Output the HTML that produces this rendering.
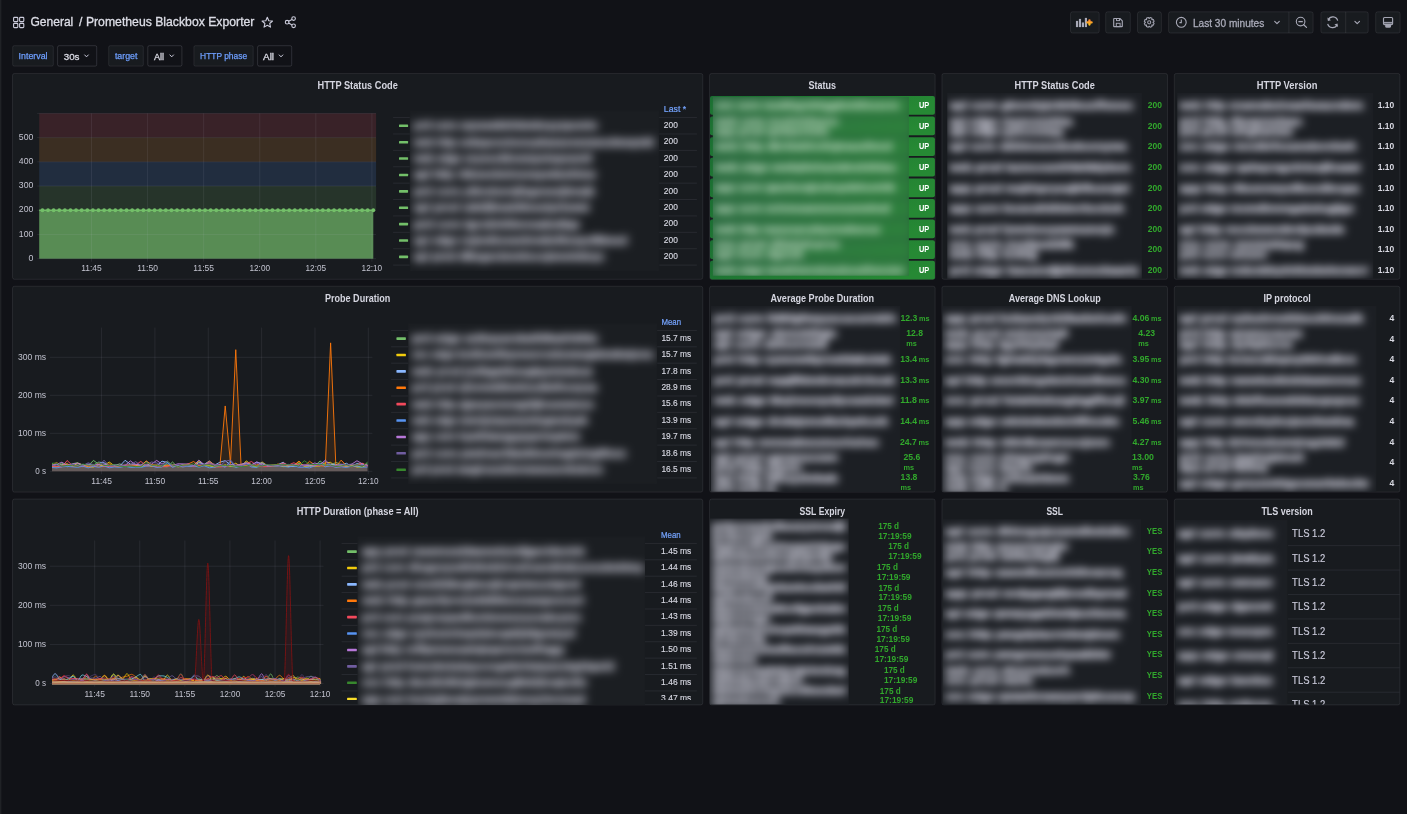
<!DOCTYPE html>
<html><head><meta charset="utf-8"><title>Prometheus Blackbox Exporter - Grafana</title>
<style>html,body{margin:0;padding:0;background:#111217;overflow:hidden}svg{display:block}text{font-family:'Liberation Sans', Arial, sans-serif}</style>
</head><body>
<svg width="1407" height="814" viewBox="0 0 1407 814">
<defs><filter id="b45" x="-10%" y="-10%" width="120%" height="120%" color-interpolation-filters="sRGB"><feGaussianBlur stdDeviation="4.5"/></filter><filter id="b50" x="-10%" y="-10%" width="120%" height="120%" color-interpolation-filters="sRGB"><feGaussianBlur stdDeviation="5.0"/></filter><linearGradient id="gstat" x1="0" y1="0" x2="1" y2="0.3"><stop offset="0" stop-color="#1b6e32"/><stop offset="1" stop-color="#268934"/></linearGradient><linearGradient id="gstat2" x1="0" y1="0" x2="1" y2="0.3"><stop offset="0" stop-color="#2f6e45"/><stop offset="1" stop-color="#2d7f3c"/></linearGradient></defs>
<rect x="0" y="0" width="1407" height="814" fill="#111217" />
<rect x="0" y="0" width="1.4" height="814" fill="#202226" />
<rect x="13.6" y="17.4" width="4.2" height="4.2" fill="none" rx="0.8" stroke="#ccccdc" stroke-width="1.1" />
<rect x="19.6" y="17.4" width="4.2" height="4.2" fill="none" rx="0.8" stroke="#ccccdc" stroke-width="1.1" />
<rect x="13.6" y="23.4" width="4.2" height="4.2" fill="none" rx="0.8" stroke="#ccccdc" stroke-width="1.1" />
<rect x="19.6" y="23.4" width="4.2" height="4.2" fill="none" rx="0.8" stroke="#ccccdc" stroke-width="1.1" />
<text x="30.4" y="26.4" font-size="13.2" fill="#dcdde6" stroke="#dcdde6" stroke-width="0.35" font-weight="500" textLength="42.9" lengthAdjust="spacingAndGlyphs" >General</text>
<text x="79.1" y="26.4" font-size="13.2" fill="#dcdde6" stroke="#dcdde6" stroke-width="0.35" font-weight="500" textLength="175.3" lengthAdjust="spacingAndGlyphs" >/ Prometheus Blackbox Exporter</text>
<polygon points="267.3,17.2 268.77,20.68 272.53,21 269.68,23.47 270.53,27.15 267.3,25.2 264.07,27.15 264.92,23.47 262.07,21 265.83,20.68" fill="none" stroke="#ccccdc" stroke-width="1.1" stroke-linejoin="round"/>
<g fill="none" stroke="#ccccdc" stroke-width="1.1"><circle cx="293.6" cy="18.6" r="1.8"/><circle cx="293.6" cy="25.8" r="1.8"/><circle cx="287.1" cy="22.2" r="1.8"/><line x1="288.7" y1="21.3" x2="292" y2="19.5"/><line x1="288.7" y1="23.1" x2="292" y2="24.9"/></g>
<rect x="1070.5" y="11.8" width="28.7" height="21.2" fill="#181b1f" rx="2" stroke="rgba(204,204,220,0.10)" stroke-width="1" />
<rect x="1105.7" y="11.8" width="24.6" height="21.2" fill="#181b1f" rx="2" stroke="rgba(204,204,220,0.10)" stroke-width="1" />
<rect x="1137.5" y="11.8" width="23.9" height="21.2" fill="#181b1f" rx="2" stroke="rgba(204,204,220,0.10)" stroke-width="1" />
<rect x="1168.6" y="11.8" width="144.5" height="21.2" fill="#181b1f" rx="2" stroke="rgba(204,204,220,0.10)" stroke-width="1" />
<rect x="1320.9" y="11.8" width="47.3" height="21.2" fill="#181b1f" rx="2" stroke="rgba(204,204,220,0.10)" stroke-width="1" />
<rect x="1375.7" y="11.8" width="24.4" height="21.2" fill="#181b1f" rx="2" stroke="rgba(204,204,220,0.10)" stroke-width="1" />
<line x1="1288.9" y1="11.8" x2="1288.9" y2="33" stroke="rgba(204,204,220,0.10)" stroke-width="1" />
<line x1="1345.7" y1="11.8" x2="1345.7" y2="33" stroke="rgba(204,204,220,0.10)" stroke-width="1" />
<rect x="1075.95" y="20.9" width="2.15" height="6.2" fill="#a8a9b7" />
<rect x="1078.9" y="18.9" width="2.15" height="8.2" fill="#a8a9b7" />
<rect x="1081.85" y="22.45" width="2.15" height="4.65" fill="#a8a9b7" />
<rect x="1084.85" y="17.9" width="2.15" height="9.2" fill="#a8a9b7" />
<linearGradient id="gplus" x1="0" y1="0" x2="0" y2="1"><stop offset="0" stop-color="#ff8733"/><stop offset="1" stop-color="#ffc21a"/></linearGradient>
<path d="M1089.45 20.3 L1089.45 24.6 M1087.3 22.45 L1091.6 22.45" stroke="url(#gplus)" stroke-width="2.3" stroke-linecap="round"/>
<path d="M1114.1 18.5 H1119.9 L1122.3 20.9 V26.2 Q1122.3 26.6 1121.9 26.6 H1114.1 Q1113.7 26.6 1113.7 26.2 V18.9 Q1113.7 18.5 1114.1 18.5 Z" fill="none" stroke="#a3a4b2" stroke-width="1.15" stroke-linejoin="round"/><rect x="1116.5" y="18.5" width="3" height="2.1" fill="none" stroke="#a3a4b2" stroke-width="1.0"/><rect x="1116.3" y="23.3" width="3.8" height="3.3" fill="none" stroke="#a3a4b2" stroke-width="1.0"/>
<polygon points="1153.05,22.48 1154.11,23.31 1153.35,25.14 1152.01,24.98 1151.83,25.16 1151.99,26.5 1150.16,27.26 1149.33,26.2 1149.07,26.2 1148.24,27.26 1146.41,26.5 1146.57,25.16 1146.39,24.98 1145.05,25.14 1144.29,23.31 1145.35,22.48 1145.35,22.22 1144.29,21.39 1145.05,19.56 1146.39,19.72 1146.57,19.54 1146.41,18.2 1148.24,17.44 1149.07,18.5 1149.33,18.5 1150.16,17.44 1151.99,18.2 1151.83,19.54 1152.01,19.72 1153.35,19.56 1154.11,21.39 1153.05,22.22" fill="none" stroke="#a3a4b2" stroke-width="1.05" stroke-linejoin="round"/>
<circle cx="1149.2" cy="22.35" r="1.55" fill="none" stroke="#a3a4b2" stroke-width="1.05"/>
<circle cx="1181.3" cy="22.3" r="4.9" fill="none" stroke="#a9aab8" stroke-width="1.1"/><path d="M1181.3 19.4 V22.6 H1179.4" fill="none" stroke="#a9aab8" stroke-width="1.1"/>
<text x="1193" y="26.5" font-size="10.6" fill="#a9aab8" stroke="#a9aab8" stroke-width="0.3" font-weight="500" textLength="71.2" lengthAdjust="spacingAndGlyphs" >Last 30 minutes</text>
<path d="M1274.7 21.3 L1277 23.7 L1279.3 21.3" fill="none" stroke="#a9aab8" stroke-width="1.1" stroke-linecap="round" stroke-linejoin="round"/>
<circle cx="1300.6" cy="21.6" r="4.3" fill="none" stroke="#a9aab8" stroke-width="1.1"/><line x1="1303.7" y1="24.7" x2="1306.5" y2="27.4" stroke="#a9aab8" stroke-width="1.2" stroke-linecap="round"/><line x1="1298.4" y1="21.6" x2="1302.8" y2="21.6" stroke="#a9aab8" stroke-width="1.3"/>
<path d="M1337.7 20.7 A5 5 0 0 0 1328.3 19.9 M1327.7 23.9 A5 5 0 0 0 1337.1 24.7" fill="none" stroke="#a9aab8" stroke-width="1.2"/><path d="M1327.4 17.6 L1327.9 21 L1331 20.2 Z M1338 27 L1337.5 23.6 L1334.4 24.4 Z" fill="#a9aab8"/>
<path d="M1354.9 21.3 L1357.2 23.7 L1359.5 21.3" fill="none" stroke="#a9aab8" stroke-width="1.1" stroke-linecap="round" stroke-linejoin="round"/>
<rect x="1383.5" y="17.5" width="9.1" height="7.1" rx="1" fill="none" stroke="#a3a4b2" stroke-width="1.15"/><rect x="1384" y="22.3" width="8.2" height="2.3" fill="#a3a4b2" fill-opacity="0.55"/><line x1="1383.5" y1="22.4" x2="1392.6" y2="22.4" stroke="#a3a4b2" stroke-width="1"/><path d="M1385.2 24.6 H1391 V26.3 Q1391 27.8 1389.5 27.8 H1386.7 Q1385.2 27.8 1385.2 26.3 Z" fill="#a3a4b2"/>
<rect x="12.7" y="45.7" width="40.6" height="20.4" fill="#181b1f" rx="1.5" stroke="rgba(204,204,220,0.10)" stroke-width="1" />
<text x="18.6" y="59.1" font-size="8.6" fill="#6e9fff" stroke="#6e9fff" stroke-width="0.25" font-weight="500" textLength="28.9" lengthAdjust="spacingAndGlyphs" >Interval</text>
<rect x="57.6" y="45.7" width="39.1" height="20.4" fill="#111217" rx="1.5" stroke="rgba(204,204,220,0.16)" stroke-width="1" />
<text x="63.7" y="59.6" font-size="9.6" fill="#d8d9e2" stroke="#d8d9e2" stroke-width="0.3" textLength="15.8" lengthAdjust="spacingAndGlyphs" >30s</text>
<path d="M84.7 54.95 L86.5 56.85 L88.3 54.95" fill="none" stroke="#ccccdc" stroke-width="1" stroke-linecap="round" stroke-linejoin="round"/>
<rect x="108.7" y="45.7" width="34.6" height="20.4" fill="#181b1f" rx="1.5" stroke="rgba(204,204,220,0.10)" stroke-width="1" />
<text x="114.9" y="59.1" font-size="8.6" fill="#6e9fff" stroke="#6e9fff" stroke-width="0.25" font-weight="500" textLength="22.6" lengthAdjust="spacingAndGlyphs" >target</text>
<rect x="147.8" y="45.7" width="34.1" height="20.4" fill="#111217" rx="1.5" stroke="rgba(204,204,220,0.16)" stroke-width="1" />
<text x="153.9" y="59.6" font-size="9.6" fill="#d8d9e2" stroke="#d8d9e2" stroke-width="0.3" textLength="10.2" lengthAdjust="spacingAndGlyphs" >All</text>
<path d="M169.9 54.95 L171.7 56.85 L173.5 54.95" fill="none" stroke="#ccccdc" stroke-width="1" stroke-linecap="round" stroke-linejoin="round"/>
<rect x="193.9" y="45.7" width="59.3" height="20.4" fill="#181b1f" rx="1.5" stroke="rgba(204,204,220,0.10)" stroke-width="1" />
<text x="200.1" y="59.1" font-size="8.6" fill="#6e9fff" stroke="#6e9fff" stroke-width="0.25" font-weight="500" textLength="47" lengthAdjust="spacingAndGlyphs" >HTTP phase</text>
<rect x="257.6" y="45.7" width="34.1" height="20.4" fill="#111217" rx="1.5" stroke="rgba(204,204,220,0.16)" stroke-width="1" />
<text x="263" y="59.6" font-size="9.6" fill="#d8d9e2" stroke="#d8d9e2" stroke-width="0.3" textLength="11.1" lengthAdjust="spacingAndGlyphs" >All</text>
<path d="M279.2 54.95 L281 56.85 L282.8 54.95" fill="none" stroke="#ccccdc" stroke-width="1" stroke-linecap="round" stroke-linejoin="round"/>
<rect x="12.5" y="73.45" width="690.28" height="205.85" fill="#181b1f" rx="2" stroke="rgba(204,204,220,0.10)" stroke-width="1" />
<text x="357.64" y="89.1" font-size="10.4" fill="#d5d6e0" font-weight="700" text-anchor="middle" textLength="80.3" lengthAdjust="spacingAndGlyphs" >HTTP Status Code</text>
<rect x="709.58" y="73.45" width="225.56" height="205.85" fill="#181b1f" rx="2" stroke="rgba(204,204,220,0.10)" stroke-width="1" />
<text x="822.36" y="89.1" font-size="10.4" fill="#d5d6e0" font-weight="700" text-anchor="middle" textLength="27.6" lengthAdjust="spacingAndGlyphs" >Status</text>
<rect x="941.94" y="73.45" width="225.56" height="205.85" fill="#181b1f" rx="2" stroke="rgba(204,204,220,0.10)" stroke-width="1" />
<text x="1054.72" y="89.1" font-size="10.4" fill="#d5d6e0" font-weight="700" text-anchor="middle" textLength="80.3" lengthAdjust="spacingAndGlyphs" >HTTP Status Code</text>
<rect x="1174.3" y="73.45" width="225.56" height="205.85" fill="#181b1f" rx="2" stroke="rgba(204,204,220,0.10)" stroke-width="1" />
<text x="1287.08" y="89.1" font-size="10.4" fill="#d5d6e0" font-weight="700" text-anchor="middle" textLength="60.6" lengthAdjust="spacingAndGlyphs" >HTTP Version</text>
<rect x="12.5" y="286.25" width="690.28" height="205.85" fill="#181b1f" rx="2" stroke="rgba(204,204,220,0.10)" stroke-width="1" />
<text x="357.64" y="301.9" font-size="10.4" fill="#d5d6e0" font-weight="700" text-anchor="middle" textLength="65.3" lengthAdjust="spacingAndGlyphs" >Probe Duration</text>
<rect x="709.58" y="286.25" width="225.56" height="205.85" fill="#181b1f" rx="2" stroke="rgba(204,204,220,0.10)" stroke-width="1" />
<text x="822.36" y="301.9" font-size="10.4" fill="#d5d6e0" font-weight="700" text-anchor="middle" textLength="103.5" lengthAdjust="spacingAndGlyphs" >Average Probe Duration</text>
<rect x="941.94" y="286.25" width="225.56" height="205.85" fill="#181b1f" rx="2" stroke="rgba(204,204,220,0.10)" stroke-width="1" />
<text x="1054.72" y="301.9" font-size="10.4" fill="#d5d6e0" font-weight="700" text-anchor="middle" textLength="91.9" lengthAdjust="spacingAndGlyphs" >Average DNS Lookup</text>
<rect x="1174.3" y="286.25" width="225.56" height="205.85" fill="#181b1f" rx="2" stroke="rgba(204,204,220,0.10)" stroke-width="1" />
<text x="1287.08" y="301.9" font-size="10.4" fill="#d5d6e0" font-weight="700" text-anchor="middle" textLength="47.3" lengthAdjust="spacingAndGlyphs" >IP protocol</text>
<rect x="12.5" y="499.05" width="690.28" height="205.85" fill="#181b1f" rx="2" stroke="rgba(204,204,220,0.10)" stroke-width="1" />
<text x="357.64" y="514.7" font-size="10.4" fill="#d5d6e0" font-weight="700" text-anchor="middle" textLength="121.9" lengthAdjust="spacingAndGlyphs" >HTTP Duration (phase = All)</text>
<rect x="709.58" y="499.05" width="225.56" height="205.85" fill="#181b1f" rx="2" stroke="rgba(204,204,220,0.10)" stroke-width="1" />
<text x="822.36" y="514.7" font-size="10.4" fill="#d5d6e0" font-weight="700" text-anchor="middle" textLength="45.6" lengthAdjust="spacingAndGlyphs" >SSL Expiry</text>
<rect x="941.94" y="499.05" width="225.56" height="205.85" fill="#181b1f" rx="2" stroke="rgba(204,204,220,0.10)" stroke-width="1" />
<text x="1054.72" y="514.7" font-size="10.4" fill="#d5d6e0" font-weight="700" text-anchor="middle" textLength="16.6" lengthAdjust="spacingAndGlyphs" >SSL</text>
<rect x="1174.3" y="499.05" width="225.56" height="205.85" fill="#181b1f" rx="2" stroke="rgba(204,204,220,0.10)" stroke-width="1" />
<text x="1287.08" y="514.7" font-size="10.4" fill="#d5d6e0" font-weight="700" text-anchor="middle" textLength="51.4" lengthAdjust="spacingAndGlyphs" >TLS version</text>
<rect x="39.2" y="113.4" width="336.9" height="24.22" fill="#392228" />
<rect x="39.2" y="137.62" width="336.9" height="24.22" fill="#3b2e22" />
<rect x="39.2" y="161.83" width="336.9" height="24.22" fill="#212d3f" />
<rect x="39.2" y="186.05" width="336.9" height="24.22" fill="#26342a" />
<rect x="39.2" y="210.27" width="334.1" height="48.43" fill="#588c54" />
<line x1="91.5" y1="113.4" x2="91.5" y2="261.7" stroke="rgba(204,204,220,0.09)" stroke-width="1" />
<line x1="147.58" y1="113.4" x2="147.58" y2="261.7" stroke="rgba(204,204,220,0.09)" stroke-width="1" />
<line x1="203.66" y1="113.4" x2="203.66" y2="261.7" stroke="rgba(204,204,220,0.09)" stroke-width="1" />
<line x1="259.74" y1="113.4" x2="259.74" y2="261.7" stroke="rgba(204,204,220,0.09)" stroke-width="1" />
<line x1="315.82" y1="113.4" x2="315.82" y2="261.7" stroke="rgba(204,204,220,0.09)" stroke-width="1" />
<line x1="371.9" y1="113.4" x2="371.9" y2="261.7" stroke="rgba(204,204,220,0.09)" stroke-width="1" />
<line x1="37.2" y1="258.7" x2="376.1" y2="258.7" stroke="rgba(204,204,220,0.09)" stroke-width="1" />
<line x1="37.2" y1="234.48" x2="376.1" y2="234.48" stroke="rgba(204,204,220,0.09)" stroke-width="1" />
<line x1="37.2" y1="210.27" x2="376.1" y2="210.27" stroke="rgba(204,204,220,0.09)" stroke-width="1" />
<line x1="37.2" y1="186.05" x2="376.1" y2="186.05" stroke="rgba(204,204,220,0.09)" stroke-width="1" />
<line x1="37.2" y1="161.83" x2="376.1" y2="161.83" stroke="rgba(204,204,220,0.09)" stroke-width="1" />
<line x1="37.2" y1="137.62" x2="376.1" y2="137.62" stroke="rgba(204,204,220,0.09)" stroke-width="1" />
<line x1="37.2" y1="113.4" x2="376.1" y2="113.4" stroke="rgba(204,204,220,0.09)" stroke-width="1" />
<line x1="39.2" y1="210.27" x2="373.3" y2="210.27" stroke="#73BF69" stroke-width="1.5" />
<g fill="#73BF69"><circle cx="373.3" cy="210.27" r="1.9"/><circle cx="367.69" cy="210.27" r="1.9"/><circle cx="362.08" cy="210.27" r="1.9"/><circle cx="356.48" cy="210.27" r="1.9"/><circle cx="350.87" cy="210.27" r="1.9"/><circle cx="345.26" cy="210.27" r="1.9"/><circle cx="339.65" cy="210.27" r="1.9"/><circle cx="334.04" cy="210.27" r="1.9"/><circle cx="328.44" cy="210.27" r="1.9"/><circle cx="322.83" cy="210.27" r="1.9"/><circle cx="317.22" cy="210.27" r="1.9"/><circle cx="311.61" cy="210.27" r="1.9"/><circle cx="306" cy="210.27" r="1.9"/><circle cx="300.4" cy="210.27" r="1.9"/><circle cx="294.79" cy="210.27" r="1.9"/><circle cx="289.18" cy="210.27" r="1.9"/><circle cx="283.57" cy="210.27" r="1.9"/><circle cx="277.96" cy="210.27" r="1.9"/><circle cx="272.36" cy="210.27" r="1.9"/><circle cx="266.75" cy="210.27" r="1.9"/><circle cx="261.14" cy="210.27" r="1.9"/><circle cx="255.53" cy="210.27" r="1.9"/><circle cx="249.92" cy="210.27" r="1.9"/><circle cx="244.32" cy="210.27" r="1.9"/><circle cx="238.71" cy="210.27" r="1.9"/><circle cx="233.1" cy="210.27" r="1.9"/><circle cx="227.49" cy="210.27" r="1.9"/><circle cx="221.88" cy="210.27" r="1.9"/><circle cx="216.28" cy="210.27" r="1.9"/><circle cx="210.67" cy="210.27" r="1.9"/><circle cx="205.06" cy="210.27" r="1.9"/><circle cx="199.45" cy="210.27" r="1.9"/><circle cx="193.84" cy="210.27" r="1.9"/><circle cx="188.24" cy="210.27" r="1.9"/><circle cx="182.63" cy="210.27" r="1.9"/><circle cx="177.02" cy="210.27" r="1.9"/><circle cx="171.41" cy="210.27" r="1.9"/><circle cx="165.8" cy="210.27" r="1.9"/><circle cx="160.2" cy="210.27" r="1.9"/><circle cx="154.59" cy="210.27" r="1.9"/><circle cx="148.98" cy="210.27" r="1.9"/><circle cx="143.37" cy="210.27" r="1.9"/><circle cx="137.76" cy="210.27" r="1.9"/><circle cx="132.16" cy="210.27" r="1.9"/><circle cx="126.55" cy="210.27" r="1.9"/><circle cx="120.94" cy="210.27" r="1.9"/><circle cx="115.33" cy="210.27" r="1.9"/><circle cx="109.72" cy="210.27" r="1.9"/><circle cx="104.12" cy="210.27" r="1.9"/><circle cx="98.51" cy="210.27" r="1.9"/><circle cx="92.9" cy="210.27" r="1.9"/><circle cx="87.29" cy="210.27" r="1.9"/><circle cx="81.68" cy="210.27" r="1.9"/><circle cx="76.08" cy="210.27" r="1.9"/><circle cx="70.47" cy="210.27" r="1.9"/><circle cx="64.86" cy="210.27" r="1.9"/><circle cx="59.25" cy="210.27" r="1.9"/><circle cx="53.64" cy="210.27" r="1.9"/><circle cx="48.04" cy="210.27" r="1.9"/><circle cx="42.43" cy="210.27" r="1.9"/></g>
<text x="33.3" y="139.82" font-size="9.5" fill="#c2c3cf" text-anchor="end" textLength="14.5" lengthAdjust="spacingAndGlyphs" >500</text>
<text x="33.3" y="164.03" font-size="9.5" fill="#c2c3cf" text-anchor="end" textLength="14.5" lengthAdjust="spacingAndGlyphs" >400</text>
<text x="33.3" y="188.25" font-size="9.5" fill="#c2c3cf" text-anchor="end" textLength="14.5" lengthAdjust="spacingAndGlyphs" >300</text>
<text x="33.3" y="212.47" font-size="9.5" fill="#c2c3cf" text-anchor="end" textLength="14.5" lengthAdjust="spacingAndGlyphs" >200</text>
<text x="33.3" y="236.68" font-size="9.5" fill="#c2c3cf" text-anchor="end" textLength="14.5" lengthAdjust="spacingAndGlyphs" >100</text>
<text x="33.3" y="260.9" font-size="9.5" fill="#c2c3cf" text-anchor="end" textLength="4.9" lengthAdjust="spacingAndGlyphs" >0</text>
<text x="91.5" y="271.1" font-size="9.5" fill="#c2c3cf" text-anchor="middle" textLength="20.6" lengthAdjust="spacingAndGlyphs" >11:45</text>
<text x="147.58" y="271.1" font-size="9.5" fill="#c2c3cf" text-anchor="middle" textLength="20.6" lengthAdjust="spacingAndGlyphs" >11:50</text>
<text x="203.66" y="271.1" font-size="9.5" fill="#c2c3cf" text-anchor="middle" textLength="20.6" lengthAdjust="spacingAndGlyphs" >11:55</text>
<text x="259.74" y="271.1" font-size="9.5" fill="#c2c3cf" text-anchor="middle" textLength="20.6" lengthAdjust="spacingAndGlyphs" >12:00</text>
<text x="315.82" y="271.1" font-size="9.5" fill="#c2c3cf" text-anchor="middle" textLength="20.6" lengthAdjust="spacingAndGlyphs" >12:05</text>
<text x="371.9" y="271.1" font-size="9.5" fill="#c2c3cf" text-anchor="middle" textLength="20.6" lengthAdjust="spacingAndGlyphs" >12:10</text>
<text x="663.8" y="111.9" font-size="8.8" fill="#75a4ff" stroke="#75a4ff" stroke-width="0.2" font-weight="500" textLength="22.4" lengthAdjust="spacingAndGlyphs" >Last *</text>
<line x1="393.1" y1="117.6" x2="409.8" y2="117.6" stroke="rgba(204,204,220,0.09)" stroke-width="1" />
<line x1="659.1" y1="117.6" x2="696.9" y2="117.6" stroke="rgba(204,204,220,0.09)" stroke-width="1" />
<line x1="393.1" y1="133.99" x2="409.8" y2="133.99" stroke="rgba(204,204,220,0.09)" stroke-width="1" />
<line x1="659.1" y1="133.99" x2="696.9" y2="133.99" stroke="rgba(204,204,220,0.09)" stroke-width="1" />
<line x1="393.1" y1="150.38" x2="409.8" y2="150.38" stroke="rgba(204,204,220,0.09)" stroke-width="1" />
<line x1="659.1" y1="150.38" x2="696.9" y2="150.38" stroke="rgba(204,204,220,0.09)" stroke-width="1" />
<line x1="393.1" y1="166.77" x2="409.8" y2="166.77" stroke="rgba(204,204,220,0.09)" stroke-width="1" />
<line x1="659.1" y1="166.77" x2="696.9" y2="166.77" stroke="rgba(204,204,220,0.09)" stroke-width="1" />
<line x1="393.1" y1="183.16" x2="409.8" y2="183.16" stroke="rgba(204,204,220,0.09)" stroke-width="1" />
<line x1="659.1" y1="183.16" x2="696.9" y2="183.16" stroke="rgba(204,204,220,0.09)" stroke-width="1" />
<line x1="393.1" y1="199.55" x2="409.8" y2="199.55" stroke="rgba(204,204,220,0.09)" stroke-width="1" />
<line x1="659.1" y1="199.55" x2="696.9" y2="199.55" stroke="rgba(204,204,220,0.09)" stroke-width="1" />
<line x1="393.1" y1="215.94" x2="409.8" y2="215.94" stroke="rgba(204,204,220,0.09)" stroke-width="1" />
<line x1="659.1" y1="215.94" x2="696.9" y2="215.94" stroke="rgba(204,204,220,0.09)" stroke-width="1" />
<line x1="393.1" y1="232.33" x2="409.8" y2="232.33" stroke="rgba(204,204,220,0.09)" stroke-width="1" />
<line x1="659.1" y1="232.33" x2="696.9" y2="232.33" stroke="rgba(204,204,220,0.09)" stroke-width="1" />
<line x1="393.1" y1="248.72" x2="409.8" y2="248.72" stroke="rgba(204,204,220,0.09)" stroke-width="1" />
<line x1="659.1" y1="248.72" x2="696.9" y2="248.72" stroke="rgba(204,204,220,0.09)" stroke-width="1" />
<line x1="393.1" y1="265.11" x2="409.8" y2="265.11" stroke="rgba(204,204,220,0.09)" stroke-width="1" />
<line x1="659.1" y1="265.11" x2="696.9" y2="265.11" stroke="rgba(204,204,220,0.09)" stroke-width="1" />
<rect x="399" y="124.49" width="9.1" height="2.6" fill="#73BF69" rx="0.6" />
<text x="663.8" y="128" font-size="8.5" fill="#d6d7e1" stroke="#d6d7e1" stroke-width="0.15" textLength="14" lengthAdjust="spacingAndGlyphs" >200</text>
<rect x="399" y="140.88" width="9.1" height="2.6" fill="#73BF69" rx="0.6" />
<text x="663.8" y="144.39" font-size="8.5" fill="#d6d7e1" stroke="#d6d7e1" stroke-width="0.15" textLength="14" lengthAdjust="spacingAndGlyphs" >200</text>
<rect x="399" y="157.27" width="9.1" height="2.6" fill="#73BF69" rx="0.6" />
<text x="663.8" y="160.78" font-size="8.5" fill="#d6d7e1" stroke="#d6d7e1" stroke-width="0.15" textLength="14" lengthAdjust="spacingAndGlyphs" >200</text>
<rect x="399" y="173.66" width="9.1" height="2.6" fill="#73BF69" rx="0.6" />
<text x="663.8" y="177.17" font-size="8.5" fill="#d6d7e1" stroke="#d6d7e1" stroke-width="0.15" textLength="14" lengthAdjust="spacingAndGlyphs" >200</text>
<rect x="399" y="190.05" width="9.1" height="2.6" fill="#73BF69" rx="0.6" />
<text x="663.8" y="193.56" font-size="8.5" fill="#d6d7e1" stroke="#d6d7e1" stroke-width="0.15" textLength="14" lengthAdjust="spacingAndGlyphs" >200</text>
<rect x="399" y="206.44" width="9.1" height="2.6" fill="#73BF69" rx="0.6" />
<text x="663.8" y="209.95" font-size="8.5" fill="#d6d7e1" stroke="#d6d7e1" stroke-width="0.15" textLength="14" lengthAdjust="spacingAndGlyphs" >200</text>
<rect x="399" y="222.83" width="9.1" height="2.6" fill="#73BF69" rx="0.6" />
<text x="663.8" y="226.34" font-size="8.5" fill="#d6d7e1" stroke="#d6d7e1" stroke-width="0.15" textLength="14" lengthAdjust="spacingAndGlyphs" >200</text>
<rect x="399" y="239.22" width="9.1" height="2.6" fill="#73BF69" rx="0.6" />
<text x="663.8" y="242.73" font-size="8.5" fill="#d6d7e1" stroke="#d6d7e1" stroke-width="0.15" textLength="14" lengthAdjust="spacingAndGlyphs" >200</text>
<rect x="399" y="255.62" width="9.1" height="2.6" fill="#73BF69" rx="0.6" />
<text x="663.8" y="259.12" font-size="8.5" fill="#d6d7e1" stroke="#d6d7e1" stroke-width="0.15" textLength="14" lengthAdjust="spacingAndGlyphs" >200</text>
<clipPath id="c1"><rect x="409.8" y="110.6" width="249.3" height="160.51"/></clipPath>
<g clip-path="url(#c1)"><g filter="url(#b50)">
<rect x="401.8" y="102.6" width="265.3" height="176.51" fill="#1b1e22" />
<text x="413.8" y="129.26" font-size="10.5" fill="#dcdcea" stroke="#dcdcea" stroke-width="0.5" font-weight="700" textLength="183.8" lengthAdjust="spacingAndGlyphs" >prd core xqnxeebbfxkmknyyzpcmto</text>
<text x="413.8" y="145.66" font-size="10.5" fill="#dcdcea" stroke="#dcdcea" stroke-width="0.5" font-weight="700" textLength="240.2" lengthAdjust="spacingAndGlyphs" >web http unkapcnciuvzcphaxaooexmncdwxqmbl</text>
<text x="413.8" y="162.04" font-size="10.5" fill="#dcdcea" stroke="#dcdcea" stroke-width="0.5" font-weight="700" textLength="178.2" lengthAdjust="spacingAndGlyphs" >web edge snysuckbnzmpshepnemtl</text>
<text x="413.8" y="178.43" font-size="10.5" fill="#dcdcea" stroke="#dcdcea" stroke-width="0.5" font-weight="700" textLength="182.2" lengthAdjust="spacingAndGlyphs" >api http rbbseobxlouvayedexhlme</text>
<text x="413.8" y="194.82" font-size="10.5" fill="#dcdcea" stroke="#dcdcea" stroke-width="0.5" font-weight="700" textLength="181.1" lengthAdjust="spacingAndGlyphs" >prd core ytknduvnjfzgsnezjtmejk</text>
<text x="413.8" y="211.22" font-size="10.5" fill="#dcdcea" stroke="#dcdcea" stroke-width="0.5" font-weight="700" textLength="175.7" lengthAdjust="spacingAndGlyphs" >api prod udsfjhnatdteuslpriuww</text>
<text x="413.8" y="227.6" font-size="10.5" fill="#dcdcea" stroke="#dcdcea" stroke-width="0.5" font-weight="700" textLength="166.2" lengthAdjust="spacingAndGlyphs" >prd core lgrzdnkiknvuabxtlqe</text>
<text x="413.8" y="243.99" font-size="10.5" fill="#dcdcea" stroke="#dcdcea" stroke-width="0.5" font-weight="700" textLength="213.5" lengthAdjust="spacingAndGlyphs" >api edge nsjmdbsoavknwknfkoxpxfkbesd</text>
<text x="413.8" y="260.38" font-size="10.5" fill="#dcdcea" stroke="#dcdcea" stroke-width="0.5" font-weight="700" textLength="190.5" lengthAdjust="spacingAndGlyphs" >api prod diksgecbnmhcccjmnnkdcqo</text>
</g></g>
<line x1="101.6" y1="327.6" x2="101.6" y2="474.3" stroke="rgba(204,204,220,0.09)" stroke-width="1" />
<line x1="154.94" y1="327.6" x2="154.94" y2="474.3" stroke="rgba(204,204,220,0.09)" stroke-width="1" />
<line x1="208.28" y1="327.6" x2="208.28" y2="474.3" stroke="rgba(204,204,220,0.09)" stroke-width="1" />
<line x1="261.62" y1="327.6" x2="261.62" y2="474.3" stroke="rgba(204,204,220,0.09)" stroke-width="1" />
<line x1="314.96" y1="327.6" x2="314.96" y2="474.3" stroke="rgba(204,204,220,0.09)" stroke-width="1" />
<line x1="368.3" y1="327.6" x2="368.3" y2="474.3" stroke="rgba(204,204,220,0.09)" stroke-width="1" />
<line x1="49.8" y1="471.3" x2="372.4" y2="471.3" stroke="rgba(204,204,220,0.09)" stroke-width="1" />
<line x1="49.8" y1="433.3" x2="372.4" y2="433.3" stroke="rgba(204,204,220,0.09)" stroke-width="1" />
<line x1="49.8" y1="395.3" x2="372.4" y2="395.3" stroke="rgba(204,204,220,0.09)" stroke-width="1" />
<line x1="49.8" y1="357.3" x2="372.4" y2="357.3" stroke="rgba(204,204,220,0.09)" stroke-width="1" />
<clipPath id="pc2"><rect x="52" y="300" width="317" height="180"/></clipPath><g clip-path="url(#pc2)">
<path d="M51.3 462.5 L56.57 466.95 L61.84 462.84 L67.11 467.03 L72.38 463.77 L77.65 462.66 L82.92 465.69 L88.19 465.8 L93.46 460.38 L98.73 464.2 L104 466.42 L109.27 466.71 L114.54 465.66 L119.81 463.79 L125.08 466.65 L130.35 466.15 L135.62 465.78 L140.89 466.44 L146.16 465.53 L151.43 465.81 L156.7 465.12 L161.97 466.46 L167.24 466.85 L172.51 462.01 L177.78 467.03 L183.05 465.38 L188.32 465.12 L193.59 465.53 L198.86 465.8 L204.13 465.2 L209.4 466.04 L214.67 466.98 L219.94 465.64 L225.21 465.25 L230.48 466.24 L235.75 467.07 L241.02 464.66 L246.29 462.72 L251.56 466.23 L256.83 466.94 L262.1 465.87 L267.37 465.25 L272.64 466.49 L277.91 466.3 L283.18 462.5 L288.45 466.59 L293.72 466.01 L298.99 463.35 L304.26 466.28 L309.53 464.95 L314.8 465.94 L320.07 460.94 L325.34 465.34 L330.61 465.3 L335.88 462.38 L341.15 464.44 L346.42 466.75 L351.69 464.64 L356.96 466.89 L362.23 467.06 L367.5 463.05 L367.5 471.3 L51.3 471.3 Z" fill="#73BF69" fill-opacity="0.1"/>
<path d="M51.3 466.33 L56.57 466.84 L61.84 464.86 L67.11 463.81 L72.38 466.34 L77.65 463.26 L82.92 464.95 L88.19 466.79 L93.46 467.06 L98.73 464.89 L104 465.53 L109.27 462.04 L114.54 465.91 L119.81 466.37 L125.08 465.27 L130.35 465.18 L135.62 465.25 L140.89 466.6 L146.16 464.32 L151.43 466.48 L156.7 465.54 L161.97 466.1 L167.24 464.87 L172.51 466.29 L177.78 466.6 L183.05 466.65 L188.32 465.07 L193.59 466.03 L198.86 461.39 L204.13 465.05 L209.4 465.41 L214.67 466.71 L219.94 466.36 L225.21 464.9 L230.48 466.2 L235.75 463.18 L241.02 466.78 L246.29 460.87 L251.56 464.88 L256.83 466.32 L262.1 461.97 L267.37 465.64 L272.64 464.99 L277.91 465.13 L283.18 466.64 L288.45 466.45 L293.72 465.78 L298.99 461.5 L304.26 466.31 L309.53 465.79 L314.8 466.16 L320.07 465.98 L325.34 462.69 L330.61 462.37 L335.88 466.73 L341.15 465.47 L346.42 466.38 L351.69 465.85 L356.96 466.88 L362.23 466.55 L367.5 465.36 L367.5 471.3 L51.3 471.3 Z" fill="#F2CC0C" fill-opacity="0.1"/>
<path d="M51.3 465.08 L56.57 464.28 L61.84 464.96 L67.11 465.19 L72.38 465.33 L77.65 465.27 L82.92 464.77 L88.19 464.21 L93.46 465.08 L98.73 462.18 L104 462.72 L109.27 466.19 L114.54 464.57 L119.81 466.01 L125.08 460.27 L130.35 464.15 L135.62 464.19 L140.89 465.25 L146.16 461.25 L151.43 465.18 L156.7 465.91 L161.97 461.13 L167.24 462.45 L172.51 464.94 L177.78 466.21 L183.05 464.56 L188.32 466.12 L193.59 466.27 L198.86 462.56 L204.13 464.28 L209.4 461.08 L214.67 465.06 L219.94 462.16 L225.21 460.64 L230.48 464.91 L235.75 466.17 L241.02 466.21 L246.29 465.33 L251.56 465.1 L256.83 462.25 L262.1 463.43 L267.37 466.25 L272.64 465.65 L277.91 464.63 L283.18 462.26 L288.45 466.32 L293.72 466.33 L298.99 465.1 L304.26 465.28 L309.53 466.12 L314.8 465.37 L320.07 464.46 L325.34 465.2 L330.61 464.12 L335.88 464.46 L341.15 464.91 L346.42 463.27 L351.69 466.2 L356.96 463.62 L362.23 464.44 L367.5 464.83 L367.5 471.3 L51.3 471.3 Z" fill="#8AB8FF" fill-opacity="0.1"/>
<path d="M51.3 466.19 L56.57 462.44 L61.84 466.14 L67.11 464.52 L72.38 466.18 L77.65 466.03 L82.92 466.74 L88.19 465.66 L93.46 466.28 L98.73 466.73 L104 466.54 L109.27 463.82 L114.54 466.21 L119.81 465.53 L125.08 465.24 L130.35 464.74 L135.62 466 L140.89 466.4 L146.16 460.83 L151.43 464.71 L156.7 465.07 L161.97 466.42 L167.24 465.59 L172.51 464.91 L177.78 465.41 L183.05 465.18 L188.32 463.91 L193.59 461.48 L198.86 465.47 L204.13 465.31 L209.4 461.3 L214.67 465.03 L219.94 465.52 L225.21 405.94 L230.48 463.46 L235.75 349.7 L241.02 465.05 L246.29 465.61 L251.56 465.65 L256.83 464.99 L262.1 462.93 L267.37 466.16 L272.64 466.05 L277.91 463.99 L283.18 465.21 L288.45 465.2 L293.72 465.56 L298.99 461.06 L304.26 466.29 L309.53 461.31 L314.8 464.87 L320.07 465.72 L325.34 466.26 L330.61 342.86 L335.88 466.42 L341.15 460.17 L346.42 465.58 L351.69 465.14 L356.96 464.69 L362.23 463.29 L367.5 465.71 L367.5 471.3 L51.3 471.3 Z" fill="#FF780A" fill-opacity="0.1"/>
<path d="M51.3 466.8 L56.57 466.4 L61.84 467.12 L67.11 460.49 L72.38 465.49 L77.65 466.46 L82.92 466.22 L88.19 465.78 L93.46 466.14 L98.73 462.57 L104 466.47 L109.27 466.55 L114.54 465.96 L119.81 466.27 L125.08 465.1 L130.35 465.68 L135.62 464.98 L140.89 461.35 L146.16 466.09 L151.43 465.65 L156.7 467.01 L161.97 466.83 L167.24 466.34 L172.51 465.44 L177.78 466.53 L183.05 466.43 L188.32 463.83 L193.59 466.65 L198.86 465.99 L204.13 465.05 L209.4 463.61 L214.67 466.91 L219.94 466.91 L225.21 466.53 L230.48 465.1 L235.75 466.18 L241.02 465.92 L246.29 463.61 L251.56 461.48 L256.83 465.68 L262.1 466.63 L267.37 466.55 L272.64 466.1 L277.91 465.19 L283.18 463.01 L288.45 465.08 L293.72 462.69 L298.99 465.01 L304.26 465.17 L309.53 464.18 L314.8 465.93 L320.07 464.97 L325.34 465.64 L330.61 466.08 L335.88 467.03 L341.15 466.59 L346.42 465.65 L351.69 466.83 L356.96 465.67 L362.23 463.37 L367.5 465.79 L367.5 471.3 L51.3 471.3 Z" fill="#F2495C" fill-opacity="0.1"/>
<path d="M51.3 467.37 L56.57 467.86 L61.84 466.83 L67.11 466.41 L72.38 466.8 L77.65 467.32 L82.92 466.27 L88.19 467.83 L93.46 466.34 L98.73 467.29 L104 465.77 L109.27 467.8 L114.54 466.92 L119.81 467.43 L125.08 466.19 L130.35 467.41 L135.62 467.17 L140.89 467.35 L146.16 466.15 L151.43 465.71 L156.7 467.45 L161.97 466.93 L167.24 462.62 L172.51 467.39 L177.78 465.47 L183.05 466.98 L188.32 465.87 L193.59 465.61 L198.86 467.13 L204.13 465.75 L209.4 467.81 L214.67 467.02 L219.94 465.22 L225.21 467.24 L230.48 460.87 L235.75 467.41 L241.02 466.01 L246.29 463.55 L251.56 467.03 L256.83 467.44 L262.1 462.69 L267.37 466.03 L272.64 465.7 L277.91 465.78 L283.18 466.18 L288.45 467.11 L293.72 465.7 L298.99 467.28 L304.26 467.16 L309.53 467.87 L314.8 465.79 L320.07 463.12 L325.34 466.8 L330.61 465.71 L335.88 467.31 L341.15 466.75 L346.42 467.46 L351.69 466.2 L356.96 466.12 L362.23 467.13 L367.5 467.05 L367.5 471.3 L51.3 471.3 Z" fill="#5794F2" fill-opacity="0.1"/>
<path d="M51.3 465.8 L56.57 464.26 L61.84 462.25 L67.11 465.24 L72.38 463.97 L77.65 463.18 L82.92 464.84 L88.19 464.96 L93.46 465.03 L98.73 464.44 L104 464.05 L109.27 465.7 L114.54 465.31 L119.81 465.13 L125.08 465.53 L130.35 460.83 L135.62 464.66 L140.89 465.08 L146.16 464.82 L151.43 464.14 L156.7 460.38 L161.97 464.11 L167.24 461.1 L172.51 465.71 L177.78 463.76 L183.05 463.86 L188.32 464.01 L193.59 465.39 L198.86 460.11 L204.13 464.57 L209.4 462.62 L214.67 465.4 L219.94 464.49 L225.21 465.95 L230.48 464.43 L235.75 465.27 L241.02 464.17 L246.29 462.73 L251.56 464.73 L256.83 461.76 L262.1 465.05 L267.37 465.28 L272.64 465.27 L277.91 465.17 L283.18 464.01 L288.45 465.15 L293.72 464.32 L298.99 465.97 L304.26 465.01 L309.53 465.05 L314.8 462.98 L320.07 464.72 L325.34 460.11 L330.61 465.13 L335.88 465.65 L341.15 464.79 L346.42 465.73 L351.69 464.15 L356.96 460.76 L362.23 463.76 L367.5 465.86 L367.5 471.3 L51.3 471.3 Z" fill="#B877D9" fill-opacity="0.1"/>
<path d="M51.3 465.48 L56.57 464.95 L61.84 465.99 L67.11 465.85 L72.38 464.43 L77.65 465.94 L82.92 465.45 L88.19 462.83 L93.46 464.71 L98.73 466.27 L104 460.18 L109.27 466.09 L114.54 465.11 L119.81 465.66 L125.08 465.03 L130.35 464.86 L135.62 461.58 L140.89 465.24 L146.16 464.62 L151.43 461.98 L156.7 462.91 L161.97 466.15 L167.24 461.36 L172.51 466.17 L177.78 464.59 L183.05 466.24 L188.32 465.5 L193.59 466.05 L198.86 464.09 L204.13 464.5 L209.4 464.12 L214.67 464.18 L219.94 465.98 L225.21 461.27 L230.48 460.01 L235.75 465.73 L241.02 466.03 L246.29 464.26 L251.56 465.76 L256.83 463.18 L262.1 465.99 L267.37 464.81 L272.64 465.98 L277.91 466.1 L283.18 464.91 L288.45 464.37 L293.72 465.04 L298.99 466.12 L304.26 464.92 L309.53 464.54 L314.8 464.1 L320.07 465.54 L325.34 461.19 L330.61 466.25 L335.88 465.78 L341.15 464.12 L346.42 464.85 L351.69 464 L356.96 464.96 L362.23 465.19 L367.5 466.06 L367.5 471.3 L51.3 471.3 Z" fill="#705DA0" fill-opacity="0.1"/>
<path d="M51.3 463.34 L56.57 462.94 L61.84 466.23 L67.11 465.4 L72.38 465.32 L77.65 466.43 L82.92 463.99 L88.19 465.28 L93.46 464.96 L98.73 462.28 L104 465.46 L109.27 465.27 L114.54 464.6 L119.81 466.17 L125.08 466.64 L130.35 465.81 L135.62 466.61 L140.89 466.71 L146.16 462.09 L151.43 465.35 L156.7 465.28 L161.97 466.34 L167.24 461.45 L172.51 464.95 L177.78 466.73 L183.05 465.04 L188.32 465.05 L193.59 463.62 L198.86 466.65 L204.13 465.03 L209.4 464.81 L214.67 466.13 L219.94 465.75 L225.21 465.55 L230.48 465.28 L235.75 466.25 L241.02 466.71 L246.29 466.2 L251.56 464.59 L256.83 465.99 L262.1 465.99 L267.37 464.67 L272.64 465.16 L277.91 464.51 L283.18 464.83 L288.45 464.78 L293.72 465.09 L298.99 466.04 L304.26 460.65 L309.53 464.19 L314.8 464.62 L320.07 464.39 L325.34 465.16 L330.61 465.15 L335.88 466.59 L341.15 465.91 L346.42 464.87 L351.69 466.59 L356.96 464.66 L362.23 466.5 L367.5 462.01 L367.5 471.3 L51.3 471.3 Z" fill="#37872D" fill-opacity="0.1"/>
<path d="M51.3 462.5 L56.57 466.95 L61.84 462.84 L67.11 467.03 L72.38 463.77 L77.65 462.66 L82.92 465.69 L88.19 465.8 L93.46 460.38 L98.73 464.2 L104 466.42 L109.27 466.71 L114.54 465.66 L119.81 463.79 L125.08 466.65 L130.35 466.15 L135.62 465.78 L140.89 466.44 L146.16 465.53 L151.43 465.81 L156.7 465.12 L161.97 466.46 L167.24 466.85 L172.51 462.01 L177.78 467.03 L183.05 465.38 L188.32 465.12 L193.59 465.53 L198.86 465.8 L204.13 465.2 L209.4 466.04 L214.67 466.98 L219.94 465.64 L225.21 465.25 L230.48 466.24 L235.75 467.07 L241.02 464.66 L246.29 462.72 L251.56 466.23 L256.83 466.94 L262.1 465.87 L267.37 465.25 L272.64 466.49 L277.91 466.3 L283.18 462.5 L288.45 466.59 L293.72 466.01 L298.99 463.35 L304.26 466.28 L309.53 464.95 L314.8 465.94 L320.07 460.94 L325.34 465.34 L330.61 465.3 L335.88 462.38 L341.15 464.44 L346.42 466.75 L351.69 464.64 L356.96 466.89 L362.23 467.06 L367.5 463.05" fill="none" stroke="#73BF69" stroke-width="0.9" stroke-linejoin="round"/>
<path d="M51.3 466.33 L56.57 466.84 L61.84 464.86 L67.11 463.81 L72.38 466.34 L77.65 463.26 L82.92 464.95 L88.19 466.79 L93.46 467.06 L98.73 464.89 L104 465.53 L109.27 462.04 L114.54 465.91 L119.81 466.37 L125.08 465.27 L130.35 465.18 L135.62 465.25 L140.89 466.6 L146.16 464.32 L151.43 466.48 L156.7 465.54 L161.97 466.1 L167.24 464.87 L172.51 466.29 L177.78 466.6 L183.05 466.65 L188.32 465.07 L193.59 466.03 L198.86 461.39 L204.13 465.05 L209.4 465.41 L214.67 466.71 L219.94 466.36 L225.21 464.9 L230.48 466.2 L235.75 463.18 L241.02 466.78 L246.29 460.87 L251.56 464.88 L256.83 466.32 L262.1 461.97 L267.37 465.64 L272.64 464.99 L277.91 465.13 L283.18 466.64 L288.45 466.45 L293.72 465.78 L298.99 461.5 L304.26 466.31 L309.53 465.79 L314.8 466.16 L320.07 465.98 L325.34 462.69 L330.61 462.37 L335.88 466.73 L341.15 465.47 L346.42 466.38 L351.69 465.85 L356.96 466.88 L362.23 466.55 L367.5 465.36" fill="none" stroke="#F2CC0C" stroke-width="0.9" stroke-linejoin="round"/>
<path d="M51.3 465.08 L56.57 464.28 L61.84 464.96 L67.11 465.19 L72.38 465.33 L77.65 465.27 L82.92 464.77 L88.19 464.21 L93.46 465.08 L98.73 462.18 L104 462.72 L109.27 466.19 L114.54 464.57 L119.81 466.01 L125.08 460.27 L130.35 464.15 L135.62 464.19 L140.89 465.25 L146.16 461.25 L151.43 465.18 L156.7 465.91 L161.97 461.13 L167.24 462.45 L172.51 464.94 L177.78 466.21 L183.05 464.56 L188.32 466.12 L193.59 466.27 L198.86 462.56 L204.13 464.28 L209.4 461.08 L214.67 465.06 L219.94 462.16 L225.21 460.64 L230.48 464.91 L235.75 466.17 L241.02 466.21 L246.29 465.33 L251.56 465.1 L256.83 462.25 L262.1 463.43 L267.37 466.25 L272.64 465.65 L277.91 464.63 L283.18 462.26 L288.45 466.32 L293.72 466.33 L298.99 465.1 L304.26 465.28 L309.53 466.12 L314.8 465.37 L320.07 464.46 L325.34 465.2 L330.61 464.12 L335.88 464.46 L341.15 464.91 L346.42 463.27 L351.69 466.2 L356.96 463.62 L362.23 464.44 L367.5 464.83" fill="none" stroke="#8AB8FF" stroke-width="0.9" stroke-linejoin="round"/>
<path d="M51.3 466.19 L56.57 462.44 L61.84 466.14 L67.11 464.52 L72.38 466.18 L77.65 466.03 L82.92 466.74 L88.19 465.66 L93.46 466.28 L98.73 466.73 L104 466.54 L109.27 463.82 L114.54 466.21 L119.81 465.53 L125.08 465.24 L130.35 464.74 L135.62 466 L140.89 466.4 L146.16 460.83 L151.43 464.71 L156.7 465.07 L161.97 466.42 L167.24 465.59 L172.51 464.91 L177.78 465.41 L183.05 465.18 L188.32 463.91 L193.59 461.48 L198.86 465.47 L204.13 465.31 L209.4 461.3 L214.67 465.03 L219.94 465.52 L225.21 405.94 L230.48 463.46 L235.75 349.7 L241.02 465.05 L246.29 465.61 L251.56 465.65 L256.83 464.99 L262.1 462.93 L267.37 466.16 L272.64 466.05 L277.91 463.99 L283.18 465.21 L288.45 465.2 L293.72 465.56 L298.99 461.06 L304.26 466.29 L309.53 461.31 L314.8 464.87 L320.07 465.72 L325.34 466.26 L330.61 342.86 L335.88 466.42 L341.15 460.17 L346.42 465.58 L351.69 465.14 L356.96 464.69 L362.23 463.29 L367.5 465.71" fill="none" stroke="#FF780A" stroke-width="0.9" stroke-linejoin="round"/>
<path d="M51.3 466.8 L56.57 466.4 L61.84 467.12 L67.11 460.49 L72.38 465.49 L77.65 466.46 L82.92 466.22 L88.19 465.78 L93.46 466.14 L98.73 462.57 L104 466.47 L109.27 466.55 L114.54 465.96 L119.81 466.27 L125.08 465.1 L130.35 465.68 L135.62 464.98 L140.89 461.35 L146.16 466.09 L151.43 465.65 L156.7 467.01 L161.97 466.83 L167.24 466.34 L172.51 465.44 L177.78 466.53 L183.05 466.43 L188.32 463.83 L193.59 466.65 L198.86 465.99 L204.13 465.05 L209.4 463.61 L214.67 466.91 L219.94 466.91 L225.21 466.53 L230.48 465.1 L235.75 466.18 L241.02 465.92 L246.29 463.61 L251.56 461.48 L256.83 465.68 L262.1 466.63 L267.37 466.55 L272.64 466.1 L277.91 465.19 L283.18 463.01 L288.45 465.08 L293.72 462.69 L298.99 465.01 L304.26 465.17 L309.53 464.18 L314.8 465.93 L320.07 464.97 L325.34 465.64 L330.61 466.08 L335.88 467.03 L341.15 466.59 L346.42 465.65 L351.69 466.83 L356.96 465.67 L362.23 463.37 L367.5 465.79" fill="none" stroke="#F2495C" stroke-width="0.9" stroke-linejoin="round"/>
<path d="M51.3 467.37 L56.57 467.86 L61.84 466.83 L67.11 466.41 L72.38 466.8 L77.65 467.32 L82.92 466.27 L88.19 467.83 L93.46 466.34 L98.73 467.29 L104 465.77 L109.27 467.8 L114.54 466.92 L119.81 467.43 L125.08 466.19 L130.35 467.41 L135.62 467.17 L140.89 467.35 L146.16 466.15 L151.43 465.71 L156.7 467.45 L161.97 466.93 L167.24 462.62 L172.51 467.39 L177.78 465.47 L183.05 466.98 L188.32 465.87 L193.59 465.61 L198.86 467.13 L204.13 465.75 L209.4 467.81 L214.67 467.02 L219.94 465.22 L225.21 467.24 L230.48 460.87 L235.75 467.41 L241.02 466.01 L246.29 463.55 L251.56 467.03 L256.83 467.44 L262.1 462.69 L267.37 466.03 L272.64 465.7 L277.91 465.78 L283.18 466.18 L288.45 467.11 L293.72 465.7 L298.99 467.28 L304.26 467.16 L309.53 467.87 L314.8 465.79 L320.07 463.12 L325.34 466.8 L330.61 465.71 L335.88 467.31 L341.15 466.75 L346.42 467.46 L351.69 466.2 L356.96 466.12 L362.23 467.13 L367.5 467.05" fill="none" stroke="#5794F2" stroke-width="0.9" stroke-linejoin="round"/>
<path d="M51.3 465.8 L56.57 464.26 L61.84 462.25 L67.11 465.24 L72.38 463.97 L77.65 463.18 L82.92 464.84 L88.19 464.96 L93.46 465.03 L98.73 464.44 L104 464.05 L109.27 465.7 L114.54 465.31 L119.81 465.13 L125.08 465.53 L130.35 460.83 L135.62 464.66 L140.89 465.08 L146.16 464.82 L151.43 464.14 L156.7 460.38 L161.97 464.11 L167.24 461.1 L172.51 465.71 L177.78 463.76 L183.05 463.86 L188.32 464.01 L193.59 465.39 L198.86 460.11 L204.13 464.57 L209.4 462.62 L214.67 465.4 L219.94 464.49 L225.21 465.95 L230.48 464.43 L235.75 465.27 L241.02 464.17 L246.29 462.73 L251.56 464.73 L256.83 461.76 L262.1 465.05 L267.37 465.28 L272.64 465.27 L277.91 465.17 L283.18 464.01 L288.45 465.15 L293.72 464.32 L298.99 465.97 L304.26 465.01 L309.53 465.05 L314.8 462.98 L320.07 464.72 L325.34 460.11 L330.61 465.13 L335.88 465.65 L341.15 464.79 L346.42 465.73 L351.69 464.15 L356.96 460.76 L362.23 463.76 L367.5 465.86" fill="none" stroke="#B877D9" stroke-width="0.9" stroke-linejoin="round"/>
<path d="M51.3 465.48 L56.57 464.95 L61.84 465.99 L67.11 465.85 L72.38 464.43 L77.65 465.94 L82.92 465.45 L88.19 462.83 L93.46 464.71 L98.73 466.27 L104 460.18 L109.27 466.09 L114.54 465.11 L119.81 465.66 L125.08 465.03 L130.35 464.86 L135.62 461.58 L140.89 465.24 L146.16 464.62 L151.43 461.98 L156.7 462.91 L161.97 466.15 L167.24 461.36 L172.51 466.17 L177.78 464.59 L183.05 466.24 L188.32 465.5 L193.59 466.05 L198.86 464.09 L204.13 464.5 L209.4 464.12 L214.67 464.18 L219.94 465.98 L225.21 461.27 L230.48 460.01 L235.75 465.73 L241.02 466.03 L246.29 464.26 L251.56 465.76 L256.83 463.18 L262.1 465.99 L267.37 464.81 L272.64 465.98 L277.91 466.1 L283.18 464.91 L288.45 464.37 L293.72 465.04 L298.99 466.12 L304.26 464.92 L309.53 464.54 L314.8 464.1 L320.07 465.54 L325.34 461.19 L330.61 466.25 L335.88 465.78 L341.15 464.12 L346.42 464.85 L351.69 464 L356.96 464.96 L362.23 465.19 L367.5 466.06" fill="none" stroke="#705DA0" stroke-width="0.9" stroke-linejoin="round"/>
<path d="M51.3 463.34 L56.57 462.94 L61.84 466.23 L67.11 465.4 L72.38 465.32 L77.65 466.43 L82.92 463.99 L88.19 465.28 L93.46 464.96 L98.73 462.28 L104 465.46 L109.27 465.27 L114.54 464.6 L119.81 466.17 L125.08 466.64 L130.35 465.81 L135.62 466.61 L140.89 466.71 L146.16 462.09 L151.43 465.35 L156.7 465.28 L161.97 466.34 L167.24 461.45 L172.51 464.95 L177.78 466.73 L183.05 465.04 L188.32 465.05 L193.59 463.62 L198.86 466.65 L204.13 465.03 L209.4 464.81 L214.67 466.13 L219.94 465.75 L225.21 465.55 L230.48 465.28 L235.75 466.25 L241.02 466.71 L246.29 466.2 L251.56 464.59 L256.83 465.99 L262.1 465.99 L267.37 464.67 L272.64 465.16 L277.91 464.51 L283.18 464.83 L288.45 464.78 L293.72 465.09 L298.99 466.04 L304.26 460.65 L309.53 464.19 L314.8 464.62 L320.07 464.39 L325.34 465.16 L330.61 465.15 L335.88 466.59 L341.15 465.91 L346.42 464.87 L351.69 466.59 L356.96 464.66 L362.23 466.5 L367.5 462.01" fill="none" stroke="#37872D" stroke-width="0.9" stroke-linejoin="round"/>
</g>
<text x="46.1" y="359.9" font-size="9.5" fill="#c2c3cf" text-anchor="end" textLength="28.2" lengthAdjust="spacingAndGlyphs" >300 ms</text>
<text x="46.1" y="397.9" font-size="9.5" fill="#c2c3cf" text-anchor="end" textLength="28.2" lengthAdjust="spacingAndGlyphs" >200 ms</text>
<text x="46.1" y="435.9" font-size="9.5" fill="#c2c3cf" text-anchor="end" textLength="28.2" lengthAdjust="spacingAndGlyphs" >100 ms</text>
<text x="46.1" y="473.9" font-size="9.5" fill="#c2c3cf" text-anchor="end" textLength="10.8" lengthAdjust="spacingAndGlyphs" >0 s</text>
<text x="101.6" y="483.9" font-size="9.5" fill="#c2c3cf" text-anchor="middle" textLength="20.6" lengthAdjust="spacingAndGlyphs" >11:45</text>
<text x="154.94" y="483.9" font-size="9.5" fill="#c2c3cf" text-anchor="middle" textLength="20.6" lengthAdjust="spacingAndGlyphs" >11:50</text>
<text x="208.28" y="483.9" font-size="9.5" fill="#c2c3cf" text-anchor="middle" textLength="20.6" lengthAdjust="spacingAndGlyphs" >11:55</text>
<text x="261.62" y="483.9" font-size="9.5" fill="#c2c3cf" text-anchor="middle" textLength="20.6" lengthAdjust="spacingAndGlyphs" >12:00</text>
<text x="314.96" y="483.9" font-size="9.5" fill="#c2c3cf" text-anchor="middle" textLength="20.6" lengthAdjust="spacingAndGlyphs" >12:05</text>
<text x="368.3" y="483.9" font-size="9.5" fill="#c2c3cf" text-anchor="middle" textLength="20.6" lengthAdjust="spacingAndGlyphs" >12:10</text>
<text x="661.4" y="324.7" font-size="8.8" fill="#75a4ff" stroke="#75a4ff" stroke-width="0.2" font-weight="500" textLength="19.6" lengthAdjust="spacingAndGlyphs" >Mean</text>
<line x1="391.1" y1="330.4" x2="408.3" y2="330.4" stroke="rgba(204,204,220,0.09)" stroke-width="1" />
<line x1="657.1" y1="330.4" x2="696.8" y2="330.4" stroke="rgba(204,204,220,0.09)" stroke-width="1" />
<line x1="391.1" y1="346.79" x2="408.3" y2="346.79" stroke="rgba(204,204,220,0.09)" stroke-width="1" />
<line x1="657.1" y1="346.79" x2="696.8" y2="346.79" stroke="rgba(204,204,220,0.09)" stroke-width="1" />
<line x1="391.1" y1="363.18" x2="408.3" y2="363.18" stroke="rgba(204,204,220,0.09)" stroke-width="1" />
<line x1="657.1" y1="363.18" x2="696.8" y2="363.18" stroke="rgba(204,204,220,0.09)" stroke-width="1" />
<line x1="391.1" y1="379.57" x2="408.3" y2="379.57" stroke="rgba(204,204,220,0.09)" stroke-width="1" />
<line x1="657.1" y1="379.57" x2="696.8" y2="379.57" stroke="rgba(204,204,220,0.09)" stroke-width="1" />
<line x1="391.1" y1="395.96" x2="408.3" y2="395.96" stroke="rgba(204,204,220,0.09)" stroke-width="1" />
<line x1="657.1" y1="395.96" x2="696.8" y2="395.96" stroke="rgba(204,204,220,0.09)" stroke-width="1" />
<line x1="391.1" y1="412.35" x2="408.3" y2="412.35" stroke="rgba(204,204,220,0.09)" stroke-width="1" />
<line x1="657.1" y1="412.35" x2="696.8" y2="412.35" stroke="rgba(204,204,220,0.09)" stroke-width="1" />
<line x1="391.1" y1="428.74" x2="408.3" y2="428.74" stroke="rgba(204,204,220,0.09)" stroke-width="1" />
<line x1="657.1" y1="428.74" x2="696.8" y2="428.74" stroke="rgba(204,204,220,0.09)" stroke-width="1" />
<line x1="391.1" y1="445.13" x2="408.3" y2="445.13" stroke="rgba(204,204,220,0.09)" stroke-width="1" />
<line x1="657.1" y1="445.13" x2="696.8" y2="445.13" stroke="rgba(204,204,220,0.09)" stroke-width="1" />
<line x1="391.1" y1="461.52" x2="408.3" y2="461.52" stroke="rgba(204,204,220,0.09)" stroke-width="1" />
<line x1="657.1" y1="461.52" x2="696.8" y2="461.52" stroke="rgba(204,204,220,0.09)" stroke-width="1" />
<line x1="391.1" y1="477.91" x2="408.3" y2="477.91" stroke="rgba(204,204,220,0.09)" stroke-width="1" />
<line x1="657.1" y1="477.91" x2="696.8" y2="477.91" stroke="rgba(204,204,220,0.09)" stroke-width="1" />
<rect x="396.4" y="337.29" width="9.5" height="2.6" fill="#73BF69" rx="0.6" />
<text x="661.4" y="340.8" font-size="8.5" fill="#d6d7e1" stroke="#d6d7e1" stroke-width="0.15" textLength="29.8" lengthAdjust="spacingAndGlyphs" >15.7 ms</text>
<rect x="396.4" y="353.68" width="9.5" height="2.6" fill="#F2CC0C" rx="0.6" />
<text x="661.4" y="357.19" font-size="8.5" fill="#d6d7e1" stroke="#d6d7e1" stroke-width="0.15" textLength="29.8" lengthAdjust="spacingAndGlyphs" >15.7 ms</text>
<rect x="396.4" y="370.07" width="9.5" height="2.6" fill="#8AB8FF" rx="0.6" />
<text x="661.4" y="373.58" font-size="8.5" fill="#d6d7e1" stroke="#d6d7e1" stroke-width="0.15" textLength="29.8" lengthAdjust="spacingAndGlyphs" >17.8 ms</text>
<rect x="396.4" y="386.46" width="9.5" height="2.6" fill="#FF780A" rx="0.6" />
<text x="661.4" y="389.97" font-size="8.5" fill="#d6d7e1" stroke="#d6d7e1" stroke-width="0.15" textLength="29.8" lengthAdjust="spacingAndGlyphs" >28.9 ms</text>
<rect x="396.4" y="402.85" width="9.5" height="2.6" fill="#F2495C" rx="0.6" />
<text x="661.4" y="406.36" font-size="8.5" fill="#d6d7e1" stroke="#d6d7e1" stroke-width="0.15" textLength="29.8" lengthAdjust="spacingAndGlyphs" >15.6 ms</text>
<rect x="396.4" y="419.24" width="9.5" height="2.6" fill="#5794F2" rx="0.6" />
<text x="661.4" y="422.75" font-size="8.5" fill="#d6d7e1" stroke="#d6d7e1" stroke-width="0.15" textLength="29.8" lengthAdjust="spacingAndGlyphs" >13.9 ms</text>
<rect x="396.4" y="435.63" width="9.5" height="2.6" fill="#B877D9" rx="0.6" />
<text x="661.4" y="439.14" font-size="8.5" fill="#d6d7e1" stroke="#d6d7e1" stroke-width="0.15" textLength="29.8" lengthAdjust="spacingAndGlyphs" >19.7 ms</text>
<rect x="396.4" y="452.02" width="9.5" height="2.6" fill="#705DA0" rx="0.6" />
<text x="661.4" y="455.53" font-size="8.5" fill="#d6d7e1" stroke="#d6d7e1" stroke-width="0.15" textLength="29.8" lengthAdjust="spacingAndGlyphs" >18.6 ms</text>
<rect x="396.4" y="468.41" width="9.5" height="2.6" fill="#37872D" rx="0.6" />
<text x="661.4" y="471.92" font-size="8.5" fill="#d6d7e1" stroke="#d6d7e1" stroke-width="0.15" textLength="29.8" lengthAdjust="spacingAndGlyphs" >16.5 ms</text>
<clipPath id="c2"><rect x="408.3" y="323.4" width="248.8" height="160.51"/></clipPath>
<g clip-path="url(#c2)"><g filter="url(#b50)">
<rect x="400.3" y="315.4" width="264.8" height="176.51" fill="#1b1e22" />
<text x="412" y="342.06" font-size="10.5" fill="#dcdcea" stroke="#dcdcea" stroke-width="0.5" font-weight="700" textLength="186" lengthAdjust="spacingAndGlyphs" >prd edge axtkqsarsbalfdfadrhtfdu</text>
<text x="412" y="358.45" font-size="10.5" fill="#dcdcea" stroke="#dcdcea" stroke-width="0.5" font-weight="700" textLength="242" lengthAdjust="spacingAndGlyphs" >svc edge bndhmefkqmeunruxbzemegtdnwbwjomc</text>
<text x="412" y="374.84" font-size="10.5" fill="#dcdcea" stroke="#dcdcea" stroke-width="0.5" font-weight="700" textLength="181" lengthAdjust="spacingAndGlyphs" >web prod jxzlkgahkusglqstnbdcue</text>
<text x="412" y="391.23" font-size="10.5" fill="#dcdcea" stroke="#dcdcea" stroke-width="0.5" font-weight="700" textLength="185" lengthAdjust="spacingAndGlyphs" >prd prod qfsvmddhmlmsdbdfozeyua</text>
<text x="412" y="407.62" font-size="10.5" fill="#dcdcea" stroke="#dcdcea" stroke-width="0.5" font-weight="700" textLength="182" lengthAdjust="spacingAndGlyphs" >web http ajpeyaomvaglbjhuuwwnxn</text>
<text x="412" y="424.01" font-size="10.5" fill="#dcdcea" stroke="#dcdcea" stroke-width="0.5" font-weight="700" textLength="176" lengthAdjust="spacingAndGlyphs" >web edge mwmjctpqxmymtugmebyah</text>
<text x="412" y="440.4" font-size="10.5" fill="#dcdcea" stroke="#dcdcea" stroke-width="0.5" font-weight="700" textLength="168" lengthAdjust="spacingAndGlyphs" >app core hpeihlaeqgzpqnimqdem</text>
<text x="412" y="456.79" font-size="10.5" fill="#dcdcea" stroke="#dcdcea" stroke-width="0.5" font-weight="700" textLength="214" lengthAdjust="spacingAndGlyphs" >prd core pwdnacfdazkbushaglsixgtfosx</text>
<text x="412" y="473.18" font-size="10.5" fill="#dcdcea" stroke="#dcdcea" stroke-width="0.5" font-weight="700" textLength="191" lengthAdjust="spacingAndGlyphs" >prd prod awgiruxuhbvmweeuovkobmo</text>
</g></g>
<line x1="94.7" y1="540.5" x2="94.7" y2="686.6" stroke="rgba(204,204,220,0.09)" stroke-width="1" />
<line x1="139.78" y1="540.5" x2="139.78" y2="686.6" stroke="rgba(204,204,220,0.09)" stroke-width="1" />
<line x1="184.86" y1="540.5" x2="184.86" y2="686.6" stroke="rgba(204,204,220,0.09)" stroke-width="1" />
<line x1="229.94" y1="540.5" x2="229.94" y2="686.6" stroke="rgba(204,204,220,0.09)" stroke-width="1" />
<line x1="275.02" y1="540.5" x2="275.02" y2="686.6" stroke="rgba(204,204,220,0.09)" stroke-width="1" />
<line x1="320.1" y1="540.5" x2="320.1" y2="686.6" stroke="rgba(204,204,220,0.09)" stroke-width="1" />
<line x1="49.8" y1="683.6" x2="323.5" y2="683.6" stroke="rgba(204,204,220,0.09)" stroke-width="1" />
<line x1="49.8" y1="644.47" x2="323.5" y2="644.47" stroke="rgba(204,204,220,0.09)" stroke-width="1" />
<line x1="49.8" y1="605.34" x2="323.5" y2="605.34" stroke="rgba(204,204,220,0.09)" stroke-width="1" />
<line x1="49.8" y1="566.21" x2="323.5" y2="566.21" stroke="rgba(204,204,220,0.09)" stroke-width="1" />
<clipPath id="pc3"><rect x="52" y="520" width="269.5" height="170"/></clipPath><g clip-path="url(#pc3)">
<path d="M50.7 679.03 C52.2 679.02 53.69 679.03 55.19 678.99 C56.68 678.96 58.18 678.52 59.68 678.52 C61.17 678.52 62.67 678.87 64.16 679.18 C65.66 679.49 67.16 680.04 68.65 680.38 C70.15 680.71 71.65 681.19 73.14 681.19 C74.64 681.19 76.13 680.58 77.63 680.48 C79.13 680.37 80.62 680.45 82.12 680.24 C83.61 680.04 85.11 678.61 86.61 678.61 C88.1 678.61 89.6 678.61 91.09 678.92 C92.59 679.23 94.09 681.17 95.58 681.17 C97.08 681.17 98.58 680.06 100.07 680.06 C101.57 680.06 103.06 680.3 104.56 680.3 C106.06 680.3 107.55 680.3 109.05 679.78 C110.54 679.26 112.04 674.12 113.54 674.12 C115.03 674.12 116.53 677.79 118.02 678.43 C119.52 679.07 121.02 678.81 122.51 679.16 C124.01 679.52 125.5 681.24 127 681.24 C128.5 681.24 129.99 679.91 131.49 679.91 C132.99 679.91 134.48 680.75 135.98 680.75 C137.47 680.75 138.97 680.3 140.47 680.3 C141.96 680.3 143.46 680.54 144.95 680.54 C146.45 680.54 147.95 680.54 149.44 680.48 C150.94 680.41 152.43 679.34 153.93 679.34 C155.43 679.34 156.92 680.87 158.42 680.95 C159.92 681.03 161.41 681.03 162.91 681.03 C164.4 681.03 165.9 679.34 167.4 679.34 C168.89 679.34 170.39 679.4 171.88 679.53 C173.38 679.67 174.88 680.15 176.37 680.15 C177.87 680.15 179.36 673.77 180.86 673.77 C182.36 673.77 183.85 681.18 185.35 681.18 C186.85 681.18 188.34 680.75 189.84 680.53 C191.33 680.31 192.83 680.16 194.33 679.88 C195.82 679.6 197.32 678.83 198.81 678.83 C200.31 678.83 201.81 679.99 203.3 679.99 C204.8 679.99 206.29 679.19 207.79 679.19 C209.29 679.19 210.78 679.48 212.28 679.48 C213.77 679.48 215.27 675.49 216.77 675.49 C218.26 675.49 219.76 678.56 221.26 679.44 C222.75 680.32 224.25 680.79 225.74 680.79 C227.24 680.79 228.74 679.13 230.23 679.13 C231.73 679.13 233.22 680.91 234.72 680.91 C236.22 680.91 237.71 678.83 239.21 678.83 C240.7 678.83 242.2 680.73 243.7 680.73 C245.19 680.73 246.69 679.73 248.19 679.33 C249.68 678.92 251.18 678.29 252.67 678.29 C254.17 678.29 255.67 679.94 257.16 680.36 C258.66 680.78 260.15 680.81 261.65 680.81 C263.15 680.81 264.64 680.81 266.14 680.73 C267.63 680.66 269.13 673.93 270.63 673.93 C272.12 673.93 273.62 680.97 275.12 680.97 C276.61 680.97 278.11 678.56 279.6 678.56 C281.1 678.56 282.6 678.88 284.09 679.24 C285.59 679.6 287.08 680.47 288.58 680.71 C290.08 680.96 291.57 680.96 293.07 680.96 C294.56 680.96 296.06 677.06 297.56 677.06 C299.05 677.06 300.55 678.62 302.04 679.09 C303.54 679.56 305.04 679.88 306.53 679.88 C308.03 679.88 309.53 676.06 311.02 676.06 C312.52 676.06 314.01 680.14 315.51 680.14 C317.01 680.14 318.5 679.22 320 678.77 L320 683.6 L50.7 683.6 Z" fill="#73BF69" fill-opacity="0.04" stroke="#73BF69" stroke-width="0.8" stroke-opacity="0.9"/>
<path d="M50.7 682.34 C52.2 682.4 53.69 682.52 55.19 682.52 C56.68 682.52 58.18 682.22 59.68 682.17 C61.17 682.11 62.67 682.13 64.16 682.1 C65.66 682.08 67.16 682.01 68.65 682.01 C70.15 682.01 71.65 682.15 73.14 682.26 C74.64 682.37 76.13 682.54 77.63 682.65 C79.13 682.75 80.62 682.9 82.12 682.9 C83.61 682.9 85.11 682.09 86.61 682.09 C88.1 682.09 89.6 682.2 91.09 682.27 C92.59 682.34 94.09 682.52 95.58 682.52 C97.08 682.52 98.58 682.33 100.07 682.28 C101.57 682.23 103.06 682.22 104.56 682.22 C106.06 682.22 107.55 682.8 109.05 682.8 C110.54 682.8 112.04 682.1 113.54 682.1 C115.03 682.1 116.53 682.29 118.02 682.44 C119.52 682.58 121.02 682.97 122.51 682.97 C124.01 682.97 125.5 682.97 127 682.82 C128.5 682.68 129.99 681.91 131.49 681.91 C132.99 681.91 134.48 682.89 135.98 682.89 C137.47 682.89 138.97 682.38 140.47 682.38 C141.96 682.38 143.46 682.41 144.95 682.41 C146.45 682.41 147.95 682.04 149.44 682.04 C150.94 682.04 152.43 682.41 153.93 682.53 C155.43 682.65 156.92 682.77 158.42 682.77 C159.92 682.77 161.41 682.55 162.91 682.55 C164.4 682.55 165.9 682.87 167.4 682.87 C168.89 682.87 170.39 681.52 171.88 681.17 C173.38 680.82 174.88 680.78 176.37 680.78 C177.87 680.78 179.36 682.44 180.86 682.52 C182.36 682.6 183.85 682.59 185.35 682.6 C186.85 682.61 188.34 682.75 189.84 682.75 C191.33 682.75 192.83 681.91 194.33 681.91 C195.82 681.91 197.32 682.76 198.81 682.76 C200.31 682.76 201.81 682.55 203.3 682.55 C204.8 682.55 206.29 682.86 207.79 682.86 C209.29 682.86 210.78 682.06 212.28 682.06 C213.77 682.06 215.27 682.35 216.77 682.46 C218.26 682.58 219.76 682.75 221.26 682.75 C222.75 682.75 224.25 682.71 225.74 682.6 C227.24 682.48 228.74 682.05 230.23 682.05 C231.73 682.05 233.22 682.46 234.72 682.46 C236.22 682.46 237.71 682.44 239.21 682.37 C240.7 682.3 242.2 682.05 243.7 682.03 C245.19 682.01 246.69 682.01 248.19 682.01 C249.68 682.01 251.18 682.57 252.67 682.57 C254.17 682.57 255.67 682.51 257.16 682.51 C258.66 682.51 260.15 683.01 261.65 683.01 C263.15 683.01 264.64 682.7 266.14 682.68 C267.63 682.66 269.13 682.67 270.63 682.66 C272.12 682.65 273.62 682.58 275.12 682.51 C276.61 682.44 278.11 682.34 279.6 682.24 C281.1 682.14 282.6 681.92 284.09 681.92 C285.59 681.92 287.08 682.95 288.58 682.95 C290.08 682.95 291.57 681.95 293.07 681.95 C294.56 681.95 296.06 682.85 297.56 682.85 C299.05 682.85 300.55 681.46 302.04 681.46 C303.54 681.46 305.04 681.69 306.53 681.9 C308.03 682.11 309.53 682.59 311.02 682.72 C312.52 682.85 314.01 682.85 315.51 682.85 C317.01 682.85 318.5 682.35 320 682.1 L320 683.6 L50.7 683.6 Z" fill="#F2CC0C" fill-opacity="0.04" stroke="#F2CC0C" stroke-width="0.8" stroke-opacity="0.9"/>
<path d="M50.7 682.83 C52.2 682.58 53.69 682.2 55.19 682.08 C56.68 681.97 58.18 681.97 59.68 681.97 C61.17 681.97 62.67 682.1 64.16 682.1 C65.66 682.1 67.16 681.96 68.65 681.96 C70.15 681.96 71.65 681.99 73.14 682.03 C74.64 682.07 76.13 682.2 77.63 682.2 C79.13 682.2 80.62 682.18 82.12 682.14 C83.61 682.1 85.11 681.98 86.61 681.98 C88.1 681.98 89.6 682.56 91.09 682.7 C92.59 682.84 94.09 682.81 95.58 682.85 C97.08 682.89 98.58 682.94 100.07 682.94 C101.57 682.94 103.06 682.9 104.56 682.84 C106.06 682.78 107.55 682.84 109.05 682.43 C110.54 682.02 112.04 679.24 113.54 679.24 C115.03 679.24 116.53 682.46 118.02 682.46 C119.52 682.46 121.02 682.23 122.51 682.23 C124.01 682.23 125.5 682.57 127 682.57 C128.5 682.57 129.99 681.89 131.49 681.89 C132.99 681.89 134.48 682.08 135.98 682.27 C137.47 682.45 138.97 682.98 140.47 682.98 C141.96 682.98 143.46 682.21 144.95 682.21 C146.45 682.21 147.95 682.63 149.44 682.63 C150.94 682.63 152.43 682.63 153.93 682.41 C155.43 682.2 156.92 679.49 158.42 679.49 C159.92 679.49 161.41 682.28 162.91 682.28 C164.4 682.28 165.9 682 167.4 682 C168.89 682 170.39 682.46 171.88 682.46 C173.38 682.46 174.88 682.11 176.37 682.11 C177.87 682.11 179.36 682.5 180.86 682.5 C182.36 682.5 183.85 682.36 185.35 682.36 C186.85 682.36 188.34 682.67 189.84 682.67 C191.33 682.67 192.83 682.54 194.33 682.54 C195.82 682.54 197.32 682.69 198.81 682.69 C200.31 682.69 201.81 681.87 203.3 681.87 C204.8 681.87 206.29 681.95 207.79 682.08 C209.29 682.21 210.78 682.64 212.28 682.64 C213.77 682.64 215.27 682.64 216.77 682.32 C218.26 682.01 219.76 679.61 221.26 679.61 C222.75 679.61 224.25 681.42 225.74 681.97 C227.24 682.53 228.74 682.9 230.23 682.95 C231.73 683.01 233.22 683.01 234.72 683.01 C236.22 683.01 237.71 681.93 239.21 681.93 C240.7 681.93 242.2 682.24 243.7 682.24 C245.19 682.24 246.69 681.95 248.19 681.95 C249.68 681.95 251.18 682.29 252.67 682.29 C254.17 682.29 255.67 682.2 257.16 682.2 C258.66 682.2 260.15 682.21 261.65 682.21 C263.15 682.22 264.64 682.23 266.14 682.23 C267.63 682.23 269.13 682.23 270.63 682.12 C272.12 682.01 273.62 680.2 275.12 680.2 C276.61 680.2 278.11 681.54 279.6 681.94 C281.1 682.34 282.6 682.58 284.09 682.58 C285.59 682.58 287.08 682.09 288.58 682.09 C290.08 682.09 291.57 682.71 293.07 682.71 C294.56 682.71 296.06 682.52 297.56 682.52 C299.05 682.52 300.55 682.52 302.04 682.51 C303.54 682.5 305.04 679.8 306.53 679.8 C308.03 679.8 309.53 682.97 311.02 682.97 C312.52 682.97 314.01 682.19 315.51 682.06 C317.01 681.94 318.5 681.97 320 681.93 L320 683.6 L50.7 683.6 Z" fill="#8AB8FF" fill-opacity="0.04" stroke="#8AB8FF" stroke-width="0.8" stroke-opacity="0.9"/>
<path d="M50.7 681.21 C52.2 680.69 53.69 680.07 55.19 679.63 C56.68 679.19 58.18 679.16 59.68 678.57 C61.17 677.97 62.67 676.04 64.16 676.04 C65.66 676.04 67.16 678.18 68.65 679.04 C70.15 679.91 71.65 681.24 73.14 681.24 C74.64 681.24 76.13 680.92 77.63 680.92 C79.13 680.92 80.62 681.01 82.12 681.01 C83.61 681.01 85.11 676.52 86.61 676.52 C88.1 676.52 89.6 680.59 91.09 680.59 C92.59 680.59 94.09 676.14 95.58 676.14 C97.08 676.14 98.58 679.3 100.07 679.3 C101.57 679.3 103.06 675.23 104.56 675.23 C106.06 675.23 107.55 679.31 109.05 679.31 C110.54 679.31 112.04 678.73 113.54 678.7 C115.03 678.66 116.53 678.69 118.02 678.61 C119.52 678.53 121.02 677.51 122.51 677.11 C124.01 676.71 125.5 676.7 127 676.23 C128.5 675.77 129.99 674.32 131.49 674.32 C132.99 674.32 134.48 676.02 135.98 676.92 C137.47 677.81 138.97 679.68 140.47 679.68 C141.96 679.68 143.46 674.71 144.95 674.71 C146.45 674.71 147.95 680.26 149.44 680.26 C150.94 680.26 152.43 679.53 153.93 679.53 C155.43 679.53 156.92 680.2 158.42 680.2 C159.92 680.2 161.41 678.66 162.91 678.66 C164.4 678.66 165.9 679.3 167.4 679.7 C168.89 680.1 170.39 681.09 171.88 681.09 C173.38 681.09 174.88 679.33 176.37 679.33 C177.87 679.33 179.36 680.34 180.86 680.34 C182.36 680.34 183.85 678.57 185.35 678.57 C186.85 678.57 188.34 679.36 189.84 679.61 C191.33 679.86 192.83 679.98 194.33 680.08 C195.82 680.18 197.32 680.22 198.81 680.22 C200.31 680.22 201.81 679.8 203.3 679.6 C204.8 679.41 206.29 679.04 207.79 679.04 C209.29 679.04 210.78 681.25 212.28 681.25 C213.77 681.25 215.27 680.47 216.77 680.09 C218.26 679.72 219.76 679.02 221.26 679.02 C222.75 679.02 224.25 681.14 225.74 681.14 C227.24 681.14 228.74 679.03 230.23 679.03 C231.73 679.03 233.22 679.69 234.72 679.69 C236.22 679.69 237.71 678.92 239.21 678.92 C240.7 678.92 242.2 679.38 243.7 679.38 C245.19 679.38 246.69 676.57 248.19 676.57 C249.68 676.57 251.18 678.96 252.67 679.07 C254.17 679.18 255.67 679.13 257.16 679.2 C258.66 679.26 260.15 680.61 261.65 680.61 C263.15 680.61 264.64 679.4 266.14 679.4 C267.63 679.4 269.13 680.69 270.63 680.69 C272.12 680.69 273.62 680.1 275.12 679.19 C276.61 678.29 278.11 675.27 279.6 675.27 C281.1 675.27 282.6 678.61 284.09 679.14 C285.59 679.66 287.08 679.66 288.58 679.66 C290.08 679.66 291.57 678.83 293.07 678.83 C294.56 678.83 296.06 679.95 297.56 679.95 C299.05 679.95 300.55 678.46 302.04 678.46 C303.54 678.46 305.04 679.12 306.53 679.33 C308.03 679.54 309.53 679.71 311.02 679.71 C312.52 679.71 314.01 678.1 315.51 678.1 C317.01 678.1 318.5 678.38 320 678.52 L320 683.6 L50.7 683.6 Z" fill="#FF780A" fill-opacity="0.04" stroke="#FF780A" stroke-width="0.8" stroke-opacity="0.9"/>
<path d="M50.7 682.89 C52.2 682.62 53.69 682.09 55.19 682.09 C56.68 682.09 58.18 682.31 59.68 682.31 C61.17 682.31 62.67 681.54 64.16 681.54 C65.66 681.54 67.16 681.7 68.65 681.85 C70.15 682 71.65 682.3 73.14 682.44 C74.64 682.58 76.13 682.71 77.63 682.71 C79.13 682.71 80.62 682.61 82.12 682.51 C83.61 682.41 85.11 682.22 86.61 682.11 C88.1 682.01 89.6 681.88 91.09 681.88 C92.59 681.88 94.09 682.97 95.58 682.97 C97.08 682.97 98.58 682.8 100.07 682.8 C101.57 682.8 103.06 682.95 104.56 682.95 C106.06 682.95 107.55 682.08 109.05 681.99 C110.54 681.9 112.04 681.9 113.54 681.9 C115.03 681.9 116.53 682.94 118.02 682.94 C119.52 682.94 121.02 682.72 122.51 682.55 C124.01 682.37 125.5 681.89 127 681.89 C128.5 681.89 129.99 682.35 131.49 682.35 C132.99 682.35 134.48 681.89 135.98 681.89 C137.47 681.89 138.97 682.4 140.47 682.55 C141.96 682.71 143.46 682.83 144.95 682.83 C146.45 682.83 147.95 681.85 149.44 681.85 C150.94 681.85 152.43 682.97 153.93 682.97 C155.43 682.97 156.92 682.77 158.42 682.6 C159.92 682.43 161.41 681.95 162.91 681.95 C164.4 681.95 165.9 682.96 167.4 682.96 C168.89 682.96 170.39 682.55 171.88 682.18 C173.38 681.81 174.88 680.73 176.37 680.73 C177.87 680.73 179.36 682.04 180.86 682.13 C182.36 682.22 183.85 682.21 185.35 682.22 C186.85 682.23 188.34 682.22 189.84 682.32 C191.33 682.42 192.83 682.89 194.33 682.89 C195.82 682.89 197.32 682.78 198.81 682.71 C200.31 682.64 201.81 682.45 203.3 682.45 C204.8 682.45 206.29 682.73 207.79 682.73 C209.29 682.73 210.78 679.75 212.28 679.75 C213.77 679.75 215.27 679.75 216.77 679.82 C218.26 679.9 219.76 682.75 221.26 682.75 C222.75 682.75 224.25 682 225.74 682 C227.24 682 228.74 682.8 230.23 682.85 C231.73 682.9 233.22 682.9 234.72 682.9 C236.22 682.9 237.71 682.02 239.21 682.02 C240.7 682.02 242.2 682.48 243.7 682.48 C245.19 682.48 246.69 682.05 248.19 682.05 C249.68 682.05 251.18 682.28 252.67 682.28 C254.17 682.28 255.67 680.29 257.16 680.29 C258.66 680.29 260.15 682.36 261.65 682.36 C263.15 682.36 264.64 681.99 266.14 681.99 C267.63 681.99 269.13 682.41 270.63 682.53 C272.12 682.65 273.62 682.69 275.12 682.69 C276.61 682.69 278.11 682.66 279.6 682.62 C281.1 682.58 282.6 682.53 284.09 682.44 C285.59 682.34 287.08 682.43 288.58 681.95 C290.08 681.48 291.57 678.98 293.07 678.98 C294.56 678.98 296.06 682.01 297.56 682.23 C299.05 682.45 300.55 682.42 302.04 682.45 C303.54 682.48 305.04 682.71 306.53 682.71 C308.03 682.71 309.53 682.71 311.02 682.59 C312.52 682.46 314.01 681.84 315.51 681.84 C317.01 681.84 318.5 682.55 320 682.9 L320 683.6 L50.7 683.6 Z" fill="#F2495C" fill-opacity="0.04" stroke="#F2495C" stroke-width="0.8" stroke-opacity="0.9"/>
<path d="M50.7 679.47 C52.2 680.54 53.69 682.34 55.19 682.67 C56.68 682.99 58.18 682.99 59.68 682.99 C61.17 682.99 62.67 682.61 64.16 682.61 C65.66 682.61 67.16 683.01 68.65 683.01 C70.15 683.01 71.65 682.39 73.14 682.39 C74.64 682.39 76.13 682.44 77.63 682.5 C79.13 682.56 80.62 682.7 82.12 682.76 C83.61 682.81 85.11 682.85 86.61 682.85 C88.1 682.85 89.6 682.11 91.09 682.11 C92.59 682.11 94.09 682.65 95.58 682.78 C97.08 682.91 98.58 682.91 100.07 682.91 C101.57 682.91 103.06 682.43 104.56 682.43 C106.06 682.43 107.55 682.77 109.05 682.77 C110.54 682.77 112.04 682.18 113.54 682.18 C115.03 682.18 116.53 682.2 118.02 682.33 C119.52 682.45 121.02 682.94 122.51 682.94 C124.01 682.94 125.5 682.53 127 682.53 C128.5 682.53 129.99 682.95 131.49 682.95 C132.99 682.95 134.48 682.78 135.98 682.62 C137.47 682.46 138.97 682 140.47 682 C141.96 682 143.46 682.99 144.95 682.99 C146.45 682.99 147.95 682.45 149.44 682.45 C150.94 682.45 152.43 682.7 153.93 682.7 C155.43 682.7 156.92 682.04 158.42 682.04 C159.92 682.04 161.41 682.82 162.91 682.82 C164.4 682.82 165.9 680.31 167.4 680.31 C168.89 680.31 170.39 682.11 171.88 682.49 C173.38 682.87 174.88 682.87 176.37 682.87 C177.87 682.87 179.36 682.05 180.86 682.05 C182.36 682.05 183.85 682.64 185.35 682.64 C186.85 682.64 188.34 682.57 189.84 682.57 C191.33 682.57 192.83 682.94 194.33 682.94 C195.82 682.94 197.32 681.89 198.81 681.89 C200.31 681.89 201.81 682.41 203.3 682.41 C204.8 682.41 206.29 679.33 207.79 679.33 C209.29 679.33 210.78 682.61 212.28 682.75 C213.77 682.89 215.27 682.89 216.77 682.89 C218.26 682.89 219.76 681.04 221.26 681.04 C222.75 681.04 224.25 681.87 225.74 682.19 C227.24 682.52 228.74 682.99 230.23 682.99 C231.73 682.99 233.22 682.47 234.72 682.34 C236.22 682.2 237.71 682.25 239.21 682.19 C240.7 682.13 242.2 681.99 243.7 681.99 C245.19 681.99 246.69 682.96 248.19 682.96 C249.68 682.96 251.18 682.43 252.67 682.43 C254.17 682.43 255.67 682.68 257.16 682.68 C258.66 682.68 260.15 682.6 261.65 682.54 C263.15 682.48 264.64 682.32 266.14 682.32 C267.63 682.32 269.13 682.84 270.63 682.84 C272.12 682.84 273.62 682.23 275.12 682.14 C276.61 682.04 278.11 682.04 279.6 682.04 C281.1 682.04 282.6 682.56 284.09 682.56 C285.59 682.56 287.08 682.03 288.58 682.03 C290.08 682.03 291.57 682.55 293.07 682.55 C294.56 682.55 296.06 682.1 297.56 682.1 C299.05 682.1 300.55 682.73 302.04 682.73 C303.54 682.73 305.04 682.61 306.53 682.5 C308.03 682.39 309.53 682.08 311.02 682.07 C312.52 682.06 314.01 682.06 315.51 682.06 C317.01 682.06 318.5 682.65 320 682.95 L320 683.6 L50.7 683.6 Z" fill="#5794F2" fill-opacity="0.04" stroke="#5794F2" stroke-width="0.8" stroke-opacity="0.9"/>
<path d="M50.7 678.63 C52.2 679.28 53.69 680.57 55.19 680.57 C56.68 680.57 58.18 680.19 59.68 679.52 C61.17 678.85 62.67 676.54 64.16 676.54 C65.66 676.54 67.16 677.42 68.65 677.76 C70.15 678.1 71.65 678.52 73.14 678.6 C74.64 678.68 76.13 678.65 77.63 678.69 C79.13 678.72 80.62 679.04 82.12 679.04 C83.61 679.04 85.11 674.75 86.61 674.75 C88.1 674.75 89.6 680.52 91.09 680.52 C92.59 680.52 94.09 680.52 95.58 680.5 C97.08 680.48 98.58 678.72 100.07 678.72 C101.57 678.72 103.06 680.57 104.56 680.57 C106.06 680.57 107.55 680.06 109.05 680.06 C110.54 680.06 112.04 680.46 113.54 680.46 C115.03 680.46 116.53 675.59 118.02 675.59 C119.52 675.59 121.02 677.81 122.51 678.63 C124.01 679.45 125.5 680.52 127 680.52 C128.5 680.52 129.99 677.74 131.49 677.74 C132.99 677.74 134.48 680.89 135.98 680.89 C137.47 680.89 138.97 680.81 140.47 680.14 C141.96 679.47 143.46 676.88 144.95 676.88 C146.45 676.88 147.95 678.48 149.44 678.95 C150.94 679.42 152.43 679.4 153.93 679.69 C155.43 679.98 156.92 680.7 158.42 680.7 C159.92 680.7 161.41 680.18 162.91 679.99 C164.4 679.8 165.9 679.57 167.4 679.57 C168.89 679.57 170.39 680.22 171.88 680.4 C173.38 680.58 174.88 680.65 176.37 680.65 C177.87 680.65 179.36 680.2 180.86 680.2 C182.36 680.2 183.85 681.22 185.35 681.22 C186.85 681.22 188.34 678.89 189.84 678.89 C191.33 678.89 192.83 679.46 194.33 679.73 C195.82 679.99 197.32 680.47 198.81 680.47 C200.31 680.47 201.81 680.47 203.3 680.44 C204.8 680.41 206.29 675.84 207.79 675.84 C209.29 675.84 210.78 676.26 212.28 676.96 C213.77 677.66 215.27 679.38 216.77 680.05 C218.26 680.71 219.76 680.95 221.26 680.95 C222.75 680.95 224.25 678.62 225.74 678.62 C227.24 678.62 228.74 680.83 230.23 680.83 C231.73 680.83 233.22 680.5 234.72 680.29 C236.22 680.08 237.71 679.78 239.21 679.56 C240.7 679.35 242.2 679 243.7 679 C245.19 679 246.69 679.23 248.19 679.23 C249.68 679.23 251.18 679.17 252.67 679.17 C254.17 679.17 255.67 679.17 257.16 679.1 C258.66 679.03 260.15 673.77 261.65 673.77 C263.15 673.77 264.64 681.24 266.14 681.24 C267.63 681.24 269.13 680.09 270.63 679.65 C272.12 679.21 273.62 678.62 275.12 678.62 C276.61 678.62 278.11 680.11 279.6 680.11 C281.1 680.11 282.6 678.86 284.09 678.86 C285.59 678.86 287.08 680.21 288.58 680.21 C290.08 680.21 291.57 680 293.07 680 C294.56 680 296.06 680.45 297.56 680.45 C299.05 680.45 300.55 679.73 302.04 679.73 C303.54 679.73 305.04 680.37 306.53 680.37 C308.03 680.37 309.53 679.44 311.02 678.93 C312.52 678.41 314.01 677.28 315.51 677.28 C317.01 677.28 318.5 679.66 320 680.86 L320 683.6 L50.7 683.6 Z" fill="#B877D9" fill-opacity="0.04" stroke="#B877D9" stroke-width="0.8" stroke-opacity="0.9"/>
<path d="M50.7 682.33 C52.2 682.2 53.69 681.93 55.19 681.93 C56.68 681.93 58.18 682.02 59.68 682.02 C61.17 682.02 62.67 681.89 64.16 681.89 C65.66 681.89 67.16 682.51 68.65 682.51 C70.15 682.51 71.65 680.89 73.14 680.89 C74.64 680.89 76.13 682.43 77.63 682.43 C79.13 682.43 80.62 682.2 82.12 682.11 C83.61 682.01 85.11 681.84 86.61 681.84 C88.1 681.84 89.6 682.29 91.09 682.41 C92.59 682.52 94.09 682.56 95.58 682.56 C97.08 682.56 98.58 682.42 100.07 682.31 C101.57 682.21 103.06 681.9 104.56 681.9 C106.06 681.9 107.55 682.28 109.05 682.4 C110.54 682.51 112.04 682.57 113.54 682.57 C115.03 682.57 116.53 682.45 118.02 682.35 C119.52 682.26 121.02 681.98 122.51 681.98 C124.01 681.98 125.5 682.44 127 682.44 C128.5 682.44 129.99 682.28 131.49 682.28 C132.99 682.28 134.48 682.61 135.98 682.61 C137.47 682.61 138.97 682.06 140.47 682.06 C141.96 682.06 143.46 682.64 144.95 682.64 C146.45 682.64 147.95 682.04 149.44 682.04 C150.94 682.04 152.43 682.88 153.93 682.88 C155.43 682.88 156.92 682.38 158.42 682.2 C159.92 682.03 161.41 681.85 162.91 681.85 C164.4 681.85 165.9 682.38 167.4 682.52 C168.89 682.66 170.39 682.67 171.88 682.67 C173.38 682.67 174.88 682.42 176.37 682.42 C177.87 682.42 179.36 682.8 180.86 682.8 C182.36 682.8 183.85 682.46 185.35 682.31 C186.85 682.15 188.34 681.85 189.84 681.85 C191.33 681.85 192.83 682.96 194.33 682.96 C195.82 682.96 197.32 682.46 198.81 682.09 C200.31 681.71 201.81 680.7 203.3 680.7 C204.8 680.7 206.29 681.83 207.79 682.02 C209.29 682.22 210.78 682.18 212.28 682.23 C213.77 682.28 215.27 682.35 216.77 682.43 C218.26 682.51 219.76 682.7 221.26 682.7 C222.75 682.7 224.25 682.44 225.74 682.39 C227.24 682.34 228.74 682.34 230.23 682.34 C231.73 682.34 233.22 682.87 234.72 682.87 C236.22 682.87 237.71 682.12 239.21 682.12 C240.7 682.12 242.2 682.9 243.7 682.9 C245.19 682.9 246.69 682.43 248.19 682.4 C249.68 682.37 251.18 682.4 252.67 682.29 C254.17 682.19 255.67 680.35 257.16 680.35 C258.66 680.35 260.15 682.63 261.65 682.63 C263.15 682.63 264.64 682.6 266.14 682.6 C267.63 682.6 269.13 682.7 270.63 682.7 C272.12 682.7 273.62 681.95 275.12 681.95 C276.61 681.95 278.11 682.6 279.6 682.6 C281.1 682.6 282.6 679.69 284.09 679.69 C285.59 679.69 287.08 682.16 288.58 682.33 C290.08 682.5 291.57 682.5 293.07 682.5 C294.56 682.5 296.06 679.75 297.56 679.75 C299.05 679.75 300.55 682.01 302.04 682.01 C303.54 682.01 305.04 681.96 306.53 681.96 C308.03 681.96 309.53 682.66 311.02 682.66 C312.52 682.66 314.01 681.89 315.51 681.89 C317.01 681.89 318.5 681.89 320 681.9 L320 683.6 L50.7 683.6 Z" fill="#705DA0" fill-opacity="0.04" stroke="#705DA0" stroke-width="0.8" stroke-opacity="0.9"/>
<path d="M50.7 682.56 C52.2 682.62 53.69 682.75 55.19 682.75 C56.68 682.75 58.18 681.99 59.68 681.99 C61.17 681.99 62.67 681.99 64.16 682.08 C65.66 682.18 67.16 682.81 68.65 682.81 C70.15 682.81 71.65 682.81 73.14 682.79 C74.64 682.78 76.13 682.67 77.63 682.67 C79.13 682.67 80.62 682.88 82.12 682.88 C83.61 682.88 85.11 682.56 86.61 682.56 C88.1 682.56 89.6 682.94 91.09 682.94 C92.59 682.94 94.09 682.04 95.58 682.04 C97.08 682.04 98.58 682.73 100.07 682.73 C101.57 682.73 103.06 682.68 104.56 682.68 C106.06 682.68 107.55 682.97 109.05 682.97 C110.54 682.97 112.04 682.74 113.54 682.61 C115.03 682.48 116.53 682.18 118.02 682.18 C119.52 682.18 121.02 682.58 122.51 682.7 C124.01 682.81 125.5 682.86 127 682.86 C128.5 682.86 129.99 682.03 131.49 682.03 C132.99 682.03 134.48 682.83 135.98 682.83 C137.47 682.83 138.97 682.32 140.47 682.16 C141.96 682.01 143.46 681.89 144.95 681.89 C146.45 681.89 147.95 681.89 149.44 681.9 C150.94 681.91 152.43 682.63 153.93 682.75 C155.43 682.86 156.92 682.86 158.42 682.86 C159.92 682.86 161.41 682.8 162.91 682.71 C164.4 682.62 165.9 682.32 167.4 682.32 C168.89 682.32 170.39 682.69 171.88 682.72 C173.38 682.76 174.88 682.75 176.37 682.76 C177.87 682.78 179.36 682.87 180.86 682.87 C182.36 682.87 183.85 682.5 185.35 682.38 C186.85 682.25 188.34 682.11 189.84 682.11 C191.33 682.11 192.83 682.15 194.33 682.24 C195.82 682.33 197.32 682.54 198.81 682.65 C200.31 682.76 201.81 682.91 203.3 682.91 C204.8 682.91 206.29 682.01 207.79 682.01 C209.29 682.01 210.78 682.18 212.28 682.24 C213.77 682.29 215.27 682.33 216.77 682.35 C218.26 682.38 219.76 682.36 221.26 682.43 C222.75 682.49 224.25 682.94 225.74 682.94 C227.24 682.94 228.74 682.87 230.23 682.75 C231.73 682.62 233.22 682.17 234.72 682.17 C236.22 682.17 237.71 682.54 239.21 682.54 C240.7 682.54 242.2 682.13 243.7 682.1 C245.19 682.07 246.69 682.1 248.19 682 C249.68 681.9 251.18 680.31 252.67 680.31 C254.17 680.31 255.67 681.94 257.16 682.23 C258.66 682.53 260.15 682.53 261.65 682.53 C263.15 682.53 264.64 682.28 266.14 682.19 C267.63 682.11 269.13 682.02 270.63 682.02 C272.12 682.02 273.62 682.13 275.12 682.27 C276.61 682.42 278.11 682.88 279.6 682.88 C281.1 682.88 282.6 682.33 284.09 682.15 C285.59 681.97 287.08 681.8 288.58 681.8 C290.08 681.8 291.57 682.78 293.07 682.78 C294.56 682.78 296.06 681.05 297.56 681.05 C299.05 681.05 300.55 682.26 302.04 682.26 C303.54 682.26 305.04 682.03 306.53 682.03 C308.03 682.03 309.53 682.09 311.02 682.17 C312.52 682.25 314.01 682.5 315.51 682.5 C317.01 682.5 318.5 680.74 320 679.86 L320 683.6 L50.7 683.6 Z" fill="#37872D" fill-opacity="0.04" stroke="#37872D" stroke-width="0.8" stroke-opacity="0.9"/>
<path d="M50.7 679.13 C52.2 679.8 53.69 681.13 55.19 681.13 C56.68 681.13 58.18 677.07 59.68 677.07 C61.17 677.07 62.67 680.95 64.16 680.95 C65.66 680.95 67.16 680.95 68.65 680.68 C70.15 680.41 71.65 674.92 73.14 674.92 C74.64 674.92 76.13 680.17 77.63 680.17 C79.13 680.17 80.62 678.98 82.12 678.98 C83.61 678.98 85.11 681.01 86.61 681.01 C88.1 681.01 89.6 680.37 91.09 680.09 C92.59 679.82 94.09 679.47 95.58 679.36 C97.08 679.25 98.58 679.34 100.07 678.98 C101.57 678.62 103.06 675.71 104.56 675.71 C106.06 675.71 107.55 680.08 109.05 680.08 C110.54 680.08 112.04 674.16 113.54 674.16 C115.03 674.16 116.53 681.13 118.02 681.13 C119.52 681.13 121.02 679.05 122.51 679.05 C124.01 679.05 125.5 679.76 127 679.76 C128.5 679.76 129.99 679.76 131.49 679.51 C132.99 679.26 134.48 677.6 135.98 677.6 C137.47 677.6 138.97 680.12 140.47 680.12 C141.96 680.12 143.46 676.07 144.95 676.07 C146.45 676.07 147.95 678.66 149.44 679.42 C150.94 680.17 152.43 680.59 153.93 680.59 C155.43 680.59 156.92 680.03 158.42 680.03 C159.92 680.03 161.41 680.29 162.91 680.29 C164.4 680.29 165.9 675.06 167.4 675.06 C168.89 675.06 170.39 680.34 171.88 680.34 C173.38 680.34 174.88 679.75 176.37 679.75 C177.87 679.75 179.36 680.79 180.86 680.79 C182.36 680.79 183.85 679.88 185.35 679.61 C186.85 679.34 188.34 679.15 189.84 679.15 C191.33 679.15 192.83 680.94 194.33 680.94 C195.82 680.94 197.32 680.26 198.81 680.26 C200.31 680.26 201.81 681.09 203.3 681.09 C204.8 681.09 206.29 681.09 207.79 680.71 C209.29 680.34 210.78 677.19 212.28 677.19 C213.77 677.19 215.27 679.97 216.77 679.97 C218.26 679.97 219.76 679.42 221.26 679.18 C222.75 678.95 224.25 678.53 225.74 678.53 C227.24 678.53 228.74 681.02 230.23 681.02 C231.73 681.02 233.22 678.57 234.72 678.57 C236.22 678.57 237.71 680.95 239.21 680.95 C240.7 680.95 242.2 676.37 243.7 676.37 C245.19 676.37 246.69 681.23 248.19 681.23 C249.68 681.23 251.18 679.91 252.67 679.49 C254.17 679.06 255.67 678.69 257.16 678.69 C258.66 678.69 260.15 680.56 261.65 680.56 C263.15 680.56 264.64 676.28 266.14 676.28 C267.63 676.28 269.13 678.21 270.63 678.95 C272.12 679.7 273.62 680.74 275.12 680.74 C276.61 680.74 278.11 678.94 279.6 678.94 C281.1 678.94 282.6 680.79 284.09 680.79 C285.59 680.79 287.08 679.85 288.58 678.98 C290.08 678.11 291.57 675.56 293.07 675.56 C294.56 675.56 296.06 680.38 297.56 680.38 C299.05 680.38 300.55 679.98 302.04 679.74 C303.54 679.51 305.04 678.97 306.53 678.97 C308.03 678.97 309.53 681.14 311.02 681.14 C312.52 681.14 314.01 679.74 315.51 679.53 C317.01 679.33 318.5 679.37 320 679.32 L320 683.6 L50.7 683.6 Z" fill="#FADE2A" fill-opacity="0.04" stroke="#FADE2A" stroke-width="0.8" stroke-opacity="0.9"/>
<path d="M50.7 681.9 C52.2 682.08 53.69 682.3 55.19 682.43 C56.68 682.55 58.18 682.58 59.68 682.66 C61.17 682.74 62.67 682.92 64.16 682.92 C65.66 682.92 67.16 682.92 68.65 682.82 C70.15 682.72 71.65 681.87 73.14 681.87 C74.64 681.87 76.13 682.97 77.63 682.97 C79.13 682.97 80.62 682.79 82.12 682.79 C83.61 682.79 85.11 683.01 86.61 683.01 C88.1 683.01 89.6 682.01 91.09 682.01 C92.59 682.01 94.09 682.51 95.58 682.51 C97.08 682.51 98.58 682.24 100.07 682.24 C101.57 682.24 103.06 682.52 104.56 682.52 C106.06 682.52 107.55 682.52 109.05 682.5 C110.54 682.48 112.04 682.04 113.54 682.04 C115.03 682.04 116.53 682.82 118.02 682.82 C119.52 682.82 121.02 682.49 122.51 682.49 C124.01 682.49 125.5 682.53 127 682.6 C128.5 682.67 129.99 682.91 131.49 682.91 C132.99 682.91 134.48 682.63 135.98 682.47 C137.47 682.31 138.97 682.02 140.47 681.95 C141.96 681.87 143.46 681.87 144.95 681.87 C146.45 681.87 147.95 682.11 149.44 682.29 C150.94 682.46 152.43 682.94 153.93 682.94 C155.43 682.94 156.92 682.3 158.42 682.3 C159.92 682.3 161.41 682.32 162.91 682.34 C164.4 682.37 165.9 682.4 167.4 682.45 C168.89 682.5 170.39 682.66 171.88 682.66 C173.38 682.66 174.88 680.75 176.37 680.75 C177.87 680.75 179.36 681.86 180.86 682.22 C182.36 682.58 183.85 682.91 185.35 682.91 C186.85 682.91 188.34 682.62 189.84 682.58 C191.33 682.53 192.83 682.55 194.33 682.52 C195.82 682.5 197.32 682.35 198.81 682.35 C200.31 682.35 201.81 682.88 203.3 682.88 C204.8 682.88 206.29 681.97 207.79 681.97 C209.29 681.97 210.78 682.88 212.28 682.88 C213.77 682.88 215.27 682.8 216.77 682.72 C218.26 682.63 219.76 682.39 221.26 682.39 C222.75 682.39 224.25 682.39 225.74 682.44 C227.24 682.49 228.74 682.67 230.23 682.75 C231.73 682.82 233.22 682.88 234.72 682.88 C236.22 682.88 237.71 682.32 239.21 682.32 C240.7 682.32 242.2 682.53 243.7 682.53 C245.19 682.53 246.69 682.52 248.19 682.5 C249.68 682.47 251.18 682.43 252.67 682.37 C254.17 682.3 255.67 682.21 257.16 682.12 C258.66 682.04 260.15 681.85 261.65 681.85 C263.15 681.85 264.64 682.89 266.14 682.89 C267.63 682.89 269.13 682.72 270.63 682.55 C272.12 682.39 273.62 681.89 275.12 681.89 C276.61 681.89 278.11 682.1 279.6 682.1 C281.1 682.1 282.6 681.05 284.09 680.76 C285.59 680.48 287.08 680.4 288.58 680.4 C290.08 680.4 291.57 682.76 293.07 682.76 C294.56 682.76 296.06 682.31 297.56 682.18 C299.05 682.05 300.55 681.97 302.04 681.97 C303.54 681.97 305.04 681.99 306.53 681.99 C308.03 681.99 309.53 681.94 311.02 681.94 C312.52 681.94 314.01 682.82 315.51 682.82 C317.01 682.82 318.5 682.68 320 682.61 L320 683.6 L50.7 683.6 Z" fill="#447EBC" fill-opacity="0.04" stroke="#447EBC" stroke-width="0.8" stroke-opacity="0.9"/>
<path d="M50.7 682.21 C52.2 682.43 53.69 682.87 55.19 682.87 C56.68 682.87 58.18 682.63 59.68 682.15 C61.17 681.66 62.67 679.97 64.16 679.97 C65.66 679.97 67.16 682.9 68.65 682.9 C70.15 682.9 71.65 682.21 73.14 682.07 C74.64 681.93 76.13 681.93 77.63 681.93 C79.13 681.93 80.62 682.71 82.12 682.71 C83.61 682.71 85.11 682.55 86.61 682.49 C88.1 682.42 89.6 682.33 91.09 682.33 C92.59 682.33 94.09 682.99 95.58 682.99 C97.08 682.99 98.58 682.07 100.07 682.07 C101.57 682.07 103.06 682.36 104.56 682.36 C106.06 682.36 107.55 682.21 109.05 682.21 C110.54 682.21 112.04 682.84 113.54 682.84 C115.03 682.84 116.53 682.51 118.02 682.38 C119.52 682.25 121.02 682.06 122.51 682.06 C124.01 682.06 125.5 683 127 683 C128.5 683 129.99 683 131.49 682.84 C132.99 682.67 134.48 681.99 135.98 681.99 C137.47 681.99 138.97 682.97 140.47 682.97 C141.96 682.97 143.46 682.05 144.95 682.05 C146.45 682.05 147.95 682.42 149.44 682.55 C150.94 682.68 152.43 682.83 153.93 682.83 C155.43 682.83 156.92 682.64 158.42 682.55 C159.92 682.46 161.41 682.3 162.91 682.3 C164.4 682.3 165.9 682.63 167.4 682.63 C168.89 682.63 170.39 681.96 171.88 681.96 C173.38 681.96 174.88 682.96 176.37 682.96 C177.87 682.96 179.36 682.66 180.86 682.59 C182.36 682.52 183.85 682.58 185.35 682.34 C186.85 682.09 188.34 680.46 189.84 680.46 C191.33 680.46 192.83 680.76 194.33 680.76 C195.82 680.76 197.32 680.73 198.81 680.73 C200.31 680.73 201.81 681.9 203.3 682.23 C204.8 682.55 206.29 682.68 207.79 682.69 C209.29 682.71 210.78 682.71 212.28 682.71 C213.77 682.71 215.27 682.71 216.77 682.39 C218.26 682.08 219.76 679.75 221.26 679.75 C222.75 679.75 224.25 682.11 225.74 682.11 C227.24 682.11 228.74 682.1 230.23 682.1 C231.73 682.1 233.22 682.17 234.72 682.27 C236.22 682.36 237.71 682.68 239.21 682.68 C240.7 682.68 242.2 681.99 243.7 681.99 C245.19 681.99 246.69 682.21 248.19 682.21 C249.68 682.21 251.18 682.12 252.67 682.12 C254.17 682.12 255.67 682.33 257.16 682.42 C258.66 682.5 260.15 682.6 261.65 682.6 C263.15 682.6 264.64 682.54 266.14 682.54 C267.63 682.54 269.13 682.62 270.63 682.62 C272.12 682.62 273.62 681.85 275.12 681.85 C276.61 681.85 278.11 682.43 279.6 682.58 C281.1 682.73 282.6 682.74 284.09 682.74 C285.59 682.74 287.08 680.03 288.58 680.03 C290.08 680.03 291.57 682.48 293.07 682.48 C294.56 682.48 296.06 682.35 297.56 682.35 C299.05 682.35 300.55 682.81 302.04 682.81 C303.54 682.81 305.04 682.77 306.53 682.66 C308.03 682.55 309.53 682.28 311.02 682.16 C312.52 682.04 314.01 681.91 315.51 681.91 C317.01 681.91 318.5 681.93 320 681.93 L320 683.6 L50.7 683.6 Z" fill="#FA6400" fill-opacity="0.04" stroke="#FA6400" stroke-width="0.8" stroke-opacity="0.9"/>
<path d="M50.7 677.2 C52.2 677.65 53.69 678.23 55.19 678.55 C56.68 678.87 58.18 679.13 59.68 679.13 C61.17 679.13 62.67 675.41 64.16 675.41 C65.66 675.41 67.16 678.79 68.65 678.79 C70.15 678.79 71.65 678.34 73.14 678.34 C74.64 678.34 76.13 680.38 77.63 680.52 C79.13 680.65 80.62 680.64 82.12 680.65 C83.61 680.67 85.11 680.7 86.61 680.7 C88.1 680.7 89.6 678.89 91.09 678.89 C92.59 678.89 94.09 680.71 95.58 680.71 C97.08 680.71 98.58 678.61 100.07 678.61 C101.57 678.61 103.06 681.03 104.56 681.03 C106.06 681.03 107.55 679.49 109.05 678.85 C110.54 678.22 112.04 677.21 113.54 677.21 C115.03 677.21 116.53 678.85 118.02 678.85 C119.52 678.85 121.02 678.72 122.51 678.72 C124.01 678.72 125.5 680.36 127 680.36 C128.5 680.36 129.99 679.56 131.49 679.47 C132.99 679.39 134.48 679.39 135.98 679.39 C137.47 679.39 138.97 681.06 140.47 681.09 C141.96 681.13 143.46 681.13 144.95 681.13 C146.45 681.13 147.95 680.53 149.44 680.34 C150.94 680.15 152.43 680.31 153.93 679.61 C155.43 678.92 156.92 674.8 158.42 674.8 C159.92 674.8 161.41 678.66 162.91 679.71 C164.4 680.76 165.9 681.1 167.4 681.1 C168.89 681.1 170.39 679.43 171.88 679.27 C173.38 679.1 174.88 679.23 176.37 678.87 C177.87 678.51 179.36 674.4 180.86 674.4 C182.36 674.4 183.85 680.09 185.35 680.09 C186.85 680.09 188.34 679.75 189.84 679.64 C191.33 679.53 192.83 679.45 194.33 679.45 C195.82 679.45 197.32 680.16 198.81 680.35 C200.31 680.53 201.81 680.55 203.3 680.55 C204.8 680.55 206.29 679.16 207.79 679.16 C209.29 679.16 210.78 680.41 212.28 680.41 C213.77 680.41 215.27 678.58 216.77 678.58 C218.26 678.58 219.76 680.49 221.26 680.49 C222.75 680.49 224.25 677.07 225.74 677.07 C227.24 677.07 228.74 679.95 230.23 679.95 C231.73 679.95 233.22 679.37 234.72 679.13 C236.22 678.9 237.71 678.81 239.21 678.54 C240.7 678.27 242.2 677.56 243.7 677.51 C245.19 677.45 246.69 677.49 248.19 677.36 C249.68 677.22 251.18 674.49 252.67 674.49 C254.17 674.49 255.67 677.2 257.16 677.99 C258.66 678.78 260.15 679.23 261.65 679.23 C263.15 679.23 264.64 676.2 266.14 676.2 C267.63 676.2 269.13 680.59 270.63 680.59 C272.12 680.59 273.62 679.89 275.12 679.89 C276.61 679.89 278.11 680.31 279.6 680.31 C281.1 680.31 282.6 680.31 284.09 679.99 C285.59 679.67 287.08 674.34 288.58 674.34 C290.08 674.34 291.57 681.07 293.07 681.07 C294.56 681.07 296.06 680.15 297.56 680.15 C299.05 680.15 300.55 681.09 302.04 681.09 C303.54 681.09 305.04 680.53 306.53 680.13 C308.03 679.73 309.53 678.66 311.02 678.66 C312.52 678.66 314.01 680.64 315.51 680.64 C317.01 680.64 318.5 680.57 320 680.53 L320 683.6 L50.7 683.6 Z" fill="#C4162A" fill-opacity="0.04" stroke="#C4162A" stroke-width="0.8" stroke-opacity="0.9"/>
<path d="M50.7 682.74 C52.2 682.53 53.69 682.12 55.19 682.12 C56.68 682.12 58.18 682.57 59.68 682.66 C61.17 682.76 62.67 682.73 64.16 682.76 C65.66 682.78 67.16 682.83 68.65 682.83 C70.15 682.83 71.65 681.99 73.14 681.99 C74.64 681.99 76.13 682.02 77.63 682.13 C79.13 682.25 80.62 682.68 82.12 682.68 C83.61 682.68 85.11 682.44 86.61 682.44 C88.1 682.44 89.6 682.82 91.09 682.82 C92.59 682.82 94.09 682.31 95.58 682.31 C97.08 682.31 98.58 682.31 100.07 682.33 C101.57 682.35 103.06 682.77 104.56 682.77 C106.06 682.77 107.55 682.72 109.05 682.59 C110.54 682.46 112.04 682 113.54 682 C115.03 682 116.53 682 118.02 682 C119.52 682 121.02 682 122.51 681.62 C124.01 681.24 125.5 678.95 127 678.95 C128.5 678.95 129.99 682.77 131.49 682.84 C132.99 682.9 134.48 682.9 135.98 682.9 C137.47 682.9 138.97 682.21 140.47 682.21 C141.96 682.21 143.46 682.61 144.95 682.61 C146.45 682.61 147.95 682.52 149.44 682.17 C150.94 681.82 152.43 680.53 153.93 680.53 C155.43 680.53 156.92 681.68 158.42 682.08 C159.92 682.49 161.41 682.97 162.91 682.97 C164.4 682.97 165.9 682.97 167.4 682.74 C168.89 682.51 170.39 679.78 171.88 679.78 C173.38 679.78 174.88 682.41 176.37 682.64 C177.87 682.87 179.36 682.87 180.86 682.87 C182.36 682.87 183.85 682.87 185.35 682.85 C186.85 682.84 188.34 682.8 189.84 682.8 C191.33 682.8 192.83 682.84 194.33 682.84 C195.82 682.84 197.32 682.43 198.81 682.43 C200.31 682.43 201.81 682.6 203.3 682.6 C204.8 682.6 206.29 681.93 207.79 681.93 C209.29 681.93 210.78 682.76 212.28 682.76 C213.77 682.76 215.27 681.98 216.77 681.98 C218.26 681.98 219.76 682.68 221.26 682.69 C222.75 682.7 224.25 682.7 225.74 682.7 C227.24 682.71 228.74 682.96 230.23 682.96 C231.73 682.96 233.22 682.96 234.72 682.53 C236.22 682.11 237.71 680.19 239.21 680.19 C240.7 680.19 242.2 682.12 243.7 682.25 C245.19 682.37 246.69 682.37 248.19 682.37 C249.68 682.37 251.18 681.86 252.67 681.86 C254.17 681.86 255.67 682.04 257.16 682.17 C258.66 682.3 260.15 682.64 261.65 682.64 C263.15 682.64 264.64 681.87 266.14 681.87 C267.63 681.87 269.13 682.4 270.63 682.56 C272.12 682.72 273.62 682.77 275.12 682.85 C276.61 682.92 278.11 683.01 279.6 683.01 C281.1 683.01 282.6 681.93 284.09 681.93 C285.59 681.93 287.08 682.16 288.58 682.3 C290.08 682.43 291.57 682.63 293.07 682.73 C294.56 682.83 296.06 682.88 297.56 682.88 C299.05 682.88 300.55 682.09 302.04 682.09 C303.54 682.09 305.04 682.95 306.53 682.95 C308.03 682.95 309.53 682.68 311.02 682.63 C312.52 682.59 314.01 682.63 315.51 682.37 C317.01 682.11 318.5 680.35 320 679.34 L320 683.6 L50.7 683.6 Z" fill="#0A437C" fill-opacity="0.04" stroke="#0A437C" stroke-width="0.8" stroke-opacity="0.9"/>
<path d="M50.7 682.01 C52.2 682.11 53.69 682.2 55.19 682.32 C56.68 682.44 58.18 682.74 59.68 682.74 C61.17 682.74 62.67 682.14 64.16 682.14 C65.66 682.14 67.16 682.14 68.65 682.18 C70.15 682.21 71.65 682.4 73.14 682.4 C74.64 682.4 76.13 682.22 77.63 682.22 C79.13 682.22 80.62 682.22 82.12 682.27 C83.61 682.33 85.11 682.75 86.61 682.75 C88.1 682.75 89.6 682.75 91.09 682.7 C92.59 682.65 94.09 682.51 95.58 682.46 C97.08 682.41 98.58 682.4 100.07 682.4 C101.57 682.4 103.06 682.75 104.56 682.75 C106.06 682.75 107.55 681.92 109.05 681.92 C110.54 681.92 112.04 682.4 113.54 682.4 C115.03 682.4 116.53 682.06 118.02 682.06 C119.52 682.06 121.02 682.81 122.51 682.81 C124.01 682.81 125.5 682.6 127 682.47 C128.5 682.34 129.99 682.4 131.49 682.04 C132.99 681.68 134.48 680.32 135.98 680.32 C137.47 680.32 138.97 681.61 140.47 682.04 C141.96 682.46 143.46 682.87 144.95 682.87 C146.45 682.87 147.95 682.76 149.44 682.72 C150.94 682.67 152.43 682.65 153.93 682.59 C155.43 682.54 156.92 682.4 158.42 682.4 C159.92 682.4 161.41 682.91 162.91 682.91 C164.4 682.91 165.9 681.84 167.4 681.84 C168.89 681.84 170.39 682.49 171.88 682.49 C173.38 682.49 174.88 682.08 176.37 682.08 C177.87 682.08 179.36 682.84 180.86 682.84 C182.36 682.84 183.85 682.58 185.35 682.58 C186.85 682.58 188.34 682.73 189.84 682.73 C191.33 682.73 192.83 682.61 194.33 682.61 C195.82 682.61 197.32 682.99 198.81 682.99 C200.31 682.99 201.81 681.14 203.3 681.14 C204.8 681.14 206.29 681.92 207.79 682.17 C209.29 682.42 210.78 682.63 212.28 682.63 C213.77 682.63 215.27 682.03 216.77 682.03 C218.26 682.03 219.76 682.14 221.26 682.27 C222.75 682.39 224.25 682.78 225.74 682.78 C227.24 682.78 228.74 682.42 230.23 682.08 C231.73 681.75 233.22 680.76 234.72 680.76 C236.22 680.76 237.71 682.5 239.21 682.58 C240.7 682.67 242.2 682.67 243.7 682.67 C245.19 682.67 246.69 682.25 248.19 682.25 C249.68 682.25 251.18 682.6 252.67 682.6 C254.17 682.6 255.67 682.33 257.16 682.33 C258.66 682.33 260.15 682.79 261.65 682.79 C263.15 682.79 264.64 682.18 266.14 682.18 C267.63 682.18 269.13 682.18 270.63 682.23 C272.12 682.29 273.62 682.93 275.12 682.93 C276.61 682.93 278.11 682.59 279.6 682.57 C281.1 682.54 282.6 682.57 284.09 682.43 C285.59 682.29 287.08 679.95 288.58 679.95 C290.08 679.95 291.57 682.47 293.07 682.47 C294.56 682.47 296.06 682.03 297.56 682.03 C299.05 682.03 300.55 682.42 302.04 682.46 C303.54 682.5 305.04 682.5 306.53 682.5 C308.03 682.5 309.53 682.43 311.02 682.41 C312.52 682.39 314.01 682.41 315.51 682.23 C317.01 682.04 318.5 680.85 320 680.16 L320 683.6 L50.7 683.6 Z" fill="#6D1F62" fill-opacity="0.04" stroke="#6D1F62" stroke-width="0.8" stroke-opacity="0.9"/>
<path d="M50.7 679.74 C52.2 678.73 53.69 676.71 55.19 676.71 C56.68 676.71 58.18 681.04 59.68 681.04 C61.17 681.04 62.67 677.39 64.16 676.46 C65.66 675.53 67.16 675.48 68.65 675.48 C70.15 675.48 71.65 678.37 73.14 679.3 C74.64 680.24 76.13 681.1 77.63 681.1 C79.13 681.1 80.62 680.54 82.12 680.11 C83.61 679.68 85.11 679.2 86.61 678.52 C88.1 677.83 89.6 676.68 91.09 675.99 C92.59 675.3 94.09 674.4 95.58 674.4 C97.08 674.4 98.58 680.5 100.07 680.5 C101.57 680.5 103.06 680.5 104.56 680.39 C106.06 680.29 107.55 678.9 109.05 678.9 C110.54 678.9 112.04 679.48 113.54 679.85 C115.03 680.22 116.53 681.11 118.02 681.11 C119.52 681.11 121.02 678.88 122.51 678.88 C124.01 678.88 125.5 678.91 127 678.91 C128.5 678.91 129.99 677.03 131.49 677.03 C132.99 677.03 134.48 680.23 135.98 680.23 C137.47 680.23 138.97 679.91 140.47 679.91 C141.96 679.91 143.46 680.12 144.95 680.25 C146.45 680.38 147.95 680.7 149.44 680.7 C150.94 680.7 152.43 676.93 153.93 676.93 C155.43 676.93 156.92 679.79 158.42 679.79 C159.92 679.79 161.41 679.7 162.91 679.7 C164.4 679.7 165.9 680.5 167.4 680.5 C168.89 680.5 170.39 680.5 171.88 680.45 C173.38 680.4 174.88 679.05 176.37 679.05 C177.87 679.05 179.36 679.99 180.86 680.01 C182.36 680.02 183.85 680.01 185.35 680.03 C186.85 680.05 188.34 681.09 189.84 681.09 C191.33 681.09 192.83 674.56 194.33 674.56 C195.82 674.56 197.32 681.06 198.81 681.06 C200.31 681.06 201.81 680.98 203.3 680.76 C204.8 680.54 206.29 679.72 207.79 679.72 C209.29 679.72 210.78 679.89 212.28 679.89 C213.77 679.89 215.27 679.4 216.77 679.4 C218.26 679.4 219.76 680.5 221.26 680.67 C222.75 680.85 224.25 680.85 225.74 680.85 C227.24 680.85 228.74 678.75 230.23 678.75 C231.73 678.75 233.22 678.88 234.72 679.1 C236.22 679.33 237.71 679.88 239.21 680.12 C240.7 680.36 242.2 680.55 243.7 680.55 C245.19 680.55 246.69 678.59 248.19 677.59 C249.68 676.58 251.18 674.51 252.67 674.51 C254.17 674.51 255.67 680.45 257.16 680.45 C258.66 680.45 260.15 680.45 261.65 679.66 C263.15 678.87 264.64 674.58 266.14 674.58 C267.63 674.58 269.13 679.89 270.63 680.36 C272.12 680.84 273.62 680.84 275.12 680.84 C276.61 680.84 278.11 678.57 279.6 678.57 C281.1 678.57 282.6 681.16 284.09 681.16 C285.59 681.16 287.08 680.29 288.58 679.5 C290.08 678.7 291.57 676.37 293.07 676.37 C294.56 676.37 296.06 679.26 297.56 679.26 C299.05 679.26 300.55 674.59 302.04 674.59 C303.54 674.59 305.04 680.92 306.53 680.92 C308.03 680.92 309.53 678.52 311.02 678.52 C312.52 678.52 314.01 679.51 315.51 679.81 C317.01 680.11 318.5 680.14 320 680.3 L320 683.6 L50.7 683.6 Z" fill="#584477" fill-opacity="0.04" stroke="#584477" stroke-width="0.8" stroke-opacity="0.9"/>
<path d="M50.7 682.43 C52.2 682.59 53.69 682.9 55.19 682.9 C56.68 682.9 58.18 682 59.68 682 C61.17 682 62.67 682.24 64.16 682.38 C65.66 682.52 67.16 682.85 68.65 682.85 C70.15 682.85 71.65 681.96 73.14 681.96 C74.64 681.96 76.13 682.58 77.63 682.75 C79.13 682.91 80.62 682.98 82.12 682.98 C83.61 682.98 85.11 681.88 86.61 681.88 C88.1 681.88 89.6 681.88 91.09 681.9 C92.59 681.93 94.09 682.95 95.58 682.95 C97.08 682.95 98.58 682.62 100.07 682.49 C101.57 682.35 103.06 682.19 104.56 682.14 C106.06 682.09 107.55 682.09 109.05 682.09 C110.54 682.09 112.04 682.93 113.54 682.93 C115.03 682.93 116.53 682.93 118.02 682.9 C119.52 682.87 121.02 682.49 122.51 682.09 C124.01 681.69 125.5 680.48 127 680.48 C128.5 680.48 129.99 682.9 131.49 682.9 C132.99 682.9 134.48 682.9 135.98 682.86 C137.47 682.82 138.97 682.7 140.47 682.6 C141.96 682.49 143.46 682.23 144.95 682.23 C146.45 682.23 147.95 682.81 149.44 682.81 C150.94 682.81 152.43 682.76 153.93 682.62 C155.43 682.49 156.92 681.99 158.42 681.99 C159.92 681.99 161.41 682.84 162.91 682.84 C164.4 682.84 165.9 681.98 167.4 681.98 C168.89 681.98 170.39 682.28 171.88 682.43 C173.38 682.58 174.88 682.88 176.37 682.88 C177.87 682.88 179.36 682.88 180.86 682.82 C182.36 682.77 183.85 682.42 185.35 682.42 C186.85 682.42 188.34 682.78 189.84 682.78 C191.33 682.78 192.83 682.78 194.33 682.77 C195.82 682.77 197.32 682.77 198.81 682.73 C200.31 682.69 201.81 682.42 203.3 682.42 C204.8 682.42 206.29 683 207.79 683 C209.29 683 210.78 682.54 212.28 682.44 C213.77 682.34 215.27 682.34 216.77 682.34 C218.26 682.34 219.76 682.66 221.26 682.74 C222.75 682.82 224.25 682.79 225.74 682.83 C227.24 682.87 228.74 682.98 230.23 682.98 C231.73 682.98 233.22 682.57 234.72 682.4 C236.22 682.24 237.71 681.97 239.21 681.97 C240.7 681.97 242.2 682.33 243.7 682.33 C245.19 682.33 246.69 682.33 248.19 682.31 C249.68 682.29 251.18 682.18 252.67 682.18 C254.17 682.18 255.67 682.72 257.16 682.72 C258.66 682.72 260.15 679.63 261.65 679.63 C263.15 679.63 264.64 681.79 266.14 682.2 C267.63 682.61 269.13 682.61 270.63 682.61 C272.12 682.61 273.62 682.47 275.12 682.47 C276.61 682.47 278.11 683 279.6 683 C281.1 683 282.6 682.53 284.09 682.53 C285.59 682.53 287.08 682.91 288.58 682.91 C290.08 682.91 291.57 682.15 293.07 682.15 C294.56 682.15 296.06 682.82 297.56 682.84 C299.05 682.85 300.55 682.85 302.04 682.85 C303.54 682.85 305.04 682.85 306.53 682.76 C308.03 682.66 309.53 681.87 311.02 681.87 C312.52 681.87 314.01 681.99 315.51 682.08 C317.01 682.18 318.5 682.31 320 682.43 L320 683.6 L50.7 683.6 Z" fill="#B7DBAB" fill-opacity="0.04" stroke="#B7DBAB" stroke-width="0.8" stroke-opacity="0.9"/>
<path d="M50.7 681.95 C52.2 682.05 53.69 682.25 55.19 682.27 C56.68 682.28 58.18 682.28 59.68 682.28 C61.17 682.28 62.67 682.09 64.16 682.09 C65.66 682.09 67.16 682.09 68.65 682.17 C70.15 682.25 71.65 682.82 73.14 682.82 C74.64 682.82 76.13 682.22 77.63 682.22 C79.13 682.22 80.62 682.85 82.12 682.85 C83.61 682.85 85.11 681.91 86.61 681.91 C88.1 681.91 89.6 682.14 91.09 682.14 C92.59 682.14 94.09 682.07 95.58 682.07 C97.08 682.07 98.58 682.5 100.07 682.5 C101.57 682.5 103.06 682.09 104.56 682.09 C106.06 682.09 107.55 682.66 109.05 682.66 C110.54 682.66 112.04 682.39 113.54 682.39 C115.03 682.39 116.53 682.88 118.02 682.88 C119.52 682.88 121.02 682.15 122.51 682.09 C124.01 682.03 125.5 682.03 127 682.03 C128.5 682.03 129.99 682.78 131.49 682.78 C132.99 682.78 134.48 682.78 135.98 682.74 C137.47 682.69 138.97 681.95 140.47 681.95 C141.96 681.95 143.46 682.18 144.95 682.18 C146.45 682.18 147.95 682.09 149.44 682.09 C150.94 682.09 152.43 682.21 153.93 682.21 C155.43 682.21 156.92 682.04 158.42 682.04 C159.92 682.04 161.41 682.91 162.91 682.91 C164.4 682.91 165.9 682.03 167.4 682.03 C168.89 682.03 170.39 682.31 171.88 682.31 C173.38 682.31 174.88 680.15 176.37 680.15 C177.87 680.15 179.36 682.99 180.86 682.99 C182.36 682.99 183.85 682.06 185.35 682.06 C186.85 682.06 188.34 682.21 189.84 682.3 C191.33 682.4 192.83 682.62 194.33 682.62 C195.82 682.62 197.32 682.62 198.81 682.6 C200.31 682.58 201.81 682.29 203.3 682.29 C204.8 682.29 206.29 682.91 207.79 682.91 C209.29 682.91 210.78 682.19 212.28 682.19 C213.77 682.19 215.27 682.19 216.77 682.24 C218.26 682.28 219.76 682.78 221.26 682.87 C222.75 682.96 224.25 682.96 225.74 682.96 C227.24 682.96 228.74 682.96 230.23 682.8 C231.73 682.63 233.22 681.89 234.72 681.89 C236.22 681.89 237.71 682.75 239.21 682.75 C240.7 682.75 242.2 682.3 243.7 682.3 C245.19 682.3 246.69 682.55 248.19 682.55 C249.68 682.55 251.18 681.93 252.67 681.89 C254.17 681.85 255.67 681.85 257.16 681.85 C258.66 681.85 260.15 682.04 261.65 682.04 C263.15 682.04 264.64 681.2 266.14 681.2 C267.63 681.2 269.13 681.78 270.63 681.9 C272.12 682.03 273.62 681.96 275.12 682.06 C276.61 682.16 278.11 682.6 279.6 682.6 C281.1 682.6 282.6 682.36 284.09 682.36 C285.59 682.36 287.08 682.41 288.58 682.41 C290.08 682.41 291.57 681.92 293.07 681.92 C294.56 681.92 296.06 682.18 297.56 682.23 C299.05 682.28 300.55 682.28 302.04 682.28 C303.54 682.28 305.04 681.89 306.53 681.89 C308.03 681.89 309.53 682.12 311.02 682.24 C312.52 682.35 314.01 682.57 315.51 682.57 C317.01 682.57 318.5 682.34 320 682.22 L320 683.6 L50.7 683.6 Z" fill="#F4D598" fill-opacity="0.04" stroke="#F4D598" stroke-width="0.8" stroke-opacity="0.9"/>
<path d="M50.7 679.89 C52.2 677.84 53.69 673.75 55.19 673.75 C56.68 673.75 58.18 678.73 59.68 679.38 C61.17 680.03 62.67 680.03 64.16 680.03 C65.66 680.03 67.16 679.42 68.65 678.81 C70.15 678.2 71.65 676.36 73.14 676.36 C74.64 676.36 76.13 680.88 77.63 680.88 C79.13 680.88 80.62 674.95 82.12 674.95 C83.61 674.95 85.11 675.86 86.61 676.57 C88.1 677.28 89.6 678.55 91.09 679.21 C92.59 679.86 94.09 680.48 95.58 680.48 C97.08 680.48 98.58 680.48 100.07 680.45 C101.57 680.43 103.06 680.26 104.56 680.1 C106.06 679.94 107.55 679.52 109.05 679.48 C110.54 679.43 112.04 679.46 113.54 679.4 C115.03 679.34 116.53 678.61 118.02 678.61 C119.52 678.61 121.02 678.99 122.51 679.36 C124.01 679.73 125.5 680.81 127 680.81 C128.5 680.81 129.99 679.67 131.49 678.99 C132.99 678.31 134.48 677.48 135.98 676.72 C137.47 675.95 138.97 674.39 140.47 674.39 C141.96 674.39 143.46 680.46 144.95 680.78 C146.45 681.11 147.95 681.11 149.44 681.11 C150.94 681.11 152.43 681.08 153.93 680.2 C155.43 679.33 156.92 675.84 158.42 675.84 C159.92 675.84 161.41 675.84 162.91 675.85 C164.4 675.85 165.9 676.75 167.4 677.47 C168.89 678.19 170.39 680.17 171.88 680.17 C173.38 680.17 174.88 678.61 176.37 678.61 C177.87 678.61 179.36 680.69 180.86 680.69 C182.36 680.69 183.85 680.16 185.35 680.02 C186.85 679.88 188.34 680 189.84 679.51 C191.33 679.01 192.83 675.86 194.33 675.86 C195.82 675.86 197.32 679.96 198.81 679.96 C200.31 679.96 201.81 679.42 203.3 679.42 C204.8 679.42 206.29 680.5 207.79 680.5 C209.29 680.5 210.78 678.74 212.28 678.74 C213.77 678.74 215.27 680.39 216.77 680.46 C218.26 680.54 219.76 680.51 221.26 680.54 C222.75 680.57 224.25 681.14 225.74 681.14 C227.24 681.14 228.74 680.11 230.23 679.7 C231.73 679.29 233.22 679.15 234.72 678.68 C236.22 678.21 237.71 676.87 239.21 676.87 C240.7 676.87 242.2 678.65 243.7 679.19 C245.19 679.73 246.69 679.83 248.19 680.12 C249.68 680.41 251.18 680.95 252.67 680.95 C254.17 680.95 255.67 679.49 257.16 679.49 C258.66 679.49 260.15 679.52 261.65 679.52 C263.15 679.52 264.64 679.27 266.14 679.13 C267.63 678.99 269.13 678.68 270.63 678.68 C272.12 678.68 273.62 680.32 275.12 680.32 C276.61 680.32 278.11 679.05 279.6 679.05 C281.1 679.05 282.6 680.74 284.09 680.74 C285.59 680.74 287.08 680.02 288.58 679.8 C290.08 679.57 291.57 679.42 293.07 679.42 C294.56 679.42 296.06 680.7 297.56 680.89 C299.05 681.07 300.55 681.07 302.04 681.07 C303.54 681.07 305.04 680.15 306.53 679.88 C308.03 679.6 309.53 679.42 311.02 679.42 C312.52 679.42 314.01 679.97 315.51 680.15 C317.01 680.33 318.5 680.38 320 680.5 L320 683.6 L50.7 683.6 Z" fill="#70DBED" fill-opacity="0.04" stroke="#70DBED" stroke-width="0.8" stroke-opacity="0.9"/>
<path d="M50.7 682.09 C52.2 682.34 53.69 682.84 55.19 682.84 C56.68 682.84 58.18 682.27 59.68 682.13 C61.17 681.98 62.67 681.96 64.16 681.96 C65.66 681.96 67.16 682.1 68.65 682.14 C70.15 682.18 71.65 682.15 73.14 682.25 C74.64 682.35 76.13 682.86 77.63 682.86 C79.13 682.86 80.62 682.19 82.12 682.19 C83.61 682.19 85.11 682.69 86.61 682.69 C88.1 682.69 89.6 682.3 91.09 682.3 C92.59 682.3 94.09 682.63 95.58 682.69 C97.08 682.75 98.58 682.75 100.07 682.75 C101.57 682.75 103.06 682.33 104.56 682.22 C106.06 682.11 107.55 682.07 109.05 682.07 C110.54 682.07 112.04 682.19 113.54 682.19 C115.03 682.19 116.53 682.03 118.02 682.03 C119.52 682.03 121.02 683.01 122.51 683.01 C124.01 683.01 125.5 682.85 127 682.85 C128.5 682.85 129.99 682.94 131.49 682.94 C132.99 682.94 134.48 682.36 135.98 682.36 C137.47 682.36 138.97 682.97 140.47 682.97 C141.96 682.97 143.46 682.97 144.95 682.88 C146.45 682.8 147.95 682.27 149.44 682.27 C150.94 682.27 152.43 682.54 153.93 682.62 C155.43 682.7 156.92 682.75 158.42 682.76 C159.92 682.77 161.41 682.77 162.91 682.77 C164.4 682.77 165.9 682.06 167.4 682.06 C168.89 682.06 170.39 682.97 171.88 682.98 C173.38 682.98 174.88 682.98 176.37 682.98 C177.87 682.98 179.36 682.63 180.86 682.52 C182.36 682.4 183.85 682.27 185.35 682.27 C186.85 682.27 188.34 682.3 189.84 682.33 C191.33 682.35 192.83 682.34 194.33 682.41 C195.82 682.48 197.32 682.75 198.81 682.75 C200.31 682.75 201.81 681.84 203.3 681.84 C204.8 681.84 206.29 681.88 207.79 681.88 C209.29 681.88 210.78 681.86 212.28 681.86 C213.77 681.86 215.27 682.42 216.77 682.45 C218.26 682.48 219.76 682.48 221.26 682.48 C222.75 682.48 224.25 682.18 225.74 682.18 C227.24 682.18 228.74 682.61 230.23 682.61 C231.73 682.61 233.22 682.54 234.72 682.54 C236.22 682.54 237.71 682.79 239.21 682.79 C240.7 682.79 242.2 682.41 243.7 682.41 C245.19 682.41 246.69 682.78 248.19 682.78 C249.68 682.78 251.18 682.78 252.67 682.78 C254.17 682.78 255.67 682.51 257.16 682.36 C258.66 682.2 260.15 681.87 261.65 681.87 C263.15 681.87 264.64 681.87 266.14 681.9 C267.63 681.93 269.13 681.99 270.63 682.16 C272.12 682.34 273.62 682.88 275.12 682.94 C276.61 683 278.11 683 279.6 683 C281.1 683 282.6 682.17 284.09 682.17 C285.59 682.17 287.08 682.59 288.58 682.7 C290.08 682.81 291.57 682.82 293.07 682.82 C294.56 682.82 296.06 681.85 297.56 681.85 C299.05 681.85 300.55 682.96 302.04 682.96 C303.54 682.96 305.04 682.74 306.53 682.6 C308.03 682.45 309.53 682.07 311.02 682.07 C312.52 682.07 314.01 682.89 315.51 682.89 C317.01 682.89 318.5 682.85 320 682.83 L320 683.6 L50.7 683.6 Z" fill="#F9BA8F" fill-opacity="0.04" stroke="#F9BA8F" stroke-width="0.8" stroke-opacity="0.9"/>
<path d="M50.7 682.46 C52.2 682.29 53.69 681.94 55.19 681.94 C56.68 681.94 58.18 682.3 59.68 682.45 C61.17 682.61 62.67 682.86 64.16 682.86 C65.66 682.86 67.16 682.35 68.65 682.35 C70.15 682.35 71.65 682.66 73.14 682.77 C74.64 682.87 76.13 682.99 77.63 682.99 C79.13 682.99 80.62 682.37 82.12 682.18 C83.61 681.99 85.11 681.86 86.61 681.86 C88.1 681.86 89.6 682.15 91.09 682.15 C92.59 682.15 94.09 682.15 95.58 682.06 C97.08 681.97 98.58 681.57 100.07 681.57 C101.57 681.57 103.06 682.09 104.56 682.33 C106.06 682.56 107.55 683 109.05 683 C110.54 683 112.04 682.09 113.54 682.09 C115.03 682.09 116.53 682.96 118.02 682.96 C119.52 682.96 121.02 682.39 122.51 682.39 C124.01 682.39 125.5 682.63 127 682.63 C128.5 682.63 129.99 681.97 131.49 681.97 C132.99 681.97 134.48 682.14 135.98 682.26 C137.47 682.39 138.97 682.73 140.47 682.73 C141.96 682.73 143.46 682.63 144.95 682.56 C146.45 682.5 147.95 682.32 149.44 682.32 C150.94 682.32 152.43 682.78 153.93 682.78 C155.43 682.78 156.92 682.42 158.42 682.33 C159.92 682.23 161.41 682.18 162.91 682.18 C164.4 682.18 165.9 682.92 167.4 682.93 C168.89 682.95 170.39 682.95 171.88 682.95 C173.38 682.95 174.88 682.67 176.37 682.54 C177.87 682.41 179.36 682.18 180.86 682.18 C182.36 682.18 183.85 682.2 185.35 682.25 C186.85 682.3 188.34 682.46 189.84 682.46 C191.33 682.46 192.83 681.95 194.33 681.95 C195.82 681.95 197.32 682.94 198.81 682.94 C200.31 682.94 201.81 681.85 203.3 681.85 C204.8 681.85 206.29 682.55 207.79 682.55 C209.29 682.55 210.78 682.28 212.28 682.05 C213.77 681.81 215.27 681.14 216.77 681.14 C218.26 681.14 219.76 681.87 221.26 681.87 C222.75 681.87 224.25 681.62 225.74 681.62 C227.24 681.62 228.74 681.82 230.23 681.92 C231.73 682.02 233.22 682.2 234.72 682.22 C236.22 682.25 237.71 682.23 239.21 682.26 C240.7 682.3 242.2 682.58 243.7 682.7 C245.19 682.83 246.69 682.99 248.19 682.99 C249.68 682.99 251.18 682.99 252.67 682.89 C254.17 682.79 255.67 682.29 257.16 682.18 C258.66 682.07 260.15 682.07 261.65 682.07 C263.15 682.07 264.64 682.41 266.14 682.41 C267.63 682.41 269.13 682.41 270.63 682.09 C272.12 681.77 273.62 679.16 275.12 679.16 C276.61 679.16 278.11 682.3 279.6 682.36 C281.1 682.42 282.6 682.42 284.09 682.42 C285.59 682.42 287.08 682.42 288.58 682.32 C290.08 682.21 291.57 680.86 293.07 680.86 C294.56 680.86 296.06 682.34 297.56 682.67 C299.05 683 300.55 683 302.04 683 C303.54 683 305.04 683 306.53 682.98 C308.03 682.97 309.53 682.06 311.02 682.06 C312.52 682.06 314.01 682.87 315.51 682.87 C317.01 682.87 318.5 682.8 320 682.77 L320 683.6 L50.7 683.6 Z" fill="#73BF69" fill-opacity="0.04" stroke="#73BF69" stroke-width="0.8" stroke-opacity="0.9"/>
<path d="M50.7 680.95 C52.2 680.55 53.69 679.76 55.19 679.76 C56.68 679.76 58.18 680.99 59.68 680.99 C61.17 680.99 62.67 678.92 64.16 678.92 C65.66 678.92 67.16 680.97 68.65 680.97 C70.15 680.97 71.65 680.42 73.14 680.42 C74.64 680.42 76.13 680.85 77.63 680.85 C79.13 680.85 80.62 678.57 82.12 678.57 C83.61 678.57 85.11 679.12 86.61 679.22 C88.1 679.33 89.6 679.27 91.09 679.36 C92.59 679.44 94.09 679.7 95.58 679.83 C97.08 679.96 98.58 680.14 100.07 680.14 C101.57 680.14 103.06 679.62 104.56 679.48 C106.06 679.33 107.55 679.33 109.05 679.25 C110.54 679.16 112.04 679.24 113.54 678.75 C115.03 678.27 116.53 675.06 118.02 675.06 C119.52 675.06 121.02 678.92 122.51 678.92 C124.01 678.92 125.5 673.59 127 673.59 C128.5 673.59 129.99 679.52 131.49 680.04 C132.99 680.56 134.48 680.56 135.98 680.56 C137.47 680.56 138.97 680.3 140.47 680.3 C141.96 680.3 143.46 680.99 144.95 680.99 C146.45 680.99 147.95 678.57 149.44 678.57 C150.94 678.57 152.43 678.63 153.93 678.7 C155.43 678.76 156.92 678.89 158.42 678.96 C159.92 679.03 161.41 678.97 162.91 679.19 C164.4 679.41 165.9 680.23 167.4 680.57 C168.89 680.9 170.39 681.19 171.88 681.19 C173.38 681.19 174.88 678.82 176.37 678.82 C177.87 678.82 179.36 680.35 180.86 680.35 C182.36 680.35 183.85 679.18 185.35 679.13 C186.85 679.08 188.34 679.08 189.84 679.08 C191.33 679.08 192.83 680.96 194.33 680.96 C195.82 680.96 197.32 680.41 198.81 680.39 C200.31 680.37 201.81 680.39 203.3 680.25 C204.8 680.1 206.29 674.96 207.79 674.96 C209.29 674.96 210.78 679.47 212.28 679.47 C213.77 679.47 215.27 678.68 216.77 678.68 C218.26 678.68 219.76 678.75 221.26 678.75 C222.75 678.75 224.25 676.21 225.74 676.21 C227.24 676.21 228.74 679.72 230.23 680.47 C231.73 681.21 233.22 681.21 234.72 681.21 C236.22 681.21 237.71 679.29 239.21 679.29 C240.7 679.29 242.2 680.77 243.7 680.77 C245.19 680.77 246.69 679.53 248.19 679.37 C249.68 679.21 251.18 679.21 252.67 679.21 C254.17 679.21 255.67 680.24 257.16 680.57 C258.66 680.9 260.15 681.18 261.65 681.18 C263.15 681.18 264.64 681.11 266.14 680.68 C267.63 680.25 269.13 678.61 270.63 678.61 C272.12 678.61 273.62 679.63 275.12 679.63 C276.61 679.63 278.11 679.63 279.6 679.61 C281.1 679.6 282.6 678.59 284.09 678.59 C285.59 678.59 287.08 681.21 288.58 681.21 C290.08 681.21 291.57 677.37 293.07 677.37 C294.56 677.37 296.06 678.07 297.56 678.6 C299.05 679.12 300.55 680.5 302.04 680.5 C303.54 680.5 305.04 678.01 306.53 678.01 C308.03 678.01 309.53 680.13 311.02 680.13 C312.52 680.13 314.01 680.03 315.51 680.03 C317.01 680.03 318.5 680.67 320 680.99 L320 683.6 L50.7 683.6 Z" fill="#F2CC0C" fill-opacity="0.04" stroke="#F2CC0C" stroke-width="0.8" stroke-opacity="0.9"/>
<path d="M50.7 682.61 C52.2 682.73 53.69 682.98 55.19 682.98 C56.68 682.98 58.18 682.9 59.68 682.75 C61.17 682.6 62.67 682.29 64.16 682.07 C65.66 681.86 67.16 681.46 68.65 681.46 C70.15 681.46 71.65 681.82 73.14 681.95 C74.64 682.08 76.13 682.24 77.63 682.24 C79.13 682.24 80.62 682.24 82.12 682.24 C83.61 682.24 85.11 682.84 86.61 682.84 C88.1 682.84 89.6 681.86 91.09 681.86 C92.59 681.86 94.09 682.1 95.58 682.25 C97.08 682.4 98.58 682.63 100.07 682.75 C101.57 682.88 103.06 683 104.56 683 C106.06 683 107.55 682.93 109.05 682.86 C110.54 682.79 112.04 682.59 113.54 682.59 C115.03 682.59 116.53 682.85 118.02 682.85 C119.52 682.85 121.02 682.79 122.51 682.72 C124.01 682.64 125.5 682.4 127 682.4 C128.5 682.4 129.99 682.72 131.49 682.72 C132.99 682.72 134.48 682.72 135.98 682.68 C137.47 682.63 138.97 682.12 140.47 682.12 C141.96 682.12 143.46 682.79 144.95 682.79 C146.45 682.79 147.95 682.62 149.44 682.56 C150.94 682.51 152.43 682.56 153.93 682.26 C155.43 681.96 156.92 679.65 158.42 679.65 C159.92 679.65 161.41 681.48 162.91 682.03 C164.4 682.59 165.9 682.98 167.4 682.98 C168.89 682.98 170.39 682.98 171.88 682.88 C173.38 682.78 174.88 682.18 176.37 682.18 C177.87 682.18 179.36 682.87 180.86 682.87 C182.36 682.87 183.85 682.87 185.35 682.81 C186.85 682.75 188.34 682.5 189.84 682.5 C191.33 682.5 192.83 682.93 194.33 682.93 C195.82 682.93 197.32 682.56 198.81 682.46 C200.31 682.37 201.81 682.36 203.3 682.36 C204.8 682.36 206.29 682.75 207.79 682.75 C209.29 682.75 210.78 682.5 212.28 682.35 C213.77 682.21 215.27 681.88 216.77 681.88 C218.26 681.88 219.76 682.88 221.26 682.88 C222.75 682.88 224.25 682.4 225.74 682.4 C227.24 682.4 228.74 682.81 230.23 682.81 C231.73 682.81 233.22 682.78 234.72 682.76 C236.22 682.75 237.71 682.75 239.21 682.7 C240.7 682.65 242.2 682.47 243.7 682.47 C245.19 682.47 246.69 682.93 248.19 682.93 C249.68 682.93 251.18 682.76 252.67 682.64 C254.17 682.52 255.67 682.23 257.16 682.23 C258.66 682.23 260.15 682.87 261.65 682.87 C263.15 682.87 264.64 682.45 266.14 682.45 C267.63 682.45 269.13 683 270.63 683 C272.12 683 273.62 680.52 275.12 680.52 C276.61 680.52 278.11 681.77 279.6 682.14 C281.1 682.51 282.6 682.74 284.09 682.74 C285.59 682.74 287.08 682.3 288.58 682.3 C290.08 682.3 291.57 682.84 293.07 682.84 C294.56 682.84 296.06 681.9 297.56 681.9 C299.05 681.9 300.55 682.01 302.04 682.01 C303.54 682.01 305.04 681.95 306.53 681.95 C308.03 681.95 309.53 682.75 311.02 682.75 C312.52 682.75 314.01 682.25 315.51 681.95 C317.01 681.65 318.5 681.28 320 680.95 L320 683.6 L50.7 683.6 Z" fill="#8AB8FF" fill-opacity="0.04" stroke="#8AB8FF" stroke-width="0.8" stroke-opacity="0.9"/>
<path d="M50.7 682.85 C52.2 682.61 53.69 682.2 55.19 682.13 C56.68 682.07 58.18 682.12 59.68 681.91 C61.17 681.7 62.67 679.21 64.16 679.21 C65.66 679.21 67.16 682.74 68.65 682.74 C70.15 682.74 71.65 682.41 73.14 682.41 C74.64 682.41 76.13 682.44 77.63 682.44 C79.13 682.44 80.62 682.35 82.12 682.28 C83.61 682.22 85.11 682.11 86.61 682.03 C88.1 681.96 89.6 681.84 91.09 681.84 C92.59 681.84 94.09 682.75 95.58 682.75 C97.08 682.75 98.58 682.66 100.07 682.64 C101.57 682.61 103.06 682.61 104.56 682.61 C106.06 682.61 107.55 682.99 109.05 682.99 C110.54 682.99 112.04 682.82 113.54 682.82 C115.03 682.82 116.53 683.01 118.02 683.01 C119.52 683.01 121.02 682.82 122.51 682.71 C124.01 682.6 125.5 682.35 127 682.35 C128.5 682.35 129.99 682.83 131.49 682.85 C132.99 682.87 134.48 682.87 135.98 682.87 C137.47 682.87 138.97 682.87 140.47 682.84 C141.96 682.8 143.46 682.77 144.95 682.4 C146.45 682.03 147.95 680.64 149.44 680.64 C150.94 680.64 152.43 682.82 153.93 682.82 C155.43 682.82 156.92 682.62 158.42 682.48 C159.92 682.34 161.41 681.97 162.91 681.97 C164.4 681.97 165.9 681.97 167.4 682 C168.89 682.04 170.39 682.7 171.88 682.7 C173.38 682.7 174.88 679.6 176.37 679.6 C177.87 679.6 179.36 680.92 180.86 681.43 C182.36 681.94 183.85 682.67 185.35 682.67 C186.85 682.67 188.34 681.99 189.84 681.99 C191.33 681.99 192.83 682.39 194.33 682.39 C195.82 682.39 197.32 682.07 198.81 682.07 C200.31 682.07 201.81 682.3 203.3 682.41 C204.8 682.52 206.29 682.73 207.79 682.73 C209.29 682.73 210.78 682.45 212.28 682.32 C213.77 682.2 215.27 681.96 216.77 681.96 C218.26 681.96 219.76 682.79 221.26 682.79 C222.75 682.79 224.25 681.96 225.74 681.96 C227.24 681.96 228.74 682.8 230.23 682.8 C231.73 682.8 233.22 682.75 234.72 682.71 C236.22 682.68 237.71 682.67 239.21 682.58 C240.7 682.5 242.2 682.29 243.7 682.22 C245.19 682.14 246.69 682.14 248.19 682.14 C249.68 682.14 251.18 682.46 252.67 682.46 C254.17 682.46 255.67 680.18 257.16 680.18 C258.66 680.18 260.15 682.18 261.65 682.22 C263.15 682.25 264.64 682.25 266.14 682.25 C267.63 682.25 269.13 681.89 270.63 681.89 C272.12 681.89 273.62 682.74 275.12 682.74 C276.61 682.74 278.11 681.89 279.6 681.89 C281.1 681.89 282.6 682.53 284.09 682.53 C285.59 682.53 287.08 681.96 288.58 681.96 C290.08 681.96 291.57 682.12 293.07 682.15 C294.56 682.18 296.06 682.16 297.56 682.23 C299.05 682.31 300.55 682.86 302.04 682.86 C303.54 682.86 305.04 682.76 306.53 682.76 C308.03 682.76 309.53 682.97 311.02 682.97 C312.52 682.97 314.01 682.54 315.51 682.54 C317.01 682.54 318.5 682.79 320 682.92 L320 683.6 L50.7 683.6 Z" fill="#FF780A" fill-opacity="0.04" stroke="#FF780A" stroke-width="0.8" stroke-opacity="0.9"/>
<path d="M50.7 678.67 C52.2 679.21 53.69 680.28 55.19 680.28 C56.68 680.28 58.18 676.6 59.68 676.6 C61.17 676.6 62.67 681.2 64.16 681.2 C65.66 681.2 67.16 681.2 68.65 680.81 C70.15 680.42 71.65 678.62 73.14 678.62 C74.64 678.62 76.13 678.81 77.63 678.96 C79.13 679.11 80.62 679.51 82.12 679.51 C83.61 679.51 85.11 674.04 86.61 674.04 C88.1 674.04 89.6 680.43 91.09 680.43 C92.59 680.43 94.09 679.07 95.58 679 C97.08 678.94 98.58 678.97 100.07 678.92 C101.57 678.88 103.06 678.02 104.56 678.02 C106.06 678.02 107.55 679.79 109.05 679.79 C110.54 679.79 112.04 678.92 113.54 678.92 C115.03 678.92 116.53 680.39 118.02 680.78 C119.52 681.16 121.02 681.24 122.51 681.24 C124.01 681.24 125.5 681.24 127 680.53 C128.5 679.81 129.99 676.54 131.49 676.54 C132.99 676.54 134.48 677.97 135.98 678.69 C137.47 679.41 138.97 680.85 140.47 680.85 C141.96 680.85 143.46 679.82 144.95 679.82 C146.45 679.82 147.95 680.11 149.44 680.11 C150.94 680.11 152.43 679.2 153.93 678.65 C155.43 678.1 156.92 676.8 158.42 676.8 C159.92 676.8 161.41 679.34 162.91 679.34 C164.4 679.34 165.9 679.08 167.4 679.08 C168.89 679.08 170.39 680.04 171.88 680.32 C173.38 680.59 174.88 680.74 176.37 680.74 C177.87 680.74 179.36 677.55 180.86 677.55 C182.36 677.55 183.85 679.36 185.35 679.36 C186.85 679.36 188.34 679.34 189.84 679.29 C191.33 679.24 192.83 679.07 194.33 679.07 C195.82 679.07 197.32 680.99 198.81 680.99 C200.31 680.99 201.81 680.99 203.3 680.73 C204.8 680.46 206.29 679.76 207.79 679.05 C209.29 678.34 210.78 676.46 212.28 676.46 C213.77 676.46 215.27 677.39 216.77 677.39 C218.26 677.39 219.76 675.61 221.26 675.61 C222.75 675.61 224.25 680.59 225.74 680.59 C227.24 680.59 228.74 680.59 230.23 680.09 C231.73 679.59 233.22 674.87 234.72 674.87 C236.22 674.87 237.71 680.65 239.21 680.65 C240.7 680.65 242.2 679.5 243.7 679.5 C245.19 679.5 246.69 679.5 248.19 679.57 C249.68 679.64 251.18 680.69 252.67 680.69 C254.17 680.69 255.67 679.44 257.16 679.44 C258.66 679.44 260.15 680.82 261.65 680.82 C263.15 680.82 264.64 679.14 266.14 679.14 C267.63 679.14 269.13 679.29 270.63 679.29 C272.12 679.29 273.62 679.08 275.12 679.08 C276.61 679.08 278.11 680.05 279.6 680.39 C281.1 680.73 282.6 681.1 284.09 681.1 C285.59 681.1 287.08 677.43 288.58 677.43 C290.08 677.43 291.57 680.84 293.07 680.84 C294.56 680.84 296.06 679.46 297.56 678.85 C299.05 678.24 300.55 677.16 302.04 677.16 C303.54 677.16 305.04 679.82 306.53 679.82 C308.03 679.82 309.53 679.71 311.02 679.29 C312.52 678.87 314.01 677.29 315.51 677.29 C317.01 677.29 318.5 679.22 320 680.19 L320 683.6 L50.7 683.6 Z" fill="#F2495C" fill-opacity="0.04" stroke="#F2495C" stroke-width="0.8" stroke-opacity="0.9"/>
<path d="M50.7 682.72 C52.2 682.73 53.69 682.75 55.19 682.75 C56.68 682.75 58.18 682.56 59.68 682.45 C61.17 682.35 62.67 682.11 64.16 682.11 C65.66 682.11 67.16 682.49 68.65 682.49 C70.15 682.49 71.65 681.92 73.14 681.92 C74.64 681.92 76.13 682.89 77.63 682.89 C79.13 682.89 80.62 682.27 82.12 682.27 C83.61 682.27 85.11 682.97 86.61 682.97 C88.1 682.97 89.6 681.95 91.09 681.95 C92.59 681.95 94.09 682.35 95.58 682.47 C97.08 682.59 98.58 682.66 100.07 682.66 C101.57 682.66 103.06 682.13 104.56 682.13 C106.06 682.13 107.55 682.45 109.05 682.5 C110.54 682.55 112.04 682.55 113.54 682.55 C115.03 682.55 116.53 680.42 118.02 680.42 C119.52 680.42 121.02 681.7 122.51 682.11 C124.01 682.52 125.5 682.89 127 682.89 C128.5 682.89 129.99 682.89 131.49 682.82 C132.99 682.75 134.48 682.04 135.98 682.04 C137.47 682.04 138.97 682.81 140.47 682.81 C141.96 682.81 143.46 682.51 144.95 682.51 C146.45 682.51 147.95 682.87 149.44 682.87 C150.94 682.87 152.43 681.87 153.93 681.87 C155.43 681.87 156.92 682.71 158.42 682.71 C159.92 682.71 161.41 681.97 162.91 681.97 C164.4 681.97 165.9 682.46 167.4 682.46 C168.89 682.46 170.39 682.3 171.88 682.3 C173.38 682.3 174.88 682.47 176.37 682.47 C177.87 682.47 179.36 682.15 180.86 682.15 C182.36 682.15 183.85 682.68 185.35 682.79 C186.85 682.89 188.34 682.89 189.84 682.89 C191.33 682.89 192.83 682.62 194.33 682.62 C195.82 682.62 197.32 682.71 198.81 682.71 C200.31 682.71 201.81 681.85 203.3 681.85 C204.8 681.85 206.29 681.85 207.79 682.01 C209.29 682.17 210.78 682.81 212.28 682.81 C213.77 682.81 215.27 682.65 216.77 682.61 C218.26 682.57 219.76 682.6 221.26 682.52 C222.75 682.44 224.25 682 225.74 682 C227.24 682 228.74 683 230.23 683 C231.73 683 233.22 682.49 234.72 682.3 C236.22 682.12 237.71 681.9 239.21 681.9 C240.7 681.9 242.2 681.9 243.7 682.02 C245.19 682.14 246.69 682.7 248.19 682.7 C249.68 682.7 251.18 682.58 252.67 682.57 C254.17 682.57 255.67 682.57 257.16 682.57 C258.66 682.57 260.15 682.75 261.65 682.75 C263.15 682.75 264.64 682.66 266.14 682.53 C267.63 682.4 269.13 681.97 270.63 681.97 C272.12 681.97 273.62 682.73 275.12 682.73 C276.61 682.73 278.11 682.07 279.6 682.07 C281.1 682.07 282.6 682.16 284.09 682.16 C285.59 682.16 287.08 682.06 288.58 682.06 C290.08 682.06 291.57 682.24 293.07 682.24 C294.56 682.24 296.06 682.03 297.56 682.03 C299.05 682.03 300.55 682.38 302.04 682.38 C303.54 682.38 305.04 682.08 306.53 682.05 C308.03 682.02 309.53 682.03 311.02 682.02 C312.52 682.02 314.01 682 315.51 681.98 C317.01 681.96 318.5 681.93 320 681.91 L320 683.6 L50.7 683.6 Z" fill="#5794F2" fill-opacity="0.04" stroke="#5794F2" stroke-width="0.8" stroke-opacity="0.9"/>
<path d="M50.7 682.22 C52.2 682.46 53.69 682.96 55.19 682.96 C56.68 682.96 58.18 682.37 59.68 682.37 C61.17 682.37 62.67 682.61 64.16 682.61 C65.66 682.61 67.16 682.09 68.65 682.09 C70.15 682.09 71.65 682.76 73.14 682.76 C74.64 682.76 76.13 682.76 77.63 682.72 C79.13 682.68 80.62 679.98 82.12 679.98 C83.61 679.98 85.11 682.56 86.61 682.75 C88.1 682.93 89.6 682.93 91.09 682.93 C92.59 682.93 94.09 682.85 95.58 682.78 C97.08 682.71 98.58 682.69 100.07 682.54 C101.57 682.39 103.06 681.89 104.56 681.89 C106.06 681.89 107.55 682.18 109.05 682.27 C110.54 682.37 112.04 682.46 113.54 682.46 C115.03 682.46 116.53 682.23 118.02 682.15 C119.52 682.07 121.02 681.99 122.51 681.99 C124.01 681.99 125.5 682.89 127 682.89 C128.5 682.89 129.99 682.04 131.49 682.04 C132.99 682.04 134.48 682.44 135.98 682.44 C137.47 682.44 138.97 681.98 140.47 681.98 C141.96 681.98 143.46 682.77 144.95 682.77 C146.45 682.77 147.95 682.66 149.44 682.59 C150.94 682.51 152.43 682.58 153.93 682.2 C155.43 681.81 156.92 679.77 158.42 679.77 C159.92 679.77 161.41 682.5 162.91 682.51 C164.4 682.51 165.9 682.51 167.4 682.51 C168.89 682.51 170.39 682.47 171.88 682.4 C173.38 682.33 174.88 682.09 176.37 682.09 C177.87 682.09 179.36 682.75 180.86 682.75 C182.36 682.75 183.85 682.17 185.35 682.07 C186.85 681.98 188.34 681.98 189.84 681.98 C191.33 681.98 192.83 682.5 194.33 682.5 C195.82 682.5 197.32 682.18 198.81 682.18 C200.31 682.18 201.81 682.78 203.3 682.78 C204.8 682.78 206.29 682.63 207.79 682.63 C209.29 682.63 210.78 682.79 212.28 682.79 C213.77 682.79 215.27 682.43 216.77 682.43 C218.26 682.43 219.76 682.84 221.26 682.84 C222.75 682.84 224.25 681.84 225.74 681.84 C227.24 681.84 228.74 682.08 230.23 682.08 C231.73 682.08 233.22 681.94 234.72 681.94 C236.22 681.94 237.71 682.01 239.21 682.12 C240.7 682.23 242.2 682.59 243.7 682.59 C245.19 682.59 246.69 680.81 248.19 680.81 C249.68 680.81 251.18 681.96 252.67 681.96 C254.17 681.96 255.67 681.89 257.16 681.89 C258.66 681.89 260.15 681.89 261.65 681.92 C263.15 681.94 264.64 682.84 266.14 682.84 C267.63 682.84 269.13 682.07 270.63 682.07 C272.12 682.07 273.62 682.2 275.12 682.31 C276.61 682.41 278.11 682.69 279.6 682.69 C281.1 682.69 282.6 682.64 284.09 682.41 C285.59 682.18 287.08 681.32 288.58 681.32 C290.08 681.32 291.57 681.94 293.07 682.17 C294.56 682.41 296.06 682.73 297.56 682.73 C299.05 682.73 300.55 682.48 302.04 682.41 C303.54 682.33 305.04 682.31 306.53 682.31 C308.03 682.31 309.53 682.78 311.02 682.78 C312.52 682.78 314.01 682.17 315.51 682.17 C317.01 682.17 318.5 682.17 320 682.18 L320 683.6 L50.7 683.6 Z" fill="#B877D9" fill-opacity="0.04" stroke="#B877D9" stroke-width="0.8" stroke-opacity="0.9"/>
<path d="M50.7 680.51 C52.2 678.16 53.69 673.46 55.19 673.46 C56.68 673.46 58.18 677.42 59.68 678.2 C61.17 678.99 62.67 678.7 64.16 679.07 C65.66 679.44 67.16 680.86 68.65 680.86 C70.15 680.86 71.65 679.5 73.14 679.5 C74.64 679.5 76.13 680.33 77.63 680.33 C79.13 680.33 80.62 678.38 82.12 678.38 C83.61 678.38 85.11 680.13 86.61 680.13 C88.1 680.13 89.6 678 91.09 678 C92.59 678 94.09 678.22 95.58 678.22 C97.08 678.22 98.58 676.43 100.07 676.43 C101.57 676.43 103.06 680.05 104.56 680.05 C106.06 680.05 107.55 680.05 109.05 679.92 C110.54 679.79 112.04 676.08 113.54 676.08 C115.03 676.08 116.53 678.7 118.02 679 C119.52 679.31 121.02 679.22 122.51 679.33 C124.01 679.44 125.5 680.15 127 680.15 C128.5 680.15 129.99 680.15 131.49 680.09 C132.99 680.03 134.48 679.36 135.98 679.36 C137.47 679.36 138.97 680.83 140.47 680.83 C141.96 680.83 143.46 674.79 144.95 674.79 C146.45 674.79 147.95 678.99 149.44 679.26 C150.94 679.52 152.43 679.48 153.93 679.53 C155.43 679.58 156.92 680 158.42 680.15 C159.92 680.3 161.41 680.44 162.91 680.44 C164.4 680.44 165.9 680.23 167.4 679.44 C168.89 678.64 170.39 675.66 171.88 675.66 C173.38 675.66 174.88 678.26 176.37 678.92 C177.87 679.58 179.36 679.4 180.86 679.64 C182.36 679.87 183.85 680.32 185.35 680.32 C186.85 680.32 188.34 680.32 189.84 679.75 C191.33 679.17 192.83 675.68 194.33 675.68 C195.82 675.68 197.32 675.68 198.81 676.23 C200.31 676.78 201.81 679.62 203.3 679.94 C204.8 680.26 206.29 680.23 207.79 680.26 C209.29 680.28 210.78 680.29 212.28 680.29 C213.77 680.29 215.27 678.71 216.77 678.71 C218.26 678.71 219.76 679.7 221.26 679.95 C222.75 680.19 224.25 680.19 225.74 680.19 C227.24 680.19 228.74 679.1 230.23 679.1 C231.73 679.1 233.22 680.22 234.72 680.24 C236.22 680.26 237.71 680.26 239.21 680.26 C240.7 680.26 242.2 679.78 243.7 679.78 C245.19 679.78 246.69 680.17 248.19 680.34 C249.68 680.51 251.18 680.81 252.67 680.81 C254.17 680.81 255.67 680.1 257.16 679.39 C258.66 678.69 260.15 676.59 261.65 676.59 C263.15 676.59 264.64 681.09 266.14 681.09 C267.63 681.09 269.13 679.63 270.63 679.24 C272.12 678.85 273.62 678.76 275.12 678.76 C276.61 678.76 278.11 679.37 279.6 679.74 C281.1 680.12 282.6 681.01 284.09 681.01 C285.59 681.01 287.08 675.57 288.58 675.57 C290.08 675.57 291.57 678 293.07 678.9 C294.56 679.8 296.06 681 297.56 681 C299.05 681 300.55 679.89 302.04 679.19 C303.54 678.49 305.04 677.01 306.53 676.79 C308.03 676.58 309.53 676.58 311.02 676.58 C312.52 676.58 314.01 676.63 315.51 677.33 C317.01 678.02 318.5 679.61 320 680.76 L320 683.6 L50.7 683.6 Z" fill="#705DA0" fill-opacity="0.04" stroke="#705DA0" stroke-width="0.8" stroke-opacity="0.9"/>
<path d="M50.7 682.22 C52.2 682.35 53.69 682.59 55.19 682.59 C56.68 682.59 58.18 682.5 59.68 682.5 C61.17 682.5 62.67 682.72 64.16 682.72 C65.66 682.72 67.16 681.87 68.65 681.87 C70.15 681.87 71.65 682.03 73.14 682.18 C74.64 682.34 76.13 682.8 77.63 682.8 C79.13 682.8 80.62 682.6 82.12 682.6 C83.61 682.6 85.11 682.94 86.61 682.94 C88.1 682.94 89.6 680.4 91.09 680.4 C92.59 680.4 94.09 681.74 95.58 682.08 C97.08 682.43 98.58 682.48 100.07 682.48 C101.57 682.48 103.06 682.31 104.56 682.31 C106.06 682.31 107.55 682.55 109.05 682.55 C110.54 682.55 112.04 682 113.54 682 C115.03 682 116.53 682.22 118.02 682.35 C119.52 682.49 121.02 682.81 122.51 682.81 C124.01 682.81 125.5 679.54 127 679.54 C128.5 679.54 129.99 681.51 131.49 682.09 C132.99 682.67 134.48 683.01 135.98 683.01 C137.47 683.01 138.97 682.64 140.47 682.53 C141.96 682.42 143.46 682.34 144.95 682.34 C146.45 682.34 147.95 682.53 149.44 682.53 C150.94 682.53 152.43 681.89 153.93 681.89 C155.43 681.89 156.92 682.18 158.42 682.29 C159.92 682.4 161.41 682.57 162.91 682.57 C164.4 682.57 165.9 681.95 167.4 681.95 C168.89 681.95 170.39 682.09 171.88 682.09 C173.38 682.09 174.88 681.85 176.37 681.85 C177.87 681.85 179.36 682.58 180.86 682.64 C182.36 682.7 183.85 682.69 185.35 682.71 C186.85 682.72 188.34 682.83 189.84 682.83 C191.33 682.83 192.83 682.59 194.33 682.44 C195.82 682.29 197.32 681.94 198.81 681.93 C200.31 681.92 201.81 681.92 203.3 681.92 C204.8 681.92 206.29 682.84 207.79 682.84 C209.29 682.84 210.78 682.35 212.28 682.34 C213.77 682.33 215.27 682.33 216.77 682.32 C218.26 682.31 219.76 681.92 221.26 681.92 C222.75 681.92 224.25 681.97 225.74 682.1 C227.24 682.23 228.74 682.69 230.23 682.69 C231.73 682.69 233.22 681.99 234.72 681.99 C236.22 681.99 237.71 682.16 239.21 682.16 C240.7 682.16 242.2 682.16 243.7 682.16 C245.19 682.16 246.69 682.9 248.19 682.9 C249.68 682.9 251.18 682.17 252.67 682.17 C254.17 682.17 255.67 682.18 257.16 682.24 C258.66 682.31 260.15 682.58 261.65 682.58 C263.15 682.58 264.64 681.91 266.14 681.91 C267.63 681.91 269.13 682.51 270.63 682.51 C272.12 682.51 273.62 682.06 275.12 682.06 C276.61 682.06 278.11 682.41 279.6 682.48 C281.1 682.54 282.6 682.54 284.09 682.54 C285.59 682.54 287.08 682.5 288.58 682.46 C290.08 682.42 291.57 682.46 293.07 682.13 C294.56 681.81 296.06 679.11 297.56 679.11 C299.05 679.11 300.55 681.9 302.04 682.38 C303.54 682.86 305.04 682.86 306.53 682.86 C308.03 682.86 309.53 682.86 311.02 682.57 C312.52 682.28 314.01 680.15 315.51 680.15 C317.01 680.15 318.5 681.99 320 682.91 L320 683.6 L50.7 683.6 Z" fill="#37872D" fill-opacity="0.04" stroke="#37872D" stroke-width="0.8" stroke-opacity="0.9"/>
<path d="M50.7 680.09 C52.2 680.88 53.69 682.46 55.19 682.46 C56.68 682.46 58.18 682.25 59.68 682.16 C61.17 682.07 62.67 681.92 64.16 681.92 C65.66 681.92 67.16 682.83 68.65 682.85 C70.15 682.87 71.65 682.87 73.14 682.87 C74.64 682.87 76.13 682.43 77.63 682.43 C79.13 682.43 80.62 682.82 82.12 682.82 C83.61 682.82 85.11 682.46 86.61 682.46 C88.1 682.46 89.6 682.69 91.09 682.72 C92.59 682.75 94.09 682.75 95.58 682.75 C97.08 682.75 98.58 682.4 100.07 682.29 C101.57 682.19 103.06 682.11 104.56 682.11 C106.06 682.11 107.55 682.32 109.05 682.39 C110.54 682.45 112.04 682.49 113.54 682.49 C115.03 682.49 116.53 681.94 118.02 681.94 C119.52 681.94 121.02 682.08 122.51 682.21 C124.01 682.35 125.5 682.74 127 682.74 C128.5 682.74 129.99 682.16 131.49 682.05 C132.99 681.93 134.48 681.93 135.98 681.93 C137.47 681.93 138.97 682.11 140.47 682.21 C141.96 682.31 143.46 682.43 144.95 682.54 C146.45 682.64 147.95 682.85 149.44 682.85 C150.94 682.85 152.43 682.43 153.93 682.43 C155.43 682.43 156.92 682.58 158.42 682.58 C159.92 682.58 161.41 682.12 162.91 682.12 C164.4 682.12 165.9 682.82 167.4 682.82 C168.89 682.82 170.39 682.74 171.88 682.58 C173.38 682.42 174.88 681.86 176.37 681.86 C177.87 681.86 179.36 682.21 180.86 682.33 C182.36 682.45 183.85 682.56 185.35 682.56 C186.85 682.56 188.34 681.38 189.84 681.38 C191.33 681.38 192.83 682.87 194.33 682.87 C195.82 682.87 197.32 682.44 198.81 682.27 C200.31 682.11 201.81 681.9 203.3 681.9 C204.8 681.9 206.29 682.59 207.79 682.59 C209.29 682.59 210.78 682.37 212.28 682.27 C213.77 682.17 215.27 682 216.77 682 C218.26 682 219.76 682.52 221.26 682.59 C222.75 682.66 224.25 682.65 225.74 682.66 C227.24 682.67 228.74 682.73 230.23 682.73 C231.73 682.73 233.22 680.86 234.72 680.86 C236.22 680.86 237.71 682.67 239.21 682.77 C240.7 682.87 242.2 682.87 243.7 682.87 C245.19 682.87 246.69 682.39 248.19 682.23 C249.68 682.07 251.18 681.93 252.67 681.93 C254.17 681.93 255.67 682.22 257.16 682.22 C258.66 682.22 260.15 681.23 261.65 681.23 C263.15 681.23 264.64 681.88 266.14 681.88 C267.63 681.88 269.13 680.59 270.63 680.59 C272.12 680.59 273.62 681.95 275.12 681.95 C276.61 681.95 278.11 680.79 279.6 680.79 C281.1 680.79 282.6 682.71 284.09 682.8 C285.59 682.89 287.08 682.89 288.58 682.89 C290.08 682.89 291.57 682.78 293.07 682.7 C294.56 682.62 296.06 682.54 297.56 682.41 C299.05 682.27 300.55 681.88 302.04 681.88 C303.54 681.88 305.04 682.19 306.53 682.19 C308.03 682.19 309.53 682.04 311.02 682.04 C312.52 682.04 314.01 682.88 315.51 682.88 C317.01 682.88 318.5 682.76 320 682.7 L320 683.6 L50.7 683.6 Z" fill="#FADE2A" fill-opacity="0.04" stroke="#FADE2A" stroke-width="0.8" stroke-opacity="0.9"/>
<path d="M50.7 681.22 C52.2 681.1 53.69 680.98 55.19 680.87 C56.68 680.75 58.18 680.57 59.68 680.52 C61.17 680.48 62.67 680.48 64.16 680.48 C65.66 680.48 67.16 680.48 68.65 680.48 C70.15 680.48 71.65 680.91 73.14 680.91 C74.64 680.91 76.13 680.88 77.63 680.88 C79.13 680.88 80.62 681.45 82.12 681.45 C83.61 681.45 85.11 680.79 86.61 680.79 C88.1 680.79 89.6 680.92 91.09 681 C92.59 681.07 94.09 681.22 95.58 681.22 C97.08 681.22 98.58 680.59 100.07 680.59 C101.57 680.59 103.06 681.21 104.56 681.34 C106.06 681.48 107.55 681.48 109.05 681.48 C110.54 681.48 112.04 681.46 113.54 681.46 C115.03 681.46 116.53 681.47 118.02 681.47 C119.52 681.47 121.02 681.08 122.51 680.95 C124.01 680.83 125.5 680.7 127 680.7 C128.5 680.7 129.99 681.46 131.49 681.46 C132.99 681.46 134.48 681.13 135.98 681.05 C137.47 680.97 138.97 680.97 140.47 680.97 C141.96 680.97 143.46 680.97 144.95 680.99 C146.45 681 147.95 681.16 149.44 681.16 C150.94 681.16 152.43 681.01 153.93 681.01 C155.43 681.01 156.92 681.63 158.42 681.63 C159.92 681.63 161.41 681.63 162.91 681.58 C164.4 681.52 165.9 681.15 167.4 681.15 C168.89 681.15 170.39 681.37 171.88 681.37 C173.38 681.37 174.88 680.76 176.37 680.76 C177.87 680.76 179.36 681.36 180.86 681.36 C182.36 681.36 183.85 680.68 185.35 680.68 C186.85 680.68 188.34 681.22 189.84 681.36 C191.33 681.5 192.83 681.53 194.33 681.53 C195.82 681.53 197.32 619.43 198.81 619.43 C200.31 619.43 201.81 681.19 203.3 681.19 C204.8 681.19 206.29 563.08 207.79 563.08 C209.29 563.08 210.78 680.11 212.28 680.75 C213.77 681.38 215.27 681.38 216.77 681.38 C218.26 681.38 219.76 680.98 221.26 680.86 C222.75 680.74 224.25 680.66 225.74 680.66 C227.24 680.66 228.74 681.11 230.23 681.11 C231.73 681.11 233.22 681.11 234.72 681.05 C236.22 680.99 237.71 680.56 239.21 680.56 C240.7 680.56 242.2 680.79 243.7 680.93 C245.19 681.08 246.69 681.33 248.19 681.43 C249.68 681.54 251.18 681.56 252.67 681.56 C254.17 681.56 255.67 681.56 257.16 681.55 C258.66 681.53 260.15 681.25 261.65 681.25 C263.15 681.25 264.64 681.54 266.14 681.54 C267.63 681.54 269.13 680.88 270.63 680.88 C272.12 680.88 273.62 681.08 275.12 681.15 C276.61 681.21 278.11 681.28 279.6 681.28 C281.1 681.28 282.6 681.28 284.09 681.04 C285.59 680.8 287.08 555.64 288.58 555.64 C290.08 555.64 291.57 681.25 293.07 681.36 C294.56 681.46 296.06 681.46 297.56 681.46 C299.05 681.46 300.55 681.29 302.04 681.29 C303.54 681.28 305.04 681.28 306.53 681.26 C308.03 681.24 309.53 680.58 311.02 680.58 C312.52 680.58 314.01 680.72 315.51 680.81 C317.01 680.91 318.5 681.03 320 681.14 L320 683.6 L50.7 683.6 Z" fill="#C4162A" fill-opacity="0.10" stroke="#7c1313" stroke-width="0.9"/>
<rect x="52" y="681.2" width="269.3" height="2.6" fill="#c79a7c" fill-opacity="0.8"/>
</g>
<text x="46.1" y="568.81" font-size="9.5" fill="#c2c3cf" text-anchor="end" textLength="28.2" lengthAdjust="spacingAndGlyphs" >300 ms</text>
<text x="46.1" y="607.94" font-size="9.5" fill="#c2c3cf" text-anchor="end" textLength="28.2" lengthAdjust="spacingAndGlyphs" >200 ms</text>
<text x="46.1" y="647.07" font-size="9.5" fill="#c2c3cf" text-anchor="end" textLength="28.2" lengthAdjust="spacingAndGlyphs" >100 ms</text>
<text x="46.1" y="686.2" font-size="9.5" fill="#c2c3cf" text-anchor="end" textLength="10.8" lengthAdjust="spacingAndGlyphs" >0 s</text>
<text x="94.7" y="696.6" font-size="9.5" fill="#c2c3cf" text-anchor="middle" textLength="20.6" lengthAdjust="spacingAndGlyphs" >11:45</text>
<text x="139.78" y="696.6" font-size="9.5" fill="#c2c3cf" text-anchor="middle" textLength="20.6" lengthAdjust="spacingAndGlyphs" >11:50</text>
<text x="184.86" y="696.6" font-size="9.5" fill="#c2c3cf" text-anchor="middle" textLength="20.6" lengthAdjust="spacingAndGlyphs" >11:55</text>
<text x="229.94" y="696.6" font-size="9.5" fill="#c2c3cf" text-anchor="middle" textLength="20.6" lengthAdjust="spacingAndGlyphs" >12:00</text>
<text x="275.02" y="696.6" font-size="9.5" fill="#c2c3cf" text-anchor="middle" textLength="20.6" lengthAdjust="spacingAndGlyphs" >12:05</text>
<text x="320.1" y="696.6" font-size="9.5" fill="#c2c3cf" text-anchor="middle" textLength="20.6" lengthAdjust="spacingAndGlyphs" >12:10</text>
<clipPath id="leg3"><rect x="330" y="520" width="372" height="179.9"/></clipPath><g clip-path="url(#leg3)">
<text x="661.1" y="537.7" font-size="8.8" fill="#75a4ff" stroke="#75a4ff" stroke-width="0.2" font-weight="500" textLength="19.6" lengthAdjust="spacingAndGlyphs" >Mean</text>
<line x1="341.6" y1="543.4" x2="357.6" y2="543.4" stroke="rgba(204,204,220,0.09)" stroke-width="1" />
<line x1="645" y1="543.4" x2="696.8" y2="543.4" stroke="rgba(204,204,220,0.09)" stroke-width="1" />
<line x1="341.6" y1="559.79" x2="357.6" y2="559.79" stroke="rgba(204,204,220,0.09)" stroke-width="1" />
<line x1="645" y1="559.79" x2="696.8" y2="559.79" stroke="rgba(204,204,220,0.09)" stroke-width="1" />
<line x1="341.6" y1="576.18" x2="357.6" y2="576.18" stroke="rgba(204,204,220,0.09)" stroke-width="1" />
<line x1="645" y1="576.18" x2="696.8" y2="576.18" stroke="rgba(204,204,220,0.09)" stroke-width="1" />
<line x1="341.6" y1="592.57" x2="357.6" y2="592.57" stroke="rgba(204,204,220,0.09)" stroke-width="1" />
<line x1="645" y1="592.57" x2="696.8" y2="592.57" stroke="rgba(204,204,220,0.09)" stroke-width="1" />
<line x1="341.6" y1="608.96" x2="357.6" y2="608.96" stroke="rgba(204,204,220,0.09)" stroke-width="1" />
<line x1="645" y1="608.96" x2="696.8" y2="608.96" stroke="rgba(204,204,220,0.09)" stroke-width="1" />
<line x1="341.6" y1="625.35" x2="357.6" y2="625.35" stroke="rgba(204,204,220,0.09)" stroke-width="1" />
<line x1="645" y1="625.35" x2="696.8" y2="625.35" stroke="rgba(204,204,220,0.09)" stroke-width="1" />
<line x1="341.6" y1="641.74" x2="357.6" y2="641.74" stroke="rgba(204,204,220,0.09)" stroke-width="1" />
<line x1="645" y1="641.74" x2="696.8" y2="641.74" stroke="rgba(204,204,220,0.09)" stroke-width="1" />
<line x1="341.6" y1="658.13" x2="357.6" y2="658.13" stroke="rgba(204,204,220,0.09)" stroke-width="1" />
<line x1="645" y1="658.13" x2="696.8" y2="658.13" stroke="rgba(204,204,220,0.09)" stroke-width="1" />
<line x1="341.6" y1="674.52" x2="357.6" y2="674.52" stroke="rgba(204,204,220,0.09)" stroke-width="1" />
<line x1="645" y1="674.52" x2="696.8" y2="674.52" stroke="rgba(204,204,220,0.09)" stroke-width="1" />
<line x1="341.6" y1="690.91" x2="357.6" y2="690.91" stroke="rgba(204,204,220,0.09)" stroke-width="1" />
<line x1="645" y1="690.91" x2="696.8" y2="690.91" stroke="rgba(204,204,220,0.09)" stroke-width="1" />
<line x1="341.6" y1="707.3" x2="357.6" y2="707.3" stroke="rgba(204,204,220,0.09)" stroke-width="1" />
<line x1="645" y1="707.3" x2="696.8" y2="707.3" stroke="rgba(204,204,220,0.09)" stroke-width="1" />
<rect x="347.1" y="550.3" width="9.7" height="2.6" fill="#73BF69" rx="0.6" />
<text x="661.1" y="553.8" font-size="8.5" fill="#d6d7e1" stroke="#d6d7e1" stroke-width="0.15" textLength="30.2" lengthAdjust="spacingAndGlyphs" >1.45 ms</text>
<rect x="347.1" y="566.69" width="9.7" height="2.6" fill="#F2CC0C" rx="0.6" />
<text x="661.1" y="570.19" font-size="8.5" fill="#d6d7e1" stroke="#d6d7e1" stroke-width="0.15" textLength="30.2" lengthAdjust="spacingAndGlyphs" >1.44 ms</text>
<rect x="347.1" y="583.08" width="9.7" height="2.6" fill="#8AB8FF" rx="0.6" />
<text x="661.1" y="586.58" font-size="8.5" fill="#d6d7e1" stroke="#d6d7e1" stroke-width="0.15" textLength="30.2" lengthAdjust="spacingAndGlyphs" >1.46 ms</text>
<rect x="347.1" y="599.47" width="9.7" height="2.6" fill="#FF780A" rx="0.6" />
<text x="661.1" y="602.97" font-size="8.5" fill="#d6d7e1" stroke="#d6d7e1" stroke-width="0.15" textLength="30.2" lengthAdjust="spacingAndGlyphs" >1.44 ms</text>
<rect x="347.1" y="615.86" width="9.7" height="2.6" fill="#F2495C" rx="0.6" />
<text x="661.1" y="619.36" font-size="8.5" fill="#d6d7e1" stroke="#d6d7e1" stroke-width="0.15" textLength="30.2" lengthAdjust="spacingAndGlyphs" >1.43 ms</text>
<rect x="347.1" y="632.25" width="9.7" height="2.6" fill="#5794F2" rx="0.6" />
<text x="661.1" y="635.75" font-size="8.5" fill="#d6d7e1" stroke="#d6d7e1" stroke-width="0.15" textLength="30.2" lengthAdjust="spacingAndGlyphs" >1.39 ms</text>
<rect x="347.1" y="648.64" width="9.7" height="2.6" fill="#B877D9" rx="0.6" />
<text x="661.1" y="652.14" font-size="8.5" fill="#d6d7e1" stroke="#d6d7e1" stroke-width="0.15" textLength="30.2" lengthAdjust="spacingAndGlyphs" >1.50 ms</text>
<rect x="347.1" y="665.03" width="9.7" height="2.6" fill="#705DA0" rx="0.6" />
<text x="661.1" y="668.53" font-size="8.5" fill="#d6d7e1" stroke="#d6d7e1" stroke-width="0.15" textLength="30.2" lengthAdjust="spacingAndGlyphs" >1.51 ms</text>
<rect x="347.1" y="681.42" width="9.7" height="2.6" fill="#37872D" rx="0.6" />
<text x="661.1" y="684.92" font-size="8.5" fill="#d6d7e1" stroke="#d6d7e1" stroke-width="0.15" textLength="30.2" lengthAdjust="spacingAndGlyphs" >1.46 ms</text>
<rect x="347.1" y="697.81" width="9.7" height="2.6" fill="#FADE2A" rx="0.6" />
<text x="661.1" y="701.31" font-size="8.5" fill="#d6d7e1" stroke="#d6d7e1" stroke-width="0.15" textLength="30.2" lengthAdjust="spacingAndGlyphs" >3.47 ms</text>
</g>
<clipPath id="c3"><rect x="357.6" y="536.4" width="287.4" height="168.6"/></clipPath>
<g clip-path="url(#c3)"><g filter="url(#b50)">
<rect x="349.6" y="528.4" width="303.4" height="184.6" fill="#1b1e22" />
<text x="362" y="555.07" font-size="10.5" fill="#dcdcea" stroke="#dcdcea" stroke-width="0.5" font-weight="700" textLength="223" lengthAdjust="spacingAndGlyphs" >app prod zeaemuuddaanedeznfjgeoldsctnh</text>
<text x="362" y="571.46" font-size="10.5" fill="#dcdcea" stroke="#dcdcea" stroke-width="0.5" font-weight="700" textLength="282" lengthAdjust="spacingAndGlyphs" >prd core dtogunyndhtrkobkirsshsanddukzuvzuhnktmy</text>
<text x="362" y="587.85" font-size="10.5" fill="#dcdcea" stroke="#dcdcea" stroke-width="0.5" font-weight="700" textLength="218" lengthAdjust="spacingAndGlyphs" >web prod znndhfdnujdezsjhrqmbeuzdqnvd</text>
<text x="362" y="604.24" font-size="10.5" fill="#dcdcea" stroke="#dcdcea" stroke-width="0.5" font-weight="700" textLength="222" lengthAdjust="spacingAndGlyphs" >web http geaniiyvuksiddiduozzanpxsnsrt</text>
<text x="362" y="620.63" font-size="10.5" fill="#dcdcea" stroke="#dcdcea" stroke-width="0.5" font-weight="700" textLength="219" lengthAdjust="spacingAndGlyphs" >prd core poajcnqaedhzntmeesnusvakcymn</text>
<text x="362" y="637.02" font-size="10.5" fill="#dcdcea" stroke="#dcdcea" stroke-width="0.5" font-weight="700" textLength="213" lengthAdjust="spacingAndGlyphs" >svc edge eyeksmrbepdabcqatijddgmwyzl</text>
<text x="362" y="653.41" font-size="10.5" fill="#dcdcea" stroke="#dcdcea" stroke-width="0.5" font-weight="700" textLength="203" lengthAdjust="spacingAndGlyphs" >api http rxlfipmwuuaiojeqemvmnfhqgy</text>
<text x="362" y="669.8" font-size="10.5" fill="#dcdcea" stroke="#dcdcea" stroke-width="0.5" font-weight="700" textLength="252" lengthAdjust="spacingAndGlyphs" >api prod hmnobxkakqucvsgddchtatyaosbgkbpeid</text>
<text x="362" y="686.19" font-size="10.5" fill="#dcdcea" stroke="#dcdcea" stroke-width="0.5" font-weight="700" textLength="225" lengthAdjust="spacingAndGlyphs" >svc http duodbldkdgbumocglkdrjbnqkotio</text>
<text x="362" y="702.58" font-size="10.5" fill="#dcdcea" stroke="#dcdcea" stroke-width="0.5" font-weight="700" textLength="223" lengthAdjust="spacingAndGlyphs" >app core hnckpjlesnjnpmwmfabmuyrbomnad</text>
</g></g>
<rect x="710" y="96" width="224.9" height="18.75" rx="2" fill="url(#gstat)"/>
<rect x="710" y="116.6" width="224.9" height="18.75" rx="2" fill="url(#gstat)"/>
<rect x="710" y="137.2" width="224.9" height="18.75" rx="2" fill="url(#gstat)"/>
<rect x="710" y="157.8" width="224.9" height="18.75" rx="2" fill="url(#gstat)"/>
<rect x="710" y="178.4" width="224.9" height="18.75" rx="2" fill="url(#gstat)"/>
<rect x="710" y="199" width="224.9" height="18.75" rx="2" fill="url(#gstat)"/>
<rect x="710" y="219.6" width="224.9" height="18.75" rx="2" fill="url(#gstat)"/>
<rect x="710" y="240.2" width="224.9" height="18.75" rx="2" fill="url(#gstat)"/>
<rect x="710" y="260.8" width="224.9" height="18.75" rx="2" fill="url(#gstat)"/>
<clipPath id="c4"><rect x="712.85" y="97" width="196.05" height="178.8"/></clipPath>
<g clip-path="url(#c4)"><g filter="url(#b45)">
<rect x="704.85" y="89" width="212.05" height="194.8" fill="#285f3a" />
<rect x="706" y="96" width="205" height="18.75" fill="url(#gstat2)"/>
<rect x="706" y="116.6" width="205" height="18.75" fill="url(#gstat2)"/>
<rect x="706" y="137.2" width="205" height="18.75" fill="url(#gstat2)"/>
<rect x="706" y="157.8" width="205" height="18.75" fill="url(#gstat2)"/>
<rect x="706" y="178.4" width="205" height="18.75" fill="url(#gstat2)"/>
<rect x="706" y="199" width="205" height="18.75" fill="url(#gstat2)"/>
<rect x="706" y="219.6" width="205" height="18.75" fill="url(#gstat2)"/>
<rect x="706" y="240.2" width="205" height="18.75" fill="url(#gstat2)"/>
<rect x="706" y="260.8" width="205" height="18.75" fill="url(#gstat2)"/>
<text x="715.5" y="109.03" font-size="11" fill="#b4cfb8" stroke="#b4cfb8" stroke-width="0.6" font-weight="700" textLength="183.9" lengthAdjust="spacingAndGlyphs" >svc core nuekhgmkkgghmkfxozcrs</text>
<text x="715.5" y="124.5" font-size="11" fill="#b4cfb8" stroke="#b4cfb8" stroke-width="0.6" font-weight="700" textLength="123.1" lengthAdjust="spacingAndGlyphs" >web core nuuimhfspxu</text>
<text x="715.5" y="134.7" font-size="11" fill="#b4cfb8" stroke="#b4cfb8" stroke-width="0.6" font-weight="700" textLength="113.5" lengthAdjust="spacingAndGlyphs" >app prod qmtaevhwo</text>
<text x="715.5" y="150.23" font-size="11" fill="#b4cfb8" stroke="#b4cfb8" stroke-width="0.6" font-weight="700" textLength="177.1" lengthAdjust="spacingAndGlyphs" >web http dkrkiuhhnfojmasdlmxt</text>
<text x="715.5" y="170.83" font-size="11" fill="#b4cfb8" stroke="#b4cfb8" stroke-width="0.6" font-weight="700" textLength="181.2" lengthAdjust="spacingAndGlyphs" >web edge ewdqttehaslahobkhiau</text>
<text x="715.5" y="191.43" font-size="11" fill="#b4cfb8" stroke="#b4cfb8" stroke-width="0.6" font-weight="700" textLength="179.8" lengthAdjust="spacingAndGlyphs" >app core qasdscajxokupdekumhk</text>
<text x="715.5" y="212.03" font-size="11" fill="#b4cfb8" stroke="#b4cfb8" stroke-width="0.6" font-weight="700" textLength="174.5" lengthAdjust="spacingAndGlyphs" >app core xcinmsaexnonzsnwtmd</text>
<text x="715.5" y="232.63" font-size="11" fill="#b4cfb8" stroke="#b4cfb8" stroke-width="0.6" font-weight="700" textLength="165" lengthAdjust="spacingAndGlyphs" >web http mpzyuycybpxnwbecue</text>
<text x="715.5" y="248.1" font-size="11" fill="#b4cfb8" stroke="#b4cfb8" stroke-width="0.6" font-weight="700" textLength="124.4" lengthAdjust="spacingAndGlyphs" >svc prod dtbdoinarvs</text>
<text x="715.5" y="258.3" font-size="11" fill="#b4cfb8" stroke="#b4cfb8" stroke-width="0.6" font-weight="700" textLength="87.9" lengthAdjust="spacingAndGlyphs" >api core dgnxk</text>
<text x="715.5" y="273.83" font-size="11" fill="#b4cfb8" stroke="#b4cfb8" stroke-width="0.6" font-weight="700" textLength="189.3" lengthAdjust="spacingAndGlyphs" >web edge wswhhevskmubosdfxmxter</text>
</g></g>
<text x="919" y="108.2" font-size="8.6" fill="#ffffff" font-weight="700" textLength="10.3" lengthAdjust="spacingAndGlyphs" >UP</text>
<text x="919" y="128.8" font-size="8.6" fill="#ffffff" font-weight="700" textLength="10.3" lengthAdjust="spacingAndGlyphs" >UP</text>
<text x="919" y="149.4" font-size="8.6" fill="#ffffff" font-weight="700" textLength="10.3" lengthAdjust="spacingAndGlyphs" >UP</text>
<text x="919" y="170" font-size="8.6" fill="#ffffff" font-weight="700" textLength="10.3" lengthAdjust="spacingAndGlyphs" >UP</text>
<text x="919" y="190.6" font-size="8.6" fill="#ffffff" font-weight="700" textLength="10.3" lengthAdjust="spacingAndGlyphs" >UP</text>
<text x="919" y="211.2" font-size="8.6" fill="#ffffff" font-weight="700" textLength="10.3" lengthAdjust="spacingAndGlyphs" >UP</text>
<text x="919" y="231.8" font-size="8.6" fill="#ffffff" font-weight="700" textLength="10.3" lengthAdjust="spacingAndGlyphs" >UP</text>
<text x="919" y="252.4" font-size="8.6" fill="#ffffff" font-weight="700" textLength="10.3" lengthAdjust="spacingAndGlyphs" >UP</text>
<text x="919" y="273" font-size="8.6" fill="#ffffff" font-weight="700" textLength="10.3" lengthAdjust="spacingAndGlyphs" >UP</text>
<clipPath id="c5"><rect x="947.2" y="93" width="194.7" height="185.8"/></clipPath>
<g clip-path="url(#c5)"><g filter="url(#b45)">
<rect x="939.2" y="85" width="210.7" height="201.8" fill="#1c1f24" />
<text x="949.5" y="109.2" font-size="11.5" fill="#e4e4f2" stroke="#e4e4f2" stroke-width="0.6" font-weight="700" textLength="183.9" lengthAdjust="spacingAndGlyphs" >api core gkovdyjckktbucffonec</text>
<text x="949.5" y="124.65" font-size="11.5" fill="#e4e4f2" stroke="#e4e4f2" stroke-width="0.6" font-weight="700" textLength="123.1" lengthAdjust="spacingAndGlyphs" >api edge myecxeshka</text>
<text x="949.5" y="134.85" font-size="11.5" fill="#e4e4f2" stroke="#e4e4f2" stroke-width="0.6" font-weight="700" textLength="113.5" lengthAdjust="spacingAndGlyphs" >api edge pyiccceqq</text>
<text x="949.5" y="150.4" font-size="11.5" fill="#e4e4f2" stroke="#e4e4f2" stroke-width="0.6" font-weight="700" textLength="177.1" lengthAdjust="spacingAndGlyphs" >api core xbktmosxdzukcxnywa</text>
<text x="949.5" y="171" font-size="11.5" fill="#e4e4f2" stroke="#e4e4f2" stroke-width="0.6" font-weight="700" textLength="181.2" lengthAdjust="spacingAndGlyphs" >web prod iazmcounthfafddykem</text>
<text x="949.5" y="191.59" font-size="11.5" fill="#e4e4f2" stroke="#e4e4f2" stroke-width="0.6" font-weight="700" textLength="179.8" lengthAdjust="spacingAndGlyphs" >app prod mqhhprysajhfkunojsi</text>
<text x="949.5" y="212.19" font-size="11.5" fill="#e4e4f2" stroke="#e4e4f2" stroke-width="0.6" font-weight="700" textLength="174.5" lengthAdjust="spacingAndGlyphs" >app core buucuhbfztmrkcckxh</text>
<text x="949.5" y="232.79" font-size="11.5" fill="#e4e4f2" stroke="#e4e4f2" stroke-width="0.6" font-weight="700" textLength="165" lengthAdjust="spacingAndGlyphs" >web prod fywotnsuyawmzmnjn</text>
<text x="949.5" y="248.25" font-size="11.5" fill="#e4e4f2" stroke="#e4e4f2" stroke-width="0.6" font-weight="700" textLength="124.4" lengthAdjust="spacingAndGlyphs" >svc core evsfpeddtk</text>
<text x="949.5" y="258.45" font-size="11.5" fill="#e4e4f2" stroke="#e4e4f2" stroke-width="0.6" font-weight="700" textLength="87.9" lengthAdjust="spacingAndGlyphs" >web http knkkg</text>
<text x="949.5" y="274" font-size="11.5" fill="#e4e4f2" stroke="#e4e4f2" stroke-width="0.6" font-weight="700" textLength="189.3" lengthAdjust="spacingAndGlyphs" >prd edge kasseuijjdbuncdaaetz</text>
</g></g>
<text x="1147.8" y="108.1" font-size="8.6" fill="#31a82c" font-weight="700" textLength="14.2" lengthAdjust="spacingAndGlyphs" >200</text>
<text x="1147.8" y="128.7" font-size="8.6" fill="#31a82c" font-weight="700" textLength="14.2" lengthAdjust="spacingAndGlyphs" >200</text>
<text x="1147.8" y="149.3" font-size="8.6" fill="#31a82c" font-weight="700" textLength="14.2" lengthAdjust="spacingAndGlyphs" >200</text>
<text x="1147.8" y="169.9" font-size="8.6" fill="#31a82c" font-weight="700" textLength="14.2" lengthAdjust="spacingAndGlyphs" >200</text>
<text x="1147.8" y="190.5" font-size="8.6" fill="#31a82c" font-weight="700" textLength="14.2" lengthAdjust="spacingAndGlyphs" >200</text>
<text x="1147.8" y="211.1" font-size="8.6" fill="#31a82c" font-weight="700" textLength="14.2" lengthAdjust="spacingAndGlyphs" >200</text>
<text x="1147.8" y="231.7" font-size="8.6" fill="#31a82c" font-weight="700" textLength="14.2" lengthAdjust="spacingAndGlyphs" >200</text>
<text x="1147.8" y="252.3" font-size="8.6" fill="#31a82c" font-weight="700" textLength="14.2" lengthAdjust="spacingAndGlyphs" >200</text>
<text x="1147.8" y="272.9" font-size="8.6" fill="#31a82c" font-weight="700" textLength="14.2" lengthAdjust="spacingAndGlyphs" >200</text>
<clipPath id="c6"><rect x="1177.2" y="93" width="196" height="185.8"/></clipPath>
<g clip-path="url(#c6)"><g filter="url(#b45)">
<rect x="1169.2" y="85" width="212" height="201.8" fill="#1c1f24" />
<text x="1179.5" y="109.2" font-size="11.5" fill="#e4e4f2" stroke="#e4e4f2" stroke-width="0.6" font-weight="700" textLength="183.9" lengthAdjust="spacingAndGlyphs" >web http onamsbuhxaefseaundem</text>
<text x="1179.5" y="124.65" font-size="11.5" fill="#e4e4f2" stroke="#e4e4f2" stroke-width="0.6" font-weight="700" textLength="123.1" lengthAdjust="spacingAndGlyphs" >prd http dtoanmdaac</text>
<text x="1179.5" y="134.85" font-size="11.5" fill="#e4e4f2" stroke="#e4e4f2" stroke-width="0.6" font-weight="700" textLength="113.5" lengthAdjust="spacingAndGlyphs" >prd prod whghareas</text>
<text x="1179.5" y="150.4" font-size="11.5" fill="#e4e4f2" stroke="#e4e4f2" stroke-width="0.6" font-weight="700" textLength="177.1" lengthAdjust="spacingAndGlyphs" >svc edge rmndkrfocamdsvvbwh</text>
<text x="1179.5" y="171" font-size="11.5" fill="#e4e4f2" stroke="#e4e4f2" stroke-width="0.6" font-weight="700" textLength="181.2" lengthAdjust="spacingAndGlyphs" >svc edge qahqcngclnissjfcaaw</text>
<text x="1179.5" y="191.59" font-size="11.5" fill="#e4e4f2" stroke="#e4e4f2" stroke-width="0.6" font-weight="700" textLength="179.8" lengthAdjust="spacingAndGlyphs" >app http rtbunnwyufbocdloupa</text>
<text x="1179.5" y="212.19" font-size="11.5" fill="#e4e4f2" stroke="#e4e4f2" stroke-width="0.6" font-weight="700" textLength="174.5" lengthAdjust="spacingAndGlyphs" >prd edge mcmdbmmgaiodugjigx</text>
<text x="1179.5" y="232.79" font-size="11.5" fill="#e4e4f2" stroke="#e4e4f2" stroke-width="0.6" font-weight="700" textLength="165" lengthAdjust="spacingAndGlyphs" >api http mcubewodevlpukede</text>
<text x="1179.5" y="248.25" font-size="11.5" fill="#e4e4f2" stroke="#e4e4f2" stroke-width="0.6" font-weight="700" textLength="124.4" lengthAdjust="spacingAndGlyphs" >svc core xnmioidqcg</text>
<text x="1179.5" y="258.45" font-size="11.5" fill="#e4e4f2" stroke="#e4e4f2" stroke-width="0.6" font-weight="700" textLength="87.9" lengthAdjust="spacingAndGlyphs" >prd core umssv</text>
<text x="1179.5" y="274" font-size="11.5" fill="#e4e4f2" stroke="#e4e4f2" stroke-width="0.6" font-weight="700" textLength="189.3" lengthAdjust="spacingAndGlyphs" >web edge mdumbbydvkhmbehnmmrr</text>
</g></g>
<text x="1377.8" y="108.1" font-size="8.6" fill="#d8d9e2" font-weight="700" textLength="16.5" lengthAdjust="spacingAndGlyphs" >1.10</text>
<text x="1377.8" y="128.7" font-size="8.6" fill="#d8d9e2" font-weight="700" textLength="16.5" lengthAdjust="spacingAndGlyphs" >1.10</text>
<text x="1377.8" y="149.3" font-size="8.6" fill="#d8d9e2" font-weight="700" textLength="16.5" lengthAdjust="spacingAndGlyphs" >1.10</text>
<text x="1377.8" y="169.9" font-size="8.6" fill="#d8d9e2" font-weight="700" textLength="16.5" lengthAdjust="spacingAndGlyphs" >1.10</text>
<text x="1377.8" y="190.5" font-size="8.6" fill="#d8d9e2" font-weight="700" textLength="16.5" lengthAdjust="spacingAndGlyphs" >1.10</text>
<text x="1377.8" y="211.1" font-size="8.6" fill="#d8d9e2" font-weight="700" textLength="16.5" lengthAdjust="spacingAndGlyphs" >1.10</text>
<text x="1377.8" y="231.7" font-size="8.6" fill="#d8d9e2" font-weight="700" textLength="16.5" lengthAdjust="spacingAndGlyphs" >1.10</text>
<text x="1377.8" y="252.3" font-size="8.6" fill="#d8d9e2" font-weight="700" textLength="16.5" lengthAdjust="spacingAndGlyphs" >1.10</text>
<text x="1377.8" y="272.9" font-size="8.6" fill="#d8d9e2" font-weight="700" textLength="16.5" lengthAdjust="spacingAndGlyphs" >1.10</text>
<clipPath id="c7"><rect x="711" y="306" width="189.2" height="185.8"/></clipPath>
<g clip-path="url(#c7)"><g filter="url(#b45)">
<rect x="703" y="298" width="205.2" height="201.8" fill="#1c1f24" />
<text x="714" y="322" font-size="11.5" fill="#e4e4f2" stroke="#e4e4f2" stroke-width="0.6" font-weight="700" textLength="182" lengthAdjust="spacingAndGlyphs" >prd core iidkfgfwqoecscormbh</text>
<text x="714" y="337.45" font-size="11.5" fill="#e4e4f2" stroke="#e4e4f2" stroke-width="0.6" font-weight="700" textLength="123.1" lengthAdjust="spacingAndGlyphs" >api edge xkmokilqjc</text>
<text x="714" y="347.65" font-size="11.5" fill="#e4e4f2" stroke="#e4e4f2" stroke-width="0.6" font-weight="700" textLength="113.5" lengthAdjust="spacingAndGlyphs" >api core ebfcsvmbk</text>
<text x="714" y="363.19" font-size="11.5" fill="#e4e4f2" stroke="#e4e4f2" stroke-width="0.6" font-weight="700" textLength="177.1" lengthAdjust="spacingAndGlyphs" >prd http uyeeswkpvsddakulab</text>
<text x="714" y="383.8" font-size="11.5" fill="#e4e4f2" stroke="#e4e4f2" stroke-width="0.6" font-weight="700" textLength="181.2" lengthAdjust="spacingAndGlyphs" >prd prod eqajfkkmbvazshrbcak</text>
<text x="714" y="404.4" font-size="11.5" fill="#e4e4f2" stroke="#e4e4f2" stroke-width="0.6" font-weight="700" textLength="179.8" lengthAdjust="spacingAndGlyphs" >web edge kkqhmovpsfpcuedckei</text>
<text x="714" y="425" font-size="11.5" fill="#e4e4f2" stroke="#e4e4f2" stroke-width="0.6" font-weight="700" textLength="174.5" lengthAdjust="spacingAndGlyphs" >api edge dndejzmstbziqekuxk</text>
<text x="714" y="445.6" font-size="11.5" fill="#e4e4f2" stroke="#e4e4f2" stroke-width="0.6" font-weight="700" textLength="165" lengthAdjust="spacingAndGlyphs" >api http nmmeahnczmunhshec</text>
<text x="714" y="461.05" font-size="11.5" fill="#e4e4f2" stroke="#e4e4f2" stroke-width="0.6" font-weight="700" textLength="124.4" lengthAdjust="spacingAndGlyphs" >api prod ugvamzcxen</text>
<text x="714" y="471.25" font-size="11.5" fill="#e4e4f2" stroke="#e4e4f2" stroke-width="0.6" font-weight="700" textLength="87.9" lengthAdjust="spacingAndGlyphs" >prd http jxpxn</text>
<text x="714" y="481.65" font-size="11.5" fill="#e4e4f2" stroke="#e4e4f2" stroke-width="0.6" font-weight="700" textLength="124" lengthAdjust="spacingAndGlyphs" >api http ldhsydxkab</text>
<text x="714" y="491.85" font-size="11.5" fill="#e4e4f2" stroke="#e4e4f2" stroke-width="0.6" font-weight="700" textLength="62" lengthAdjust="spacingAndGlyphs" >prd core m</text>
</g></g>
<text x="900.4" y="321" font-size="8.2" fill="#31a82c" font-weight="700" textLength="16.8" lengthAdjust="spacingAndGlyphs" >12.3</text>
<text x="918.9" y="321" font-size="6.6" fill="#31a82c" font-weight="700" textLength="10.6" lengthAdjust="spacingAndGlyphs" >ms</text>
<text x="906.2" y="336.1" font-size="8.2" fill="#31a82c" font-weight="700" textLength="16.8" lengthAdjust="spacingAndGlyphs" >12.8</text>
<text x="906.2" y="346.1" font-size="6.6" fill="#31a82c" font-weight="700" textLength="10.6" lengthAdjust="spacingAndGlyphs" >ms</text>
<text x="900.2" y="362.2" font-size="8.2" fill="#31a82c" font-weight="700" textLength="16.8" lengthAdjust="spacingAndGlyphs" >13.4</text>
<text x="918.7" y="362.2" font-size="6.6" fill="#31a82c" font-weight="700" textLength="10.6" lengthAdjust="spacingAndGlyphs" >ms</text>
<text x="900.2" y="382.8" font-size="8.2" fill="#31a82c" font-weight="700" textLength="16.8" lengthAdjust="spacingAndGlyphs" >13.3</text>
<text x="918.7" y="382.8" font-size="6.6" fill="#31a82c" font-weight="700" textLength="10.6" lengthAdjust="spacingAndGlyphs" >ms</text>
<text x="900.2" y="403.4" font-size="8.2" fill="#31a82c" font-weight="700" textLength="16.8" lengthAdjust="spacingAndGlyphs" >11.8</text>
<text x="918.7" y="403.4" font-size="6.6" fill="#31a82c" font-weight="700" textLength="10.6" lengthAdjust="spacingAndGlyphs" >ms</text>
<text x="900.2" y="424" font-size="8.2" fill="#31a82c" font-weight="700" textLength="16.8" lengthAdjust="spacingAndGlyphs" >14.4</text>
<text x="918.7" y="424" font-size="6.6" fill="#31a82c" font-weight="700" textLength="10.6" lengthAdjust="spacingAndGlyphs" >ms</text>
<text x="900" y="444.6" font-size="8.2" fill="#31a82c" font-weight="700" textLength="16.8" lengthAdjust="spacingAndGlyphs" >24.7</text>
<text x="918.5" y="444.6" font-size="6.6" fill="#31a82c" font-weight="700" textLength="10.6" lengthAdjust="spacingAndGlyphs" >ms</text>
<text x="903.4" y="459.7" font-size="8.2" fill="#31a82c" font-weight="700" textLength="16.8" lengthAdjust="spacingAndGlyphs" >25.6</text>
<text x="903.4" y="469.7" font-size="6.6" fill="#31a82c" font-weight="700" textLength="10.6" lengthAdjust="spacingAndGlyphs" >ms</text>
<text x="900.6" y="480.3" font-size="8.2" fill="#31a82c" font-weight="700" textLength="16.8" lengthAdjust="spacingAndGlyphs" >13.8</text>
<text x="900.6" y="490.3" font-size="6.6" fill="#31a82c" font-weight="700" textLength="10.6" lengthAdjust="spacingAndGlyphs" >ms</text>
<clipPath id="c8"><rect x="942.4" y="306" width="189.3" height="185.8"/></clipPath>
<g clip-path="url(#c8)"><g filter="url(#b45)">
<rect x="934.4" y="298" width="205.3" height="201.8" fill="#1c1f24" />
<text x="945" y="322" font-size="11.5" fill="#e4e4f2" stroke="#e4e4f2" stroke-width="0.6" font-weight="700" textLength="182" lengthAdjust="spacingAndGlyphs" >app prod kubaodyvbifaeknhodv</text>
<text x="945" y="337.45" font-size="11.5" fill="#e4e4f2" stroke="#e4e4f2" stroke-width="0.6" font-weight="700" textLength="123.1" lengthAdjust="spacingAndGlyphs" >web prod emhxnsialt</text>
<text x="945" y="347.65" font-size="11.5" fill="#e4e4f2" stroke="#e4e4f2" stroke-width="0.6" font-weight="700" textLength="113.5" lengthAdjust="spacingAndGlyphs" >app http tgyhkpkpl</text>
<text x="945" y="363.19" font-size="11.5" fill="#e4e4f2" stroke="#e4e4f2" stroke-width="0.6" font-weight="700" textLength="177.1" lengthAdjust="spacingAndGlyphs" >svc http fghablybgowxzwtgdc</text>
<text x="945" y="383.8" font-size="11.5" fill="#e4e4f2" stroke="#e4e4f2" stroke-width="0.6" font-weight="700" textLength="181.2" lengthAdjust="spacingAndGlyphs" >api http snuvbkxgdemhnmfbwcs</text>
<text x="945" y="404.4" font-size="11.5" fill="#e4e4f2" stroke="#e4e4f2" stroke-width="0.6" font-weight="700" textLength="179.8" lengthAdjust="spacingAndGlyphs" >svc prod fuiahbdusgtqgffocji</text>
<text x="945" y="425" font-size="11.5" fill="#e4e4f2" stroke="#e4e4f2" stroke-width="0.6" font-weight="700" textLength="174.5" lengthAdjust="spacingAndGlyphs" >app edge edobntweimhflfxodm</text>
<text x="945" y="445.6" font-size="11.5" fill="#e4e4f2" stroke="#e4e4f2" stroke-width="0.6" font-weight="700" textLength="165" lengthAdjust="spacingAndGlyphs" >web http vklntbzaevsccjxnn</text>
<text x="945" y="461.05" font-size="11.5" fill="#e4e4f2" stroke="#e4e4f2" stroke-width="0.6" font-weight="700" textLength="124.4" lengthAdjust="spacingAndGlyphs" >svc core yteazqdngx</text>
<text x="945" y="471.25" font-size="11.5" fill="#e4e4f2" stroke="#e4e4f2" stroke-width="0.6" font-weight="700" textLength="87.9" lengthAdjust="spacingAndGlyphs" >api core aasfx</text>
<text x="945" y="481.65" font-size="11.5" fill="#e4e4f2" stroke="#e4e4f2" stroke-width="0.6" font-weight="700" textLength="124" lengthAdjust="spacingAndGlyphs" >web edge csfmashbnm</text>
<text x="945" y="491.85" font-size="11.5" fill="#e4e4f2" stroke="#e4e4f2" stroke-width="0.6" font-weight="700" textLength="62" lengthAdjust="spacingAndGlyphs" >web core h</text>
</g></g>
<text x="1132.5" y="321" font-size="8.2" fill="#31a82c" font-weight="700" textLength="16.8" lengthAdjust="spacingAndGlyphs" >4.06</text>
<text x="1151" y="321" font-size="6.6" fill="#31a82c" font-weight="700" textLength="10.6" lengthAdjust="spacingAndGlyphs" >ms</text>
<text x="1138.3" y="336.1" font-size="8.2" fill="#31a82c" font-weight="700" textLength="16.8" lengthAdjust="spacingAndGlyphs" >4.23</text>
<text x="1138.3" y="346.1" font-size="6.6" fill="#31a82c" font-weight="700" textLength="10.6" lengthAdjust="spacingAndGlyphs" >ms</text>
<text x="1132.5" y="362.2" font-size="8.2" fill="#31a82c" font-weight="700" textLength="16.8" lengthAdjust="spacingAndGlyphs" >3.95</text>
<text x="1151" y="362.2" font-size="6.6" fill="#31a82c" font-weight="700" textLength="10.6" lengthAdjust="spacingAndGlyphs" >ms</text>
<text x="1132.5" y="382.8" font-size="8.2" fill="#31a82c" font-weight="700" textLength="16.8" lengthAdjust="spacingAndGlyphs" >4.30</text>
<text x="1151" y="382.8" font-size="6.6" fill="#31a82c" font-weight="700" textLength="10.6" lengthAdjust="spacingAndGlyphs" >ms</text>
<text x="1132.5" y="403.4" font-size="8.2" fill="#31a82c" font-weight="700" textLength="16.8" lengthAdjust="spacingAndGlyphs" >3.97</text>
<text x="1151" y="403.4" font-size="6.6" fill="#31a82c" font-weight="700" textLength="10.6" lengthAdjust="spacingAndGlyphs" >ms</text>
<text x="1132.5" y="424" font-size="8.2" fill="#31a82c" font-weight="700" textLength="16.8" lengthAdjust="spacingAndGlyphs" >5.46</text>
<text x="1151" y="424" font-size="6.6" fill="#31a82c" font-weight="700" textLength="10.6" lengthAdjust="spacingAndGlyphs" >ms</text>
<text x="1132.5" y="444.6" font-size="8.2" fill="#31a82c" font-weight="700" textLength="16.8" lengthAdjust="spacingAndGlyphs" >4.27</text>
<text x="1151" y="444.6" font-size="6.6" fill="#31a82c" font-weight="700" textLength="10.6" lengthAdjust="spacingAndGlyphs" >ms</text>
<text x="1132" y="459.7" font-size="8.2" fill="#31a82c" font-weight="700" textLength="22" lengthAdjust="spacingAndGlyphs" >13.00</text>
<text x="1132" y="469.7" font-size="6.6" fill="#31a82c" font-weight="700" textLength="10.6" lengthAdjust="spacingAndGlyphs" >ms</text>
<text x="1133" y="480.3" font-size="8.2" fill="#31a82c" font-weight="700" textLength="16.8" lengthAdjust="spacingAndGlyphs" >3.76</text>
<text x="1133" y="490.3" font-size="6.6" fill="#31a82c" font-weight="700" textLength="10.6" lengthAdjust="spacingAndGlyphs" >ms</text>
<clipPath id="c9"><rect x="1176.9" y="306" width="199.4" height="185.8"/></clipPath>
<g clip-path="url(#c9)"><g filter="url(#b45)">
<rect x="1168.9" y="298" width="215.4" height="201.8" fill="#1c1f24" />
<text x="1179.5" y="322" font-size="11.5" fill="#e4e4f2" stroke="#e4e4f2" stroke-width="0.6" font-weight="700" textLength="183.9" lengthAdjust="spacingAndGlyphs" >api prod eyksdvnsfzbsuhhxzalk</text>
<text x="1179.5" y="337.45" font-size="11.5" fill="#e4e4f2" stroke="#e4e4f2" stroke-width="0.6" font-weight="700" textLength="123.1" lengthAdjust="spacingAndGlyphs" >prd http aeewocauas</text>
<text x="1179.5" y="347.65" font-size="11.5" fill="#e4e4f2" stroke="#e4e4f2" stroke-width="0.6" font-weight="700" textLength="113.5" lengthAdjust="spacingAndGlyphs" >api http dyfqklcno</text>
<text x="1179.5" y="363.19" font-size="11.5" fill="#e4e4f2" stroke="#e4e4f2" stroke-width="0.6" font-weight="700" textLength="177.1" lengthAdjust="spacingAndGlyphs" >prd http tnmoukkqmybhhutbvx</text>
<text x="1179.5" y="383.8" font-size="11.5" fill="#e4e4f2" stroke="#e4e4f2" stroke-width="0.6" font-weight="700" textLength="181.2" lengthAdjust="spacingAndGlyphs" >web http vanwtsokbdnbawnnnux</text>
<text x="1179.5" y="404.4" font-size="11.5" fill="#e4e4f2" stroke="#e4e4f2" stroke-width="0.6" font-weight="700" textLength="179.8" lengthAdjust="spacingAndGlyphs" >web http ddzfluuesbbiaupspuu</text>
<text x="1179.5" y="425" font-size="11.5" fill="#e4e4f2" stroke="#e4e4f2" stroke-width="0.6" font-weight="700" textLength="174.5" lengthAdjust="spacingAndGlyphs" >api core eevchylncjonrkwdna</text>
<text x="1179.5" y="445.6" font-size="11.5" fill="#e4e4f2" stroke="#e4e4f2" stroke-width="0.6" font-weight="700" textLength="165" lengthAdjust="spacingAndGlyphs" >app http dvhmoduemjrsgdxkd</text>
<text x="1179.5" y="461.05" font-size="11.5" fill="#e4e4f2" stroke="#e4e4f2" stroke-width="0.6" font-weight="700" textLength="124.4" lengthAdjust="spacingAndGlyphs" >prd core jwphzjdmet</text>
<text x="1179.5" y="471.25" font-size="11.5" fill="#e4e4f2" stroke="#e4e4f2" stroke-width="0.6" font-weight="700" textLength="87.9" lengthAdjust="spacingAndGlyphs" >app prod ikbwq</text>
<text x="1179.5" y="486.8" font-size="11.5" fill="#e4e4f2" stroke="#e4e4f2" stroke-width="0.6" font-weight="700" textLength="189.3" lengthAdjust="spacingAndGlyphs" >api edge gorysmhigoonerbdeciw</text>
</g></g>
<text x="1394.3" y="321" font-size="8.6" fill="#d8d9e2" font-weight="700" text-anchor="end" textLength="4.8" lengthAdjust="spacingAndGlyphs" >4</text>
<text x="1394.3" y="341.6" font-size="8.6" fill="#d8d9e2" font-weight="700" text-anchor="end" textLength="4.8" lengthAdjust="spacingAndGlyphs" >4</text>
<text x="1394.3" y="362.2" font-size="8.6" fill="#d8d9e2" font-weight="700" text-anchor="end" textLength="4.8" lengthAdjust="spacingAndGlyphs" >4</text>
<text x="1394.3" y="382.8" font-size="8.6" fill="#d8d9e2" font-weight="700" text-anchor="end" textLength="4.8" lengthAdjust="spacingAndGlyphs" >4</text>
<text x="1394.3" y="403.4" font-size="8.6" fill="#d8d9e2" font-weight="700" text-anchor="end" textLength="4.8" lengthAdjust="spacingAndGlyphs" >4</text>
<text x="1394.3" y="424" font-size="8.6" fill="#d8d9e2" font-weight="700" text-anchor="end" textLength="4.8" lengthAdjust="spacingAndGlyphs" >4</text>
<text x="1394.3" y="444.6" font-size="8.6" fill="#d8d9e2" font-weight="700" text-anchor="end" textLength="4.8" lengthAdjust="spacingAndGlyphs" >4</text>
<text x="1394.3" y="465.2" font-size="8.6" fill="#d8d9e2" font-weight="700" text-anchor="end" textLength="4.8" lengthAdjust="spacingAndGlyphs" >4</text>
<text x="1394.3" y="485.8" font-size="8.6" fill="#d8d9e2" font-weight="700" text-anchor="end" textLength="4.8" lengthAdjust="spacingAndGlyphs" >4</text>
<clipPath id="c10"><rect x="709.8" y="518.6" width="138.9" height="186"/></clipPath>
<g clip-path="url(#c10)"><g filter="url(#b45)">
<rect x="701.8" y="510.6" width="154.9" height="202" fill="#1c1f24" />
<text x="712" y="529.65" font-size="11.5" fill="#e4e4f2" stroke="#e4e4f2" stroke-width="0.6" font-weight="700" textLength="134" lengthAdjust="spacingAndGlyphs" >prdsvcwohdbsurymvsdjt</text>
<text x="712" y="539.85" font-size="11.5" fill="#e4e4f2" stroke="#e4e4f2" stroke-width="0.6" font-weight="700" textLength="60.5" lengthAdjust="spacingAndGlyphs" >prdsvcjek</text>
<text x="712" y="550.25" font-size="11.5" fill="#e4e4f2" stroke="#e4e4f2" stroke-width="0.6" font-weight="700" textLength="134" lengthAdjust="spacingAndGlyphs" >appcorehocbsygsivjygo</text>
<text x="712" y="560.45" font-size="11.5" fill="#e4e4f2" stroke="#e4e4f2" stroke-width="0.6" font-weight="700" textLength="120.4" lengthAdjust="spacingAndGlyphs" >apiwebexmfoocjnqmwp</text>
<text x="712" y="570.85" font-size="11.5" fill="#e4e4f2" stroke="#e4e4f2" stroke-width="0.6" font-weight="700" textLength="134" lengthAdjust="spacingAndGlyphs" >apiwebqrajssdchzqxbse</text>
<text x="712" y="581.05" font-size="11.5" fill="#e4e4f2" stroke="#e4e4f2" stroke-width="0.6" font-weight="700" textLength="55.7" lengthAdjust="spacingAndGlyphs" >apiwebnai</text>
<text x="712" y="591.45" font-size="11.5" fill="#e4e4f2" stroke="#e4e4f2" stroke-width="0.6" font-weight="700" textLength="134" lengthAdjust="spacingAndGlyphs" >appcorehjckzetcobehti</text>
<text x="712" y="601.65" font-size="11.5" fill="#e4e4f2" stroke="#e4e4f2" stroke-width="0.6" font-weight="700" textLength="60.5" lengthAdjust="spacingAndGlyphs" >apiwebzut</text>
<text x="712" y="612.05" font-size="11.5" fill="#e4e4f2" stroke="#e4e4f2" stroke-width="0.6" font-weight="700" textLength="134" lengthAdjust="spacingAndGlyphs" >appcoreeeaduufgpsbabe</text>
<text x="712" y="622.25" font-size="11.5" fill="#e4e4f2" stroke="#e4e4f2" stroke-width="0.6" font-weight="700" textLength="58" lengthAdjust="spacingAndGlyphs" >appcoregu</text>
<text x="712" y="632.65" font-size="11.5" fill="#e4e4f2" stroke="#e4e4f2" stroke-width="0.6" font-weight="700" textLength="134" lengthAdjust="spacingAndGlyphs" >apiwebmociuqskhaugpkb</text>
<text x="712" y="642.85" font-size="11.5" fill="#e4e4f2" stroke="#e4e4f2" stroke-width="0.6" font-weight="700" textLength="53.3" lengthAdjust="spacingAndGlyphs" >prdsvcla</text>
<text x="712" y="653.25" font-size="11.5" fill="#e4e4f2" stroke="#e4e4f2" stroke-width="0.6" font-weight="700" textLength="134" lengthAdjust="spacingAndGlyphs" >appcoreomuftscolnzwkk</text>
<text x="712" y="663.45" font-size="11.5" fill="#e4e4f2" stroke="#e4e4f2" stroke-width="0.6" font-weight="700" textLength="44.9" lengthAdjust="spacingAndGlyphs" >appcore</text>
<text x="712" y="673.85" font-size="11.5" fill="#e4e4f2" stroke="#e4e4f2" stroke-width="0.6" font-weight="700" textLength="134" lengthAdjust="spacingAndGlyphs" >appcoreaaiwkxujcbmbzg</text>
<text x="712" y="684.05" font-size="11.5" fill="#e4e4f2" stroke="#e4e4f2" stroke-width="0.6" font-weight="700" textLength="90.4" lengthAdjust="spacingAndGlyphs" >apiweboajrxdbm</text>
<text x="712" y="694.45" font-size="11.5" fill="#e4e4f2" stroke="#e4e4f2" stroke-width="0.6" font-weight="700" textLength="134" lengthAdjust="spacingAndGlyphs" >apiwebivoagdovdkeodsd</text>
<text x="712" y="704.65" font-size="11.5" fill="#e4e4f2" stroke="#e4e4f2" stroke-width="0.6" font-weight="700" textLength="67.7" lengthAdjust="spacingAndGlyphs" >apiwebrycsm</text>
</g></g>
<text x="878.2" y="528.7" font-size="8.4" fill="#31a82c" font-weight="700" textLength="20.9" lengthAdjust="spacingAndGlyphs" >175 d</text>
<text x="878.2" y="538.6" font-size="8.4" fill="#31a82c" font-weight="700" textLength="33.5" lengthAdjust="spacingAndGlyphs" >17:19:59</text>
<text x="888.2" y="549.3" font-size="8.4" fill="#31a82c" font-weight="700" textLength="20.9" lengthAdjust="spacingAndGlyphs" >175 d</text>
<text x="888.2" y="559.2" font-size="8.4" fill="#31a82c" font-weight="700" textLength="33.5" lengthAdjust="spacingAndGlyphs" >17:19:59</text>
<text x="877" y="569.9" font-size="8.4" fill="#31a82c" font-weight="700" textLength="20.9" lengthAdjust="spacingAndGlyphs" >175 d</text>
<text x="877" y="579.8" font-size="8.4" fill="#31a82c" font-weight="700" textLength="33.5" lengthAdjust="spacingAndGlyphs" >17:19:59</text>
<text x="878.4" y="590.5" font-size="8.4" fill="#31a82c" font-weight="700" textLength="20.9" lengthAdjust="spacingAndGlyphs" >175 d</text>
<text x="878.4" y="600.4" font-size="8.4" fill="#31a82c" font-weight="700" textLength="33.5" lengthAdjust="spacingAndGlyphs" >17:19:59</text>
<text x="877.8" y="611.1" font-size="8.4" fill="#31a82c" font-weight="700" textLength="20.9" lengthAdjust="spacingAndGlyphs" >175 d</text>
<text x="877.8" y="621" font-size="8.4" fill="#31a82c" font-weight="700" textLength="33.5" lengthAdjust="spacingAndGlyphs" >17:19:59</text>
<text x="876.4" y="631.7" font-size="8.4" fill="#31a82c" font-weight="700" textLength="20.9" lengthAdjust="spacingAndGlyphs" >175 d</text>
<text x="876.4" y="641.6" font-size="8.4" fill="#31a82c" font-weight="700" textLength="33.5" lengthAdjust="spacingAndGlyphs" >17:19:59</text>
<text x="874.8" y="652.3" font-size="8.4" fill="#31a82c" font-weight="700" textLength="20.9" lengthAdjust="spacingAndGlyphs" >175 d</text>
<text x="874.8" y="662.2" font-size="8.4" fill="#31a82c" font-weight="700" textLength="33.5" lengthAdjust="spacingAndGlyphs" >17:19:59</text>
<text x="883.9" y="672.9" font-size="8.4" fill="#31a82c" font-weight="700" textLength="20.9" lengthAdjust="spacingAndGlyphs" >175 d</text>
<text x="883.9" y="682.8" font-size="8.4" fill="#31a82c" font-weight="700" textLength="33.5" lengthAdjust="spacingAndGlyphs" >17:19:59</text>
<text x="879.8" y="693.5" font-size="8.4" fill="#31a82c" font-weight="700" textLength="20.9" lengthAdjust="spacingAndGlyphs" >175 d</text>
<text x="879.8" y="703.4" font-size="8.4" fill="#31a82c" font-weight="700" textLength="33.5" lengthAdjust="spacingAndGlyphs" >17:19:59</text>
<clipPath id="c11"><rect x="942.7" y="519.3" width="198.3" height="185.3"/></clipPath>
<g clip-path="url(#c11)"><g filter="url(#b45)">
<rect x="934.7" y="511.3" width="214.3" height="201.3" fill="#1c1f24" />
<text x="945.5" y="534.79" font-size="11.5" fill="#e4e4f2" stroke="#e4e4f2" stroke-width="0.6" font-weight="700" textLength="183.9" lengthAdjust="spacingAndGlyphs" >api core dklxxgujszamdieduiks</text>
<text x="945.5" y="550.25" font-size="11.5" fill="#e4e4f2" stroke="#e4e4f2" stroke-width="0.6" font-weight="700" textLength="123.1" lengthAdjust="spacingAndGlyphs" >web http nwyemwexkv</text>
<text x="945.5" y="560.45" font-size="11.5" fill="#e4e4f2" stroke="#e4e4f2" stroke-width="0.6" font-weight="700" textLength="113.5" lengthAdjust="spacingAndGlyphs" >prd prod bwtaubgfj</text>
<text x="945.5" y="576" font-size="11.5" fill="#e4e4f2" stroke="#e4e4f2" stroke-width="0.6" font-weight="700" textLength="177.1" lengthAdjust="spacingAndGlyphs" >api http uaeedkuxnnhthvaroq</text>
<text x="945.5" y="596.59" font-size="11.5" fill="#e4e4f2" stroke="#e4e4f2" stroke-width="0.6" font-weight="700" textLength="181.2" lengthAdjust="spacingAndGlyphs" >app prod evdpgepjiijvodbpmai</text>
<text x="945.5" y="617.19" font-size="11.5" fill="#e4e4f2" stroke="#e4e4f2" stroke-width="0.6" font-weight="700" textLength="179.8" lengthAdjust="spacingAndGlyphs" >api edge qwwpygphhwhjnuhbsma</text>
<text x="945.5" y="637.79" font-size="11.5" fill="#e4e4f2" stroke="#e4e4f2" stroke-width="0.6" font-weight="700" textLength="174.5" lengthAdjust="spacingAndGlyphs" >svc http yavgdytacrmhmjdoen</text>
<text x="945.5" y="658.39" font-size="11.5" fill="#e4e4f2" stroke="#e4e4f2" stroke-width="0.6" font-weight="700" textLength="165" lengthAdjust="spacingAndGlyphs" >prd core yamgmeuushpaakbtw</text>
<text x="945.5" y="673.85" font-size="11.5" fill="#e4e4f2" stroke="#e4e4f2" stroke-width="0.6" font-weight="700" textLength="124.4" lengthAdjust="spacingAndGlyphs" >web core sksvnckovh</text>
<text x="945.5" y="684.05" font-size="11.5" fill="#e4e4f2" stroke="#e4e4f2" stroke-width="0.6" font-weight="700" textLength="87.9" lengthAdjust="spacingAndGlyphs" >svc prod eaztc</text>
<text x="945.5" y="699.59" font-size="11.5" fill="#e4e4f2" stroke="#e4e4f2" stroke-width="0.6" font-weight="700" textLength="189.3" lengthAdjust="spacingAndGlyphs" >svc edge qwawhreawyardpkusssp</text>
</g></g>
<text x="1146.8" y="533.8" font-size="8.6" fill="#31a82c" font-weight="700" textLength="15.5" lengthAdjust="spacingAndGlyphs" >YES</text>
<text x="1146.8" y="554.4" font-size="8.6" fill="#31a82c" font-weight="700" textLength="15.5" lengthAdjust="spacingAndGlyphs" >YES</text>
<text x="1146.8" y="575" font-size="8.6" fill="#31a82c" font-weight="700" textLength="15.5" lengthAdjust="spacingAndGlyphs" >YES</text>
<text x="1146.8" y="595.6" font-size="8.6" fill="#31a82c" font-weight="700" textLength="15.5" lengthAdjust="spacingAndGlyphs" >YES</text>
<text x="1146.8" y="616.2" font-size="8.6" fill="#31a82c" font-weight="700" textLength="15.5" lengthAdjust="spacingAndGlyphs" >YES</text>
<text x="1146.8" y="636.8" font-size="8.6" fill="#31a82c" font-weight="700" textLength="15.5" lengthAdjust="spacingAndGlyphs" >YES</text>
<text x="1146.8" y="657.4" font-size="8.6" fill="#31a82c" font-weight="700" textLength="15.5" lengthAdjust="spacingAndGlyphs" >YES</text>
<text x="1146.8" y="678" font-size="8.6" fill="#31a82c" font-weight="700" textLength="15.5" lengthAdjust="spacingAndGlyphs" >YES</text>
<text x="1146.8" y="698.6" font-size="8.6" fill="#31a82c" font-weight="700" textLength="15.5" lengthAdjust="spacingAndGlyphs" >YES</text>
<clipPath id="tlsc"><rect x="1175" y="519" width="225" height="185.5"/></clipPath><g clip-path="url(#tlsc)">
<text x="1292.1" y="537.1" font-size="10.4" fill="#ccccdc" stroke="#ccccdc" stroke-width="0.15" textLength="33.2" lengthAdjust="spacingAndGlyphs" >TLS 1.2</text>
<line x1="1288" y1="545.63" x2="1399.6" y2="545.63" stroke="rgba(204,204,220,0.09)" stroke-width="1" />
<text x="1292.1" y="561.53" font-size="10.4" fill="#ccccdc" stroke="#ccccdc" stroke-width="0.15" textLength="33.2" lengthAdjust="spacingAndGlyphs" >TLS 1.2</text>
<line x1="1288" y1="570.06" x2="1399.6" y2="570.06" stroke="rgba(204,204,220,0.09)" stroke-width="1" />
<text x="1292.1" y="585.96" font-size="10.4" fill="#ccccdc" stroke="#ccccdc" stroke-width="0.15" textLength="33.2" lengthAdjust="spacingAndGlyphs" >TLS 1.2</text>
<line x1="1288" y1="594.49" x2="1399.6" y2="594.49" stroke="rgba(204,204,220,0.09)" stroke-width="1" />
<text x="1292.1" y="610.39" font-size="10.4" fill="#ccccdc" stroke="#ccccdc" stroke-width="0.15" textLength="33.2" lengthAdjust="spacingAndGlyphs" >TLS 1.2</text>
<line x1="1288" y1="618.92" x2="1399.6" y2="618.92" stroke="rgba(204,204,220,0.09)" stroke-width="1" />
<text x="1292.1" y="634.82" font-size="10.4" fill="#ccccdc" stroke="#ccccdc" stroke-width="0.15" textLength="33.2" lengthAdjust="spacingAndGlyphs" >TLS 1.2</text>
<line x1="1288" y1="643.35" x2="1399.6" y2="643.35" stroke="rgba(204,204,220,0.09)" stroke-width="1" />
<text x="1292.1" y="659.25" font-size="10.4" fill="#ccccdc" stroke="#ccccdc" stroke-width="0.15" textLength="33.2" lengthAdjust="spacingAndGlyphs" >TLS 1.2</text>
<line x1="1288" y1="667.78" x2="1399.6" y2="667.78" stroke="rgba(204,204,220,0.09)" stroke-width="1" />
<text x="1292.1" y="683.68" font-size="10.4" fill="#ccccdc" stroke="#ccccdc" stroke-width="0.15" textLength="33.2" lengthAdjust="spacingAndGlyphs" >TLS 1.2</text>
<line x1="1288" y1="692.21" x2="1399.6" y2="692.21" stroke="rgba(204,204,220,0.09)" stroke-width="1" />
<text x="1292.1" y="708.11" font-size="10.4" fill="#ccccdc" stroke="#ccccdc" stroke-width="0.15" textLength="33.2" lengthAdjust="spacingAndGlyphs" >TLS 1.2</text>
</g>
<clipPath id="c12"><rect x="1175.3" y="519.9" width="112" height="184.7"/></clipPath>
<g clip-path="url(#c12)"><g filter="url(#b45)">
<rect x="1167.3" y="511.9" width="128" height="200.7" fill="#1c1f24" />
<text x="1178" y="537.2" font-size="11.5" fill="#e4e4f2" stroke="#e4e4f2" stroke-width="0.6" font-weight="700" textLength="95" lengthAdjust="spacingAndGlyphs" >api core obpbou</text>
<text x="1178" y="561.62" font-size="11.5" fill="#e4e4f2" stroke="#e4e4f2" stroke-width="0.6" font-weight="700" textLength="95" lengthAdjust="spacingAndGlyphs" >api core jwabya</text>
<text x="1178" y="586.06" font-size="11.5" fill="#e4e4f2" stroke="#e4e4f2" stroke-width="0.6" font-weight="700" textLength="95" lengthAdjust="spacingAndGlyphs" >api core cwneev</text>
<text x="1178" y="610.49" font-size="11.5" fill="#e4e4f2" stroke="#e4e4f2" stroke-width="0.6" font-weight="700" textLength="95" lengthAdjust="spacingAndGlyphs" >prd edge dgeomt</text>
<text x="1178" y="634.92" font-size="11.5" fill="#e4e4f2" stroke="#e4e4f2" stroke-width="0.6" font-weight="700" textLength="95" lengthAdjust="spacingAndGlyphs" >svc edge mosspm</text>
<text x="1178" y="659.35" font-size="11.5" fill="#e4e4f2" stroke="#e4e4f2" stroke-width="0.6" font-weight="700" textLength="95" lengthAdjust="spacingAndGlyphs" >app edge omsxqi</text>
<text x="1178" y="683.77" font-size="11.5" fill="#e4e4f2" stroke="#e4e4f2" stroke-width="0.6" font-weight="700" textLength="95" lengthAdjust="spacingAndGlyphs" >api edge kavduc</text>
<text x="1178" y="708.21" font-size="11.5" fill="#e4e4f2" stroke="#e4e4f2" stroke-width="0.6" font-weight="700" textLength="95" lengthAdjust="spacingAndGlyphs" >svc http snkooc</text>
</g></g>
</svg>
</body></html>
